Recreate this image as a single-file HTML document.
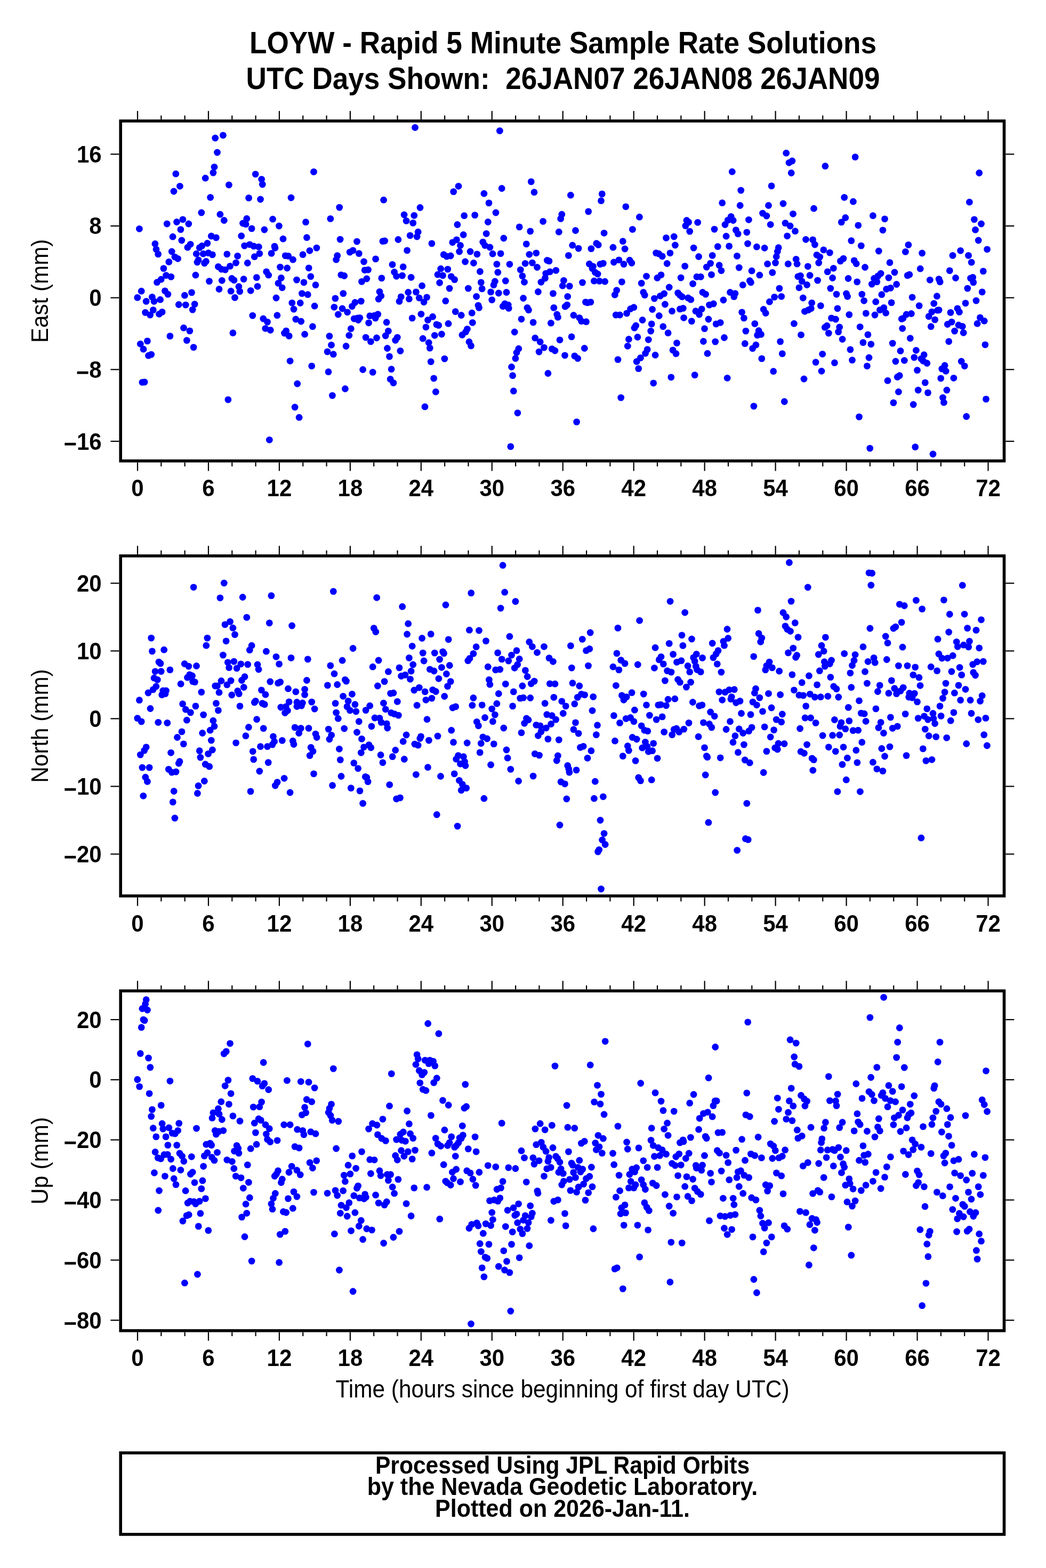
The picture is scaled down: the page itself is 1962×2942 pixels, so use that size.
<!DOCTYPE html>
<html><head><meta charset="utf-8"><title>LOYW - Rapid 5 Minute Sample Rate Solutions</title>
<style>html,body{margin:0;padding:0;background:#fff;} svg{display:block;}</style></head>
<body>
<svg width="1962" height="2942" viewBox="0 0 1962 2942">
<rect width="1962" height="2942" fill="#fff"/>
<text transform="translate(1056.00,100.00) scale(1,1.07)" font-family="Liberation Sans, Arial, sans-serif" font-weight="bold" font-size="53.2" text-anchor="middle" style="white-space:pre" >LOYW - Rapid 5 Minute Sample Rate Solutions</text>
<text transform="translate(1056.00,166.80) scale(1,1.07)" font-family="Liberation Sans, Arial, sans-serif" font-weight="bold" font-size="53.1" text-anchor="middle" style="white-space:pre" >UTC Days Shown:  26JAN07 26JAN08 26JAN09</text>
<g fill="#0000ff">
<circle cx="418.4" cy="253.8" r="6.4"/>
<circle cx="403.7" cy="259.0" r="6.4"/>
<circle cx="407.5" cy="286.0" r="6.4"/>
<circle cx="402.0" cy="313.3" r="6.4"/>
<circle cx="399.9" cy="324.1" r="6.4"/>
<circle cx="329.8" cy="326.2" r="6.4"/>
<circle cx="385.2" cy="334.2" r="6.4"/>
<circle cx="479.2" cy="326.8" r="6.4"/>
<circle cx="490.6" cy="336.3" r="6.4"/>
<circle cx="492.3" cy="346.0" r="6.4"/>
<circle cx="429.4" cy="347.0" r="6.4"/>
<circle cx="337.4" cy="349.3" r="6.4"/>
<circle cx="326.0" cy="359.0" r="6.4"/>
<circle cx="394.6" cy="370.4" r="6.4"/>
<circle cx="466.6" cy="371.4" r="6.4"/>
<circle cx="488.5" cy="374.0" r="6.4"/>
<circle cx="546.0" cy="371.0" r="6.4"/>
<circle cx="377.8" cy="399.0" r="6.4"/>
<circle cx="412.9" cy="402.2" r="6.4"/>
<circle cx="420.3" cy="413.5" r="6.4"/>
<circle cx="462.8" cy="410.2" r="6.4"/>
<circle cx="511.6" cy="411.2" r="6.4"/>
<circle cx="455.5" cy="419.0" r="6.4"/>
<circle cx="461.1" cy="420.7" r="6.4"/>
<circle cx="472.1" cy="428.9" r="6.4"/>
<circle cx="495.9" cy="431.0" r="6.4"/>
<circle cx="523.4" cy="424.0" r="6.4"/>
<circle cx="261.4" cy="429.3" r="6.4"/>
<circle cx="313.2" cy="420.0" r="6.4"/>
<circle cx="331.5" cy="416.5" r="6.4"/>
<circle cx="342.9" cy="411.8" r="6.4"/>
<circle cx="353.8" cy="420.0" r="6.4"/>
<circle cx="338.9" cy="430.6" r="6.4"/>
<circle cx="324.1" cy="444.2" r="6.4"/>
<circle cx="340.8" cy="451.0" r="6.4"/>
<circle cx="452.7" cy="442.6" r="6.4"/>
<circle cx="531.0" cy="448.2" r="6.4"/>
<circle cx="396.3" cy="443.0" r="6.4"/>
<circle cx="405.4" cy="445.9" r="6.4"/>
<circle cx="290.9" cy="457.5" r="6.4"/>
<circle cx="293.0" cy="467.8" r="6.4"/>
<circle cx="296.6" cy="476.9" r="6.4"/>
<circle cx="322.2" cy="472.0" r="6.4"/>
<circle cx="327.9" cy="482.1" r="6.4"/>
<circle cx="333.6" cy="485.3" r="6.4"/>
<circle cx="316.8" cy="491.4" r="6.4"/>
<circle cx="357.2" cy="458.3" r="6.4"/>
<circle cx="351.9" cy="464.2" r="6.4"/>
<circle cx="388.9" cy="456.5" r="6.4"/>
<circle cx="378.8" cy="461.5" r="6.4"/>
<circle cx="374.2" cy="464.7" r="6.4"/>
<circle cx="368.3" cy="476.2" r="6.4"/>
<circle cx="381.2" cy="476.2" r="6.4"/>
<circle cx="390.8" cy="474.6" r="6.4"/>
<circle cx="398.4" cy="477.9" r="6.4"/>
<circle cx="372.1" cy="487.8" r="6.4"/>
<circle cx="370.0" cy="492.0" r="6.4"/>
<circle cx="386.4" cy="490.5" r="6.4"/>
<circle cx="383.5" cy="493.9" r="6.4"/>
<circle cx="425.8" cy="476.9" r="6.4"/>
<circle cx="445.6" cy="480.4" r="6.4"/>
<circle cx="458.6" cy="461.1" r="6.4"/>
<circle cx="468.3" cy="458.8" r="6.4"/>
<circle cx="475.9" cy="461.9" r="6.4"/>
<circle cx="485.3" cy="463.2" r="6.4"/>
<circle cx="486.8" cy="475.8" r="6.4"/>
<circle cx="477.3" cy="481.7" r="6.4"/>
<circle cx="509.1" cy="475.4" r="6.4"/>
<circle cx="515.0" cy="462.1" r="6.4"/>
<circle cx="515.9" cy="465.3" r="6.4"/>
<circle cx="535.2" cy="479.8" r="6.4"/>
<circle cx="540.7" cy="480.4" r="6.4"/>
<circle cx="549.5" cy="487.2" r="6.4"/>
<circle cx="442.6" cy="493.1" r="6.4"/>
<circle cx="464.3" cy="493.5" r="6.4"/>
<circle cx="409.4" cy="500.4" r="6.4"/>
<circle cx="415.3" cy="505.1" r="6.4"/>
<circle cx="422.4" cy="506.1" r="6.4"/>
<circle cx="431.5" cy="499.4" r="6.4"/>
<circle cx="306.9" cy="503.6" r="6.4"/>
<circle cx="311.5" cy="516.6" r="6.4"/>
<circle cx="320.8" cy="519.4" r="6.4"/>
<circle cx="302.2" cy="524.2" r="6.4"/>
<circle cx="294.5" cy="529.7" r="6.4"/>
<circle cx="366.9" cy="516.2" r="6.4"/>
<circle cx="392.5" cy="527.6" r="6.4"/>
<circle cx="416.3" cy="526.3" r="6.4"/>
<circle cx="434.8" cy="522.5" r="6.4"/>
<circle cx="439.0" cy="525.7" r="6.4"/>
<circle cx="457.1" cy="523.6" r="6.4"/>
<circle cx="481.3" cy="520.6" r="6.4"/>
<circle cx="499.7" cy="509.9" r="6.4"/>
<circle cx="503.7" cy="516.2" r="6.4"/>
<circle cx="525.5" cy="501.1" r="6.4"/>
<circle cx="538.6" cy="503.0" r="6.4"/>
<circle cx="527.4" cy="521.5" r="6.4"/>
<circle cx="522.0" cy="531.4" r="6.4"/>
<circle cx="529.3" cy="539.8" r="6.4"/>
<circle cx="483.0" cy="537.3" r="6.4"/>
<circle cx="447.9" cy="537.7" r="6.4"/>
<circle cx="556.5" cy="525.1" r="6.4"/>
<circle cx="411.0" cy="542.5" r="6.4"/>
<circle cx="470.2" cy="545.3" r="6.4"/>
<circle cx="265.2" cy="546.2" r="6.4"/>
<circle cx="257.8" cy="558.4" r="6.4"/>
<circle cx="274.2" cy="565.4" r="6.4"/>
<circle cx="285.4" cy="557.4" r="6.4"/>
<circle cx="289.0" cy="565.4" r="6.4"/>
<circle cx="300.6" cy="562.2" r="6.4"/>
<circle cx="309.4" cy="545.8" r="6.4"/>
<circle cx="314.9" cy="552.1" r="6.4"/>
<circle cx="272.6" cy="586.4" r="6.4"/>
<circle cx="281.6" cy="591.0" r="6.4"/>
<circle cx="287.3" cy="581.6" r="6.4"/>
<circle cx="298.5" cy="589.3" r="6.4"/>
<circle cx="304.1" cy="585.4" r="6.4"/>
<circle cx="335.3" cy="571.5" r="6.4"/>
<circle cx="346.4" cy="554.2" r="6.4"/>
<circle cx="359.5" cy="548.9" r="6.4"/>
<circle cx="348.3" cy="572.1" r="6.4"/>
<circle cx="365.2" cy="570.6" r="6.4"/>
<circle cx="361.2" cy="581.1" r="6.4"/>
<circle cx="433.1" cy="546.2" r="6.4"/>
<circle cx="449.8" cy="546.8" r="6.4"/>
<circle cx="440.5" cy="558.4" r="6.4"/>
<circle cx="473.8" cy="592.1" r="6.4"/>
<circle cx="493.8" cy="598.0" r="6.4"/>
<circle cx="501.5" cy="604.1" r="6.4"/>
<circle cx="497.8" cy="616.3" r="6.4"/>
<circle cx="507.2" cy="619.4" r="6.4"/>
<circle cx="518.0" cy="559.0" r="6.4"/>
<circle cx="519.9" cy="591.7" r="6.4"/>
<circle cx="547.8" cy="568.3" r="6.4"/>
<circle cx="551.0" cy="580.1" r="6.4"/>
<circle cx="554.8" cy="599.0" r="6.4"/>
<circle cx="344.5" cy="615.2" r="6.4"/>
<circle cx="355.9" cy="620.9" r="6.4"/>
<circle cx="318.9" cy="630.6" r="6.4"/>
<circle cx="436.9" cy="624.7" r="6.4"/>
<circle cx="533.5" cy="625.1" r="6.4"/>
<circle cx="536.7" cy="620.9" r="6.4"/>
<circle cx="542.2" cy="630.4" r="6.4"/>
<circle cx="276.4" cy="639.9" r="6.4"/>
<circle cx="263.3" cy="645.3" r="6.4"/>
<circle cx="269.0" cy="655.2" r="6.4"/>
<circle cx="278.5" cy="667.2" r="6.4"/>
<circle cx="283.7" cy="665.1" r="6.4"/>
<circle cx="350.4" cy="638.6" r="6.4"/>
<circle cx="363.1" cy="651.6" r="6.4"/>
<circle cx="544.1" cy="677.3" r="6.4"/>
<circle cx="266.9" cy="717.3" r="6.4"/>
<circle cx="271.1" cy="716.9" r="6.4"/>
<circle cx="427.9" cy="749.9" r="6.4"/>
<circle cx="557.7" cy="720.0" r="6.4"/>
<circle cx="553.1" cy="764.0" r="6.4"/>
<circle cx="505.3" cy="825.3" r="6.4"/>
<circle cx="778.5" cy="239.3" r="6.4"/>
<circle cx="588.5" cy="322.4" r="6.4"/>
<circle cx="860.0" cy="349.3" r="6.4"/>
<circle cx="850.7" cy="359.6" r="6.4"/>
<circle cx="719.6" cy="375.2" r="6.4"/>
<circle cx="636.7" cy="389.1" r="6.4"/>
<circle cx="788.0" cy="389.5" r="6.4"/>
<circle cx="758.1" cy="403.0" r="6.4"/>
<circle cx="776.8" cy="404.3" r="6.4"/>
<circle cx="762.1" cy="414.4" r="6.4"/>
<circle cx="774.7" cy="418.4" r="6.4"/>
<circle cx="870.7" cy="404.7" r="6.4"/>
<circle cx="619.8" cy="410.4" r="6.4"/>
<circle cx="573.5" cy="416.7" r="6.4"/>
<circle cx="857.9" cy="421.5" r="6.4"/>
<circle cx="784.2" cy="435.2" r="6.4"/>
<circle cx="769.2" cy="441.9" r="6.4"/>
<circle cx="782.1" cy="444.0" r="6.4"/>
<circle cx="869.2" cy="440.5" r="6.4"/>
<circle cx="575.4" cy="445.7" r="6.4"/>
<circle cx="638.1" cy="449.1" r="6.4"/>
<circle cx="669.5" cy="453.1" r="6.4"/>
<circle cx="717.9" cy="452.7" r="6.4"/>
<circle cx="721.7" cy="452.0" r="6.4"/>
<circle cx="746.9" cy="449.5" r="6.4"/>
<circle cx="809.9" cy="456.9" r="6.4"/>
<circle cx="848.8" cy="454.8" r="6.4"/>
<circle cx="856.4" cy="449.9" r="6.4"/>
<circle cx="863.5" cy="460.5" r="6.4"/>
<circle cx="861.6" cy="472.0" r="6.4"/>
<circle cx="882.1" cy="472.0" r="6.4"/>
<circle cx="763.6" cy="469.9" r="6.4"/>
<circle cx="593.9" cy="465.1" r="6.4"/>
<circle cx="580.9" cy="470.3" r="6.4"/>
<circle cx="568.0" cy="477.7" r="6.4"/>
<circle cx="632.7" cy="479.6" r="6.4"/>
<circle cx="630.6" cy="487.2" r="6.4"/>
<circle cx="656.2" cy="473.1" r="6.4"/>
<circle cx="662.1" cy="469.9" r="6.4"/>
<circle cx="673.3" cy="475.6" r="6.4"/>
<circle cx="682.5" cy="491.0" r="6.4"/>
<circle cx="704.6" cy="485.9" r="6.4"/>
<circle cx="736.0" cy="496.4" r="6.4"/>
<circle cx="756.2" cy="500.7" r="6.4"/>
<circle cx="832.2" cy="477.7" r="6.4"/>
<circle cx="837.9" cy="481.1" r="6.4"/>
<circle cx="845.2" cy="480.0" r="6.4"/>
<circle cx="872.6" cy="491.0" r="6.4"/>
<circle cx="579.2" cy="502.8" r="6.4"/>
<circle cx="684.2" cy="506.8" r="6.4"/>
<circle cx="690.5" cy="506.1" r="6.4"/>
<circle cx="826.7" cy="504.2" r="6.4"/>
<circle cx="839.8" cy="505.1" r="6.4"/>
<circle cx="739.6" cy="510.5" r="6.4"/>
<circle cx="743.6" cy="518.3" r="6.4"/>
<circle cx="754.5" cy="517.1" r="6.4"/>
<circle cx="771.1" cy="520.4" r="6.4"/>
<circle cx="639.8" cy="515.8" r="6.4"/>
<circle cx="645.7" cy="517.5" r="6.4"/>
<circle cx="582.8" cy="518.8" r="6.4"/>
<circle cx="687.8" cy="523.0" r="6.4"/>
<circle cx="678.5" cy="528.4" r="6.4"/>
<circle cx="715.8" cy="521.9" r="6.4"/>
<circle cx="821.0" cy="515.2" r="6.4"/>
<circle cx="830.5" cy="516.9" r="6.4"/>
<circle cx="846.3" cy="518.8" r="6.4"/>
<circle cx="852.6" cy="524.6" r="6.4"/>
<circle cx="824.6" cy="530.5" r="6.4"/>
<circle cx="791.6" cy="536.2" r="6.4"/>
<circle cx="569.9" cy="529.9" r="6.4"/>
<circle cx="592.0" cy="534.7" r="6.4"/>
<circle cx="843.1" cy="541.1" r="6.4"/>
<circle cx="878.3" cy="541.1" r="6.4"/>
<circle cx="566.4" cy="550.6" r="6.4"/>
<circle cx="577.3" cy="552.7" r="6.4"/>
<circle cx="643.8" cy="550.6" r="6.4"/>
<circle cx="628.9" cy="559.9" r="6.4"/>
<circle cx="712.0" cy="547.3" r="6.4"/>
<circle cx="714.7" cy="555.3" r="6.4"/>
<circle cx="710.1" cy="561.1" r="6.4"/>
<circle cx="563.2" cy="568.5" r="6.4"/>
<circle cx="590.1" cy="574.2" r="6.4"/>
<circle cx="626.8" cy="576.3" r="6.4"/>
<circle cx="642.1" cy="579.0" r="6.4"/>
<circle cx="651.6" cy="585.8" r="6.4"/>
<circle cx="634.3" cy="590.0" r="6.4"/>
<circle cx="660.4" cy="574.8" r="6.4"/>
<circle cx="665.9" cy="567.5" r="6.4"/>
<circle cx="677.3" cy="565.1" r="6.4"/>
<circle cx="664.2" cy="598.0" r="6.4"/>
<circle cx="670.5" cy="596.9" r="6.4"/>
<circle cx="674.8" cy="596.3" r="6.4"/>
<circle cx="672.0" cy="600.5" r="6.4"/>
<circle cx="693.7" cy="592.7" r="6.4"/>
<circle cx="702.1" cy="592.1" r="6.4"/>
<circle cx="708.8" cy="589.6" r="6.4"/>
<circle cx="704.2" cy="596.9" r="6.4"/>
<circle cx="691.6" cy="605.8" r="6.4"/>
<circle cx="752.2" cy="556.9" r="6.4"/>
<circle cx="765.7" cy="548.5" r="6.4"/>
<circle cx="780.4" cy="547.9" r="6.4"/>
<circle cx="767.4" cy="560.9" r="6.4"/>
<circle cx="749.0" cy="565.4" r="6.4"/>
<circle cx="786.3" cy="559.0" r="6.4"/>
<circle cx="800.6" cy="557.8" r="6.4"/>
<circle cx="795.1" cy="566.8" r="6.4"/>
<circle cx="835.8" cy="564.7" r="6.4"/>
<circle cx="564.7" cy="603.0" r="6.4"/>
<circle cx="586.4" cy="612.7" r="6.4"/>
<circle cx="571.6" cy="627.2" r="6.4"/>
<circle cx="617.9" cy="630.6" r="6.4"/>
<circle cx="621.5" cy="647.4" r="6.4"/>
<circle cx="614.1" cy="659.9" r="6.4"/>
<circle cx="625.3" cy="664.7" r="6.4"/>
<circle cx="658.3" cy="616.7" r="6.4"/>
<circle cx="654.8" cy="629.3" r="6.4"/>
<circle cx="649.1" cy="649.5" r="6.4"/>
<circle cx="686.1" cy="633.1" r="6.4"/>
<circle cx="695.4" cy="640.9" r="6.4"/>
<circle cx="706.5" cy="634.0" r="6.4"/>
<circle cx="725.1" cy="604.7" r="6.4"/>
<circle cx="728.4" cy="621.1" r="6.4"/>
<circle cx="723.2" cy="630.0" r="6.4"/>
<circle cx="745.3" cy="633.1" r="6.4"/>
<circle cx="741.7" cy="638.4" r="6.4"/>
<circle cx="726.5" cy="653.5" r="6.4"/>
<circle cx="750.9" cy="658.4" r="6.4"/>
<circle cx="730.5" cy="668.9" r="6.4"/>
<circle cx="773.2" cy="596.9" r="6.4"/>
<circle cx="789.9" cy="589.3" r="6.4"/>
<circle cx="811.6" cy="594.2" r="6.4"/>
<circle cx="802.5" cy="600.5" r="6.4"/>
<circle cx="798.9" cy="613.8" r="6.4"/>
<circle cx="818.9" cy="608.9" r="6.4"/>
<circle cx="822.7" cy="610.4" r="6.4"/>
<circle cx="841.0" cy="607.2" r="6.4"/>
<circle cx="828.4" cy="627.0" r="6.4"/>
<circle cx="815.3" cy="629.3" r="6.4"/>
<circle cx="793.2" cy="635.2" r="6.4"/>
<circle cx="804.2" cy="643.0" r="6.4"/>
<circle cx="806.3" cy="653.1" r="6.4"/>
<circle cx="854.3" cy="584.7" r="6.4"/>
<circle cx="865.2" cy="591.5" r="6.4"/>
<circle cx="885.2" cy="587.2" r="6.4"/>
<circle cx="886.3" cy="605.3" r="6.4"/>
<circle cx="876.4" cy="617.3" r="6.4"/>
<circle cx="873.6" cy="622.6" r="6.4"/>
<circle cx="866.9" cy="628.5" r="6.4"/>
<circle cx="880.0" cy="641.5" r="6.4"/>
<circle cx="883.5" cy="648.9" r="6.4"/>
<circle cx="584.7" cy="686.8" r="6.4"/>
<circle cx="616.0" cy="697.7" r="6.4"/>
<circle cx="680.6" cy="693.5" r="6.4"/>
<circle cx="699.2" cy="698.4" r="6.4"/>
<circle cx="734.1" cy="692.7" r="6.4"/>
<circle cx="732.2" cy="711.4" r="6.4"/>
<circle cx="737.9" cy="718.4" r="6.4"/>
<circle cx="808.2" cy="678.6" r="6.4"/>
<circle cx="833.9" cy="673.1" r="6.4"/>
<circle cx="813.7" cy="709.9" r="6.4"/>
<circle cx="817.4" cy="735.2" r="6.4"/>
<circle cx="647.4" cy="729.5" r="6.4"/>
<circle cx="623.4" cy="742.1" r="6.4"/>
<circle cx="797.0" cy="763.2" r="6.4"/>
<circle cx="561.1" cy="783.2" r="6.4"/>
<circle cx="937.4" cy="245.4" r="6.4"/>
<circle cx="996.3" cy="340.9" r="6.4"/>
<circle cx="941.2" cy="353.5" r="6.4"/>
<circle cx="1002.0" cy="360.7" r="6.4"/>
<circle cx="907.9" cy="363.2" r="6.4"/>
<circle cx="917.0" cy="380.9" r="6.4"/>
<circle cx="930.0" cy="399.0" r="6.4"/>
<circle cx="890.7" cy="403.6" r="6.4"/>
<circle cx="915.3" cy="416.5" r="6.4"/>
<circle cx="1070.4" cy="366.2" r="6.4"/>
<circle cx="1129.3" cy="363.9" r="6.4"/>
<circle cx="1127.5" cy="376.7" r="6.4"/>
<circle cx="1173.8" cy="387.8" r="6.4"/>
<circle cx="1103.7" cy="396.9" r="6.4"/>
<circle cx="1053.8" cy="402.2" r="6.4"/>
<circle cx="1051.7" cy="410.4" r="6.4"/>
<circle cx="1018.6" cy="415.4" r="6.4"/>
<circle cx="1199.4" cy="407.2" r="6.4"/>
<circle cx="974.2" cy="425.9" r="6.4"/>
<circle cx="994.7" cy="433.9" r="6.4"/>
<circle cx="1048.3" cy="435.2" r="6.4"/>
<circle cx="1079.5" cy="432.5" r="6.4"/>
<circle cx="1133.1" cy="437.3" r="6.4"/>
<circle cx="1186.4" cy="430.4" r="6.4"/>
<circle cx="912.2" cy="438.4" r="6.4"/>
<circle cx="944.8" cy="447.0" r="6.4"/>
<circle cx="905.8" cy="454.1" r="6.4"/>
<circle cx="909.6" cy="460.5" r="6.4"/>
<circle cx="918.9" cy="464.0" r="6.4"/>
<circle cx="987.3" cy="457.9" r="6.4"/>
<circle cx="1073.8" cy="460.2" r="6.4"/>
<circle cx="1085.1" cy="466.1" r="6.4"/>
<circle cx="1108.9" cy="466.6" r="6.4"/>
<circle cx="1118.8" cy="456.7" r="6.4"/>
<circle cx="1122.2" cy="459.4" r="6.4"/>
<circle cx="1150.0" cy="464.2" r="6.4"/>
<circle cx="1168.3" cy="452.7" r="6.4"/>
<circle cx="1172.1" cy="467.0" r="6.4"/>
<circle cx="894.9" cy="476.9" r="6.4"/>
<circle cx="924.1" cy="476.2" r="6.4"/>
<circle cx="939.1" cy="475.8" r="6.4"/>
<circle cx="992.8" cy="477.3" r="6.4"/>
<circle cx="1005.8" cy="474.8" r="6.4"/>
<circle cx="1066.4" cy="479.4" r="6.4"/>
<circle cx="888.4" cy="493.5" r="6.4"/>
<circle cx="931.9" cy="495.6" r="6.4"/>
<circle cx="955.9" cy="495.8" r="6.4"/>
<circle cx="985.2" cy="494.3" r="6.4"/>
<circle cx="998.4" cy="493.1" r="6.4"/>
<circle cx="1007.5" cy="501.5" r="6.4"/>
<circle cx="1026.4" cy="488.4" r="6.4"/>
<circle cx="1030.0" cy="489.9" r="6.4"/>
<circle cx="1105.4" cy="495.2" r="6.4"/>
<circle cx="1112.5" cy="499.8" r="6.4"/>
<circle cx="1111.0" cy="503.6" r="6.4"/>
<circle cx="1125.8" cy="495.6" r="6.4"/>
<circle cx="1131.4" cy="494.1" r="6.4"/>
<circle cx="1151.4" cy="492.0" r="6.4"/>
<circle cx="1160.9" cy="487.8" r="6.4"/>
<circle cx="1170.0" cy="495.6" r="6.4"/>
<circle cx="1181.1" cy="488.2" r="6.4"/>
<circle cx="1184.9" cy="493.5" r="6.4"/>
<circle cx="900.4" cy="509.5" r="6.4"/>
<circle cx="933.8" cy="511.0" r="6.4"/>
<circle cx="976.3" cy="506.1" r="6.4"/>
<circle cx="979.9" cy="517.9" r="6.4"/>
<circle cx="983.5" cy="529.3" r="6.4"/>
<circle cx="1023.7" cy="513.1" r="6.4"/>
<circle cx="1031.5" cy="509.9" r="6.4"/>
<circle cx="1042.8" cy="507.4" r="6.4"/>
<circle cx="1022.4" cy="522.1" r="6.4"/>
<circle cx="1014.9" cy="529.3" r="6.4"/>
<circle cx="1057.4" cy="526.3" r="6.4"/>
<circle cx="1055.3" cy="536.2" r="6.4"/>
<circle cx="1068.3" cy="536.9" r="6.4"/>
<circle cx="1092.5" cy="530.1" r="6.4"/>
<circle cx="1116.3" cy="511.0" r="6.4"/>
<circle cx="1121.1" cy="514.1" r="6.4"/>
<circle cx="1114.4" cy="527.2" r="6.4"/>
<circle cx="1124.3" cy="527.4" r="6.4"/>
<circle cx="1134.6" cy="528.2" r="6.4"/>
<circle cx="1166.4" cy="528.9" r="6.4"/>
<circle cx="1212.5" cy="518.3" r="6.4"/>
<circle cx="1203.2" cy="531.4" r="6.4"/>
<circle cx="902.3" cy="529.9" r="6.4"/>
<circle cx="928.4" cy="528.0" r="6.4"/>
<circle cx="926.0" cy="534.7" r="6.4"/>
<circle cx="948.3" cy="527.0" r="6.4"/>
<circle cx="904.2" cy="541.9" r="6.4"/>
<circle cx="1156.7" cy="544.6" r="6.4"/>
<circle cx="920.6" cy="547.9" r="6.4"/>
<circle cx="935.3" cy="550.0" r="6.4"/>
<circle cx="950.0" cy="548.5" r="6.4"/>
<circle cx="1009.4" cy="547.5" r="6.4"/>
<circle cx="1037.4" cy="550.6" r="6.4"/>
<circle cx="1153.3" cy="553.2" r="6.4"/>
<circle cx="1206.8" cy="548.5" r="6.4"/>
<circle cx="1209.3" cy="553.6" r="6.4"/>
<circle cx="893.6" cy="556.3" r="6.4"/>
<circle cx="922.7" cy="562.6" r="6.4"/>
<circle cx="981.6" cy="559.5" r="6.4"/>
<circle cx="1064.7" cy="556.3" r="6.4"/>
<circle cx="897.0" cy="573.1" r="6.4"/>
<circle cx="898.5" cy="577.4" r="6.4"/>
<circle cx="943.3" cy="574.8" r="6.4"/>
<circle cx="946.9" cy="570.0" r="6.4"/>
<circle cx="953.2" cy="572.1" r="6.4"/>
<circle cx="954.2" cy="578.4" r="6.4"/>
<circle cx="989.0" cy="577.4" r="6.4"/>
<circle cx="991.5" cy="581.6" r="6.4"/>
<circle cx="1038.8" cy="577.4" r="6.4"/>
<circle cx="1060.1" cy="575.2" r="6.4"/>
<circle cx="1063.7" cy="572.1" r="6.4"/>
<circle cx="1098.4" cy="566.8" r="6.4"/>
<circle cx="1102.0" cy="567.9" r="6.4"/>
<circle cx="1107.9" cy="566.8" r="6.4"/>
<circle cx="1044.7" cy="590.0" r="6.4"/>
<circle cx="1046.4" cy="595.2" r="6.4"/>
<circle cx="1075.9" cy="591.5" r="6.4"/>
<circle cx="1086.8" cy="596.3" r="6.4"/>
<circle cx="1090.6" cy="602.6" r="6.4"/>
<circle cx="1099.5" cy="603.7" r="6.4"/>
<circle cx="978.0" cy="598.8" r="6.4"/>
<circle cx="1000.1" cy="604.9" r="6.4"/>
<circle cx="1033.4" cy="606.2" r="6.4"/>
<circle cx="1155.2" cy="591.0" r="6.4"/>
<circle cx="1162.6" cy="591.0" r="6.4"/>
<circle cx="1175.6" cy="587.9" r="6.4"/>
<circle cx="1182.6" cy="579.5" r="6.4"/>
<circle cx="1188.9" cy="576.7" r="6.4"/>
<circle cx="1205.1" cy="600.5" r="6.4"/>
<circle cx="1190.0" cy="615.2" r="6.4"/>
<circle cx="1192.7" cy="611.0" r="6.4"/>
<circle cx="1216.3" cy="637.3" r="6.4"/>
<circle cx="965.2" cy="623.0" r="6.4"/>
<circle cx="1003.7" cy="634.2" r="6.4"/>
<circle cx="1013.2" cy="641.5" r="6.4"/>
<circle cx="1020.5" cy="652.1" r="6.4"/>
<circle cx="1011.1" cy="660.1" r="6.4"/>
<circle cx="1035.3" cy="654.6" r="6.4"/>
<circle cx="1041.0" cy="658.0" r="6.4"/>
<circle cx="1050.0" cy="637.8" r="6.4"/>
<circle cx="1072.1" cy="631.9" r="6.4"/>
<circle cx="1096.3" cy="653.5" r="6.4"/>
<circle cx="1059.5" cy="666.8" r="6.4"/>
<circle cx="1077.8" cy="667.9" r="6.4"/>
<circle cx="1083.7" cy="672.5" r="6.4"/>
<circle cx="972.8" cy="654.2" r="6.4"/>
<circle cx="969.0" cy="661.5" r="6.4"/>
<circle cx="966.9" cy="672.5" r="6.4"/>
<circle cx="959.5" cy="688.5" r="6.4"/>
<circle cx="961.6" cy="704.7" r="6.4"/>
<circle cx="963.3" cy="733.7" r="6.4"/>
<circle cx="970.9" cy="774.8" r="6.4"/>
<circle cx="1027.9" cy="700.5" r="6.4"/>
<circle cx="1081.6" cy="791.6" r="6.4"/>
<circle cx="957.8" cy="837.9" r="6.4"/>
<circle cx="1159.0" cy="674.6" r="6.4"/>
<circle cx="1164.7" cy="746.1" r="6.4"/>
<circle cx="1179.4" cy="636.5" r="6.4"/>
<circle cx="1177.3" cy="649.3" r="6.4"/>
<circle cx="1195.9" cy="632.5" r="6.4"/>
<circle cx="1214.2" cy="655.6" r="6.4"/>
<circle cx="1210.6" cy="663.0" r="6.4"/>
<circle cx="1201.5" cy="671.4" r="6.4"/>
<circle cx="1194.2" cy="678.4" r="6.4"/>
<circle cx="1197.7" cy="691.6" r="6.4"/>
<circle cx="1474.7" cy="287.2" r="6.4"/>
<circle cx="1480.0" cy="305.3" r="6.4"/>
<circle cx="1485.9" cy="302.0" r="6.4"/>
<circle cx="1484.2" cy="324.5" r="6.4"/>
<circle cx="1547.9" cy="311.7" r="6.4"/>
<circle cx="1373.3" cy="322.2" r="6.4"/>
<circle cx="1447.1" cy="348.9" r="6.4"/>
<circle cx="1389.7" cy="357.1" r="6.4"/>
<circle cx="1354.7" cy="380.7" r="6.4"/>
<circle cx="1388.2" cy="385.5" r="6.4"/>
<circle cx="1441.5" cy="385.5" r="6.4"/>
<circle cx="1469.0" cy="382.0" r="6.4"/>
<circle cx="1526.5" cy="391.2" r="6.4"/>
<circle cx="1430.5" cy="400.1" r="6.4"/>
<circle cx="1437.9" cy="405.1" r="6.4"/>
<circle cx="1487.5" cy="401.3" r="6.4"/>
<circle cx="1371.2" cy="406.4" r="6.4"/>
<circle cx="1365.3" cy="413.1" r="6.4"/>
<circle cx="1375.2" cy="413.5" r="6.4"/>
<circle cx="1360.0" cy="421.5" r="6.4"/>
<circle cx="1404.4" cy="412.3" r="6.4"/>
<circle cx="1445.2" cy="421.3" r="6.4"/>
<circle cx="1473.0" cy="418.6" r="6.4"/>
<circle cx="1482.1" cy="424.0" r="6.4"/>
<circle cx="1491.5" cy="433.7" r="6.4"/>
<circle cx="1476.6" cy="442.8" r="6.4"/>
<circle cx="1288.0" cy="413.5" r="6.4"/>
<circle cx="1291.6" cy="416.9" r="6.4"/>
<circle cx="1285.9" cy="423.6" r="6.4"/>
<circle cx="1293.7" cy="434.1" r="6.4"/>
<circle cx="1308.7" cy="417.3" r="6.4"/>
<circle cx="1340.0" cy="430.1" r="6.4"/>
<circle cx="1380.4" cy="431.6" r="6.4"/>
<circle cx="1384.2" cy="438.8" r="6.4"/>
<circle cx="1400.8" cy="435.8" r="6.4"/>
<circle cx="1362.1" cy="443.2" r="6.4"/>
<circle cx="1249.5" cy="446.4" r="6.4"/>
<circle cx="1264.2" cy="444.0" r="6.4"/>
<circle cx="1266.4" cy="460.0" r="6.4"/>
<circle cx="1301.1" cy="465.1" r="6.4"/>
<circle cx="1346.3" cy="462.6" r="6.4"/>
<circle cx="1367.6" cy="461.9" r="6.4"/>
<circle cx="1402.5" cy="457.1" r="6.4"/>
<circle cx="1419.4" cy="463.2" r="6.4"/>
<circle cx="1434.1" cy="465.3" r="6.4"/>
<circle cx="1460.2" cy="464.7" r="6.4"/>
<circle cx="1458.3" cy="472.0" r="6.4"/>
<circle cx="1456.2" cy="481.5" r="6.4"/>
<circle cx="1454.5" cy="493.1" r="6.4"/>
<circle cx="1511.5" cy="449.3" r="6.4"/>
<circle cx="1524.6" cy="449.9" r="6.4"/>
<circle cx="1528.4" cy="459.0" r="6.4"/>
<circle cx="1544.8" cy="468.9" r="6.4"/>
<circle cx="1230.6" cy="474.6" r="6.4"/>
<circle cx="1235.8" cy="476.2" r="6.4"/>
<circle cx="1242.2" cy="480.9" r="6.4"/>
<circle cx="1256.9" cy="474.8" r="6.4"/>
<circle cx="1310.6" cy="481.5" r="6.4"/>
<circle cx="1336.2" cy="479.4" r="6.4"/>
<circle cx="1382.5" cy="480.4" r="6.4"/>
<circle cx="1251.2" cy="494.5" r="6.4"/>
<circle cx="1284.7" cy="499.4" r="6.4"/>
<circle cx="1332.6" cy="494.1" r="6.4"/>
<circle cx="1325.3" cy="501.1" r="6.4"/>
<circle cx="1349.1" cy="497.7" r="6.4"/>
<circle cx="1352.9" cy="507.8" r="6.4"/>
<circle cx="1386.3" cy="502.1" r="6.4"/>
<circle cx="1410.1" cy="508.2" r="6.4"/>
<circle cx="1424.8" cy="516.2" r="6.4"/>
<circle cx="1439.6" cy="495.2" r="6.4"/>
<circle cx="1448.8" cy="511.4" r="6.4"/>
<circle cx="1478.3" cy="495.2" r="6.4"/>
<circle cx="1493.2" cy="486.3" r="6.4"/>
<circle cx="1495.1" cy="495.2" r="6.4"/>
<circle cx="1515.3" cy="499.8" r="6.4"/>
<circle cx="1532.0" cy="478.3" r="6.4"/>
<circle cx="1537.8" cy="482.1" r="6.4"/>
<circle cx="1535.7" cy="493.1" r="6.4"/>
<circle cx="1240.0" cy="515.8" r="6.4"/>
<circle cx="1232.9" cy="521.5" r="6.4"/>
<circle cx="1277.1" cy="521.1" r="6.4"/>
<circle cx="1299.6" cy="532.4" r="6.4"/>
<circle cx="1307.0" cy="519.4" r="6.4"/>
<circle cx="1314.3" cy="519.4" r="6.4"/>
<circle cx="1334.5" cy="515.4" r="6.4"/>
<circle cx="1393.3" cy="534.7" r="6.4"/>
<circle cx="1406.3" cy="526.7" r="6.4"/>
<circle cx="1408.4" cy="529.9" r="6.4"/>
<circle cx="1496.8" cy="518.8" r="6.4"/>
<circle cx="1501.4" cy="517.3" r="6.4"/>
<circle cx="1504.2" cy="527.8" r="6.4"/>
<circle cx="1519.1" cy="516.6" r="6.4"/>
<circle cx="1513.6" cy="534.5" r="6.4"/>
<circle cx="1533.6" cy="526.1" r="6.4"/>
<circle cx="1498.9" cy="539.8" r="6.4"/>
<circle cx="1461.9" cy="541.1" r="6.4"/>
<circle cx="1255.2" cy="539.0" r="6.4"/>
<circle cx="1227.4" cy="560.1" r="6.4"/>
<circle cx="1238.4" cy="555.3" r="6.4"/>
<circle cx="1245.7" cy="551.0" r="6.4"/>
<circle cx="1271.6" cy="549.6" r="6.4"/>
<circle cx="1275.4" cy="553.8" r="6.4"/>
<circle cx="1279.4" cy="556.9" r="6.4"/>
<circle cx="1290.6" cy="559.0" r="6.4"/>
<circle cx="1295.8" cy="562.2" r="6.4"/>
<circle cx="1317.9" cy="548.5" r="6.4"/>
<circle cx="1323.6" cy="552.1" r="6.4"/>
<circle cx="1369.5" cy="548.5" r="6.4"/>
<circle cx="1378.9" cy="550.6" r="6.4"/>
<circle cx="1376.8" cy="556.7" r="6.4"/>
<circle cx="1356.9" cy="563.0" r="6.4"/>
<circle cx="1452.6" cy="557.4" r="6.4"/>
<circle cx="1465.7" cy="556.3" r="6.4"/>
<circle cx="1443.4" cy="566.2" r="6.4"/>
<circle cx="1506.3" cy="559.0" r="6.4"/>
<circle cx="1522.7" cy="568.3" r="6.4"/>
<circle cx="1539.3" cy="573.6" r="6.4"/>
<circle cx="1509.4" cy="584.3" r="6.4"/>
<circle cx="1516.2" cy="581.6" r="6.4"/>
<circle cx="1521.4" cy="578.8" r="6.4"/>
<circle cx="1223.6" cy="580.5" r="6.4"/>
<circle cx="1247.4" cy="571.0" r="6.4"/>
<circle cx="1260.5" cy="583.7" r="6.4"/>
<circle cx="1275.4" cy="579.9" r="6.4"/>
<circle cx="1281.3" cy="578.4" r="6.4"/>
<circle cx="1304.9" cy="583.7" r="6.4"/>
<circle cx="1316.2" cy="579.9" r="6.4"/>
<circle cx="1311.6" cy="590.0" r="6.4"/>
<circle cx="1330.5" cy="572.1" r="6.4"/>
<circle cx="1338.3" cy="570.0" r="6.4"/>
<circle cx="1236.3" cy="592.5" r="6.4"/>
<circle cx="1282.6" cy="596.3" r="6.4"/>
<circle cx="1297.3" cy="602.6" r="6.4"/>
<circle cx="1328.9" cy="599.0" r="6.4"/>
<circle cx="1343.2" cy="607.9" r="6.4"/>
<circle cx="1351.2" cy="605.3" r="6.4"/>
<circle cx="1391.6" cy="585.8" r="6.4"/>
<circle cx="1395.4" cy="596.9" r="6.4"/>
<circle cx="1432.2" cy="580.5" r="6.4"/>
<circle cx="1436.2" cy="587.5" r="6.4"/>
<circle cx="1222.2" cy="607.9" r="6.4"/>
<circle cx="1220.7" cy="621.1" r="6.4"/>
<circle cx="1243.8" cy="612.7" r="6.4"/>
<circle cx="1253.1" cy="624.7" r="6.4"/>
<circle cx="1321.5" cy="616.7" r="6.4"/>
<circle cx="1358.5" cy="633.5" r="6.4"/>
<circle cx="1319.4" cy="640.5" r="6.4"/>
<circle cx="1341.7" cy="641.1" r="6.4"/>
<circle cx="1269.5" cy="643.6" r="6.4"/>
<circle cx="1262.1" cy="656.9" r="6.4"/>
<circle cx="1268.0" cy="663.6" r="6.4"/>
<circle cx="1229.1" cy="666.2" r="6.4"/>
<circle cx="1327.0" cy="663.2" r="6.4"/>
<circle cx="1415.8" cy="607.4" r="6.4"/>
<circle cx="1398.9" cy="621.1" r="6.4"/>
<circle cx="1423.1" cy="620.5" r="6.4"/>
<circle cx="1427.4" cy="627.4" r="6.4"/>
<circle cx="1420.6" cy="628.9" r="6.4"/>
<circle cx="1397.3" cy="644.7" r="6.4"/>
<circle cx="1417.9" cy="647.2" r="6.4"/>
<circle cx="1411.6" cy="653.8" r="6.4"/>
<circle cx="1428.8" cy="672.9" r="6.4"/>
<circle cx="1489.4" cy="607.2" r="6.4"/>
<circle cx="1502.5" cy="628.3" r="6.4"/>
<circle cx="1463.6" cy="640.9" r="6.4"/>
<circle cx="1467.3" cy="663.6" r="6.4"/>
<circle cx="1547.3" cy="614.2" r="6.4"/>
<circle cx="1542.7" cy="664.3" r="6.4"/>
<circle cx="1530.1" cy="679.6" r="6.4"/>
<circle cx="1541.0" cy="696.3" r="6.4"/>
<circle cx="1508.0" cy="711.0" r="6.4"/>
<circle cx="1450.7" cy="696.7" r="6.4"/>
<circle cx="1258.8" cy="707.8" r="6.4"/>
<circle cx="1303.2" cy="703.6" r="6.4"/>
<circle cx="1364.2" cy="709.3" r="6.4"/>
<circle cx="1225.7" cy="718.8" r="6.4"/>
<circle cx="1413.9" cy="762.1" r="6.4"/>
<circle cx="1471.3" cy="753.5" r="6.4"/>
<circle cx="1604.1" cy="294.6" r="6.4"/>
<circle cx="1836.7" cy="324.5" r="6.4"/>
<circle cx="1583.7" cy="370.4" r="6.4"/>
<circle cx="1600.4" cy="378.2" r="6.4"/>
<circle cx="1818.4" cy="379.2" r="6.4"/>
<circle cx="1585.8" cy="408.5" r="6.4"/>
<circle cx="1578.3" cy="416.9" r="6.4"/>
<circle cx="1609.8" cy="422.8" r="6.4"/>
<circle cx="1637.4" cy="404.7" r="6.4"/>
<circle cx="1659.5" cy="410.8" r="6.4"/>
<circle cx="1655.9" cy="431.8" r="6.4"/>
<circle cx="1827.4" cy="411.8" r="6.4"/>
<circle cx="1840.5" cy="420.0" r="6.4"/>
<circle cx="1829.5" cy="431.2" r="6.4"/>
<circle cx="1835.2" cy="451.0" r="6.4"/>
<circle cx="1596.8" cy="451.6" r="6.4"/>
<circle cx="1615.3" cy="461.1" r="6.4"/>
<circle cx="1648.3" cy="471.0" r="6.4"/>
<circle cx="1703.9" cy="459.4" r="6.4"/>
<circle cx="1698.4" cy="472.4" r="6.4"/>
<circle cx="1729.6" cy="475.0" r="6.4"/>
<circle cx="1801.6" cy="470.3" r="6.4"/>
<circle cx="1787.0" cy="479.4" r="6.4"/>
<circle cx="1816.5" cy="479.4" r="6.4"/>
<circle cx="1822.2" cy="492.2" r="6.4"/>
<circle cx="1851.6" cy="467.8" r="6.4"/>
<circle cx="1556.4" cy="474.1" r="6.4"/>
<circle cx="1582.0" cy="485.1" r="6.4"/>
<circle cx="1576.4" cy="489.9" r="6.4"/>
<circle cx="1602.2" cy="488.9" r="6.4"/>
<circle cx="1606.2" cy="494.8" r="6.4"/>
<circle cx="1622.5" cy="501.5" r="6.4"/>
<circle cx="1669.0" cy="492.7" r="6.4"/>
<circle cx="1563.3" cy="503.4" r="6.4"/>
<circle cx="1552.2" cy="509.9" r="6.4"/>
<circle cx="1561.6" cy="521.5" r="6.4"/>
<circle cx="1591.1" cy="522.5" r="6.4"/>
<circle cx="1607.7" cy="528.9" r="6.4"/>
<circle cx="1652.1" cy="513.1" r="6.4"/>
<circle cx="1646.9" cy="517.9" r="6.4"/>
<circle cx="1639.5" cy="522.5" r="6.4"/>
<circle cx="1644.8" cy="528.9" r="6.4"/>
<circle cx="1635.3" cy="533.1" r="6.4"/>
<circle cx="1666.9" cy="521.1" r="6.4"/>
<circle cx="1678.0" cy="511.0" r="6.4"/>
<circle cx="1681.6" cy="533.5" r="6.4"/>
<circle cx="1702.2" cy="516.9" r="6.4"/>
<circle cx="1705.8" cy="515.2" r="6.4"/>
<circle cx="1726.2" cy="504.2" r="6.4"/>
<circle cx="1744.3" cy="525.3" r="6.4"/>
<circle cx="1761.1" cy="523.6" r="6.4"/>
<circle cx="1763.2" cy="528.9" r="6.4"/>
<circle cx="1781.3" cy="507.8" r="6.4"/>
<circle cx="1792.5" cy="521.5" r="6.4"/>
<circle cx="1820.5" cy="522.1" r="6.4"/>
<circle cx="1824.7" cy="520.4" r="6.4"/>
<circle cx="1825.8" cy="529.9" r="6.4"/>
<circle cx="1844.3" cy="508.9" r="6.4"/>
<circle cx="1814.8" cy="541.1" r="6.4"/>
<circle cx="1557.8" cy="541.1" r="6.4"/>
<circle cx="1662.6" cy="542.5" r="6.4"/>
<circle cx="1670.4" cy="540.4" r="6.4"/>
<circle cx="1842.2" cy="547.9" r="6.4"/>
<circle cx="1551.1" cy="611.2" r="6.4"/>
<circle cx="1569.0" cy="552.1" r="6.4"/>
<circle cx="1587.5" cy="551.0" r="6.4"/>
<circle cx="1589.6" cy="556.3" r="6.4"/>
<circle cx="1616.8" cy="552.1" r="6.4"/>
<circle cx="1620.6" cy="564.3" r="6.4"/>
<circle cx="1642.7" cy="566.2" r="6.4"/>
<circle cx="1653.8" cy="552.7" r="6.4"/>
<circle cx="1672.1" cy="567.9" r="6.4"/>
<circle cx="1711.1" cy="557.8" r="6.4"/>
<circle cx="1757.4" cy="555.7" r="6.4"/>
<circle cx="1751.7" cy="569.4" r="6.4"/>
<circle cx="1724.1" cy="573.6" r="6.4"/>
<circle cx="1811.0" cy="568.9" r="6.4"/>
<circle cx="1831.0" cy="564.1" r="6.4"/>
<circle cx="1570.9" cy="578.8" r="6.4"/>
<circle cx="1592.8" cy="590.4" r="6.4"/>
<circle cx="1624.3" cy="587.9" r="6.4"/>
<circle cx="1641.0" cy="591.0" r="6.4"/>
<circle cx="1650.4" cy="581.6" r="6.4"/>
<circle cx="1657.8" cy="577.4" r="6.4"/>
<circle cx="1661.6" cy="587.2" r="6.4"/>
<circle cx="1559.5" cy="596.9" r="6.4"/>
<circle cx="1567.5" cy="599.0" r="6.4"/>
<circle cx="1554.3" cy="625.1" r="6.4"/>
<circle cx="1574.7" cy="613.8" r="6.4"/>
<circle cx="1572.6" cy="622.6" r="6.4"/>
<circle cx="1580.1" cy="636.5" r="6.4"/>
<circle cx="1613.2" cy="613.3" r="6.4"/>
<circle cx="1627.9" cy="627.9" r="6.4"/>
<circle cx="1618.9" cy="642.6" r="6.4"/>
<circle cx="1633.8" cy="645.8" r="6.4"/>
<circle cx="1594.9" cy="655.9" r="6.4"/>
<circle cx="1598.5" cy="675.6" r="6.4"/>
<circle cx="1630.0" cy="671.0" r="6.4"/>
<circle cx="1626.4" cy="686.8" r="6.4"/>
<circle cx="1565.4" cy="680.7" r="6.4"/>
<circle cx="1691.3" cy="598.4" r="6.4"/>
<circle cx="1693.8" cy="597.3" r="6.4"/>
<circle cx="1700.1" cy="590.0" r="6.4"/>
<circle cx="1709.4" cy="588.5" r="6.4"/>
<circle cx="1692.7" cy="616.3" r="6.4"/>
<circle cx="1707.3" cy="634.6" r="6.4"/>
<circle cx="1674.2" cy="644.1" r="6.4"/>
<circle cx="1689.0" cy="658.4" r="6.4"/>
<circle cx="1679.9" cy="678.0" r="6.4"/>
<circle cx="1696.3" cy="676.3" r="6.4"/>
<circle cx="1718.4" cy="657.3" r="6.4"/>
<circle cx="1714.8" cy="670.6" r="6.4"/>
<circle cx="1733.2" cy="665.7" r="6.4"/>
<circle cx="1727.9" cy="673.1" r="6.4"/>
<circle cx="1731.7" cy="677.3" r="6.4"/>
<circle cx="1738.8" cy="681.5" r="6.4"/>
<circle cx="1720.5" cy="694.6" r="6.4"/>
<circle cx="1747.9" cy="585.1" r="6.4"/>
<circle cx="1758.4" cy="582.2" r="6.4"/>
<circle cx="1761.1" cy="581.6" r="6.4"/>
<circle cx="1742.2" cy="593.6" r="6.4"/>
<circle cx="1753.6" cy="599.9" r="6.4"/>
<circle cx="1746.2" cy="612.7" r="6.4"/>
<circle cx="1783.0" cy="586.4" r="6.4"/>
<circle cx="1795.9" cy="578.8" r="6.4"/>
<circle cx="1799.4" cy="585.4" r="6.4"/>
<circle cx="1777.3" cy="608.5" r="6.4"/>
<circle cx="1785.1" cy="604.1" r="6.4"/>
<circle cx="1798.0" cy="610.0" r="6.4"/>
<circle cx="1805.3" cy="612.5" r="6.4"/>
<circle cx="1790.6" cy="621.1" r="6.4"/>
<circle cx="1807.2" cy="624.3" r="6.4"/>
<circle cx="1779.7" cy="640.7" r="6.4"/>
<circle cx="1838.4" cy="595.9" r="6.4"/>
<circle cx="1846.2" cy="602.2" r="6.4"/>
<circle cx="1833.1" cy="607.2" r="6.4"/>
<circle cx="1847.9" cy="646.8" r="6.4"/>
<circle cx="1772.1" cy="685.7" r="6.4"/>
<circle cx="1766.8" cy="692.1" r="6.4"/>
<circle cx="1774.2" cy="696.3" r="6.4"/>
<circle cx="1803.2" cy="678.0" r="6.4"/>
<circle cx="1809.3" cy="686.8" r="6.4"/>
<circle cx="1764.7" cy="709.9" r="6.4"/>
<circle cx="1788.9" cy="709.3" r="6.4"/>
<circle cx="1683.3" cy="707.4" r="6.4"/>
<circle cx="1687.3" cy="704.7" r="6.4"/>
<circle cx="1665.0" cy="714.2" r="6.4"/>
<circle cx="1735.3" cy="717.9" r="6.4"/>
<circle cx="1722.2" cy="732.0" r="6.4"/>
<circle cx="1740.5" cy="736.9" r="6.4"/>
<circle cx="1775.9" cy="732.0" r="6.4"/>
<circle cx="1685.4" cy="735.2" r="6.4"/>
<circle cx="1768.5" cy="746.1" r="6.4"/>
<circle cx="1770.4" cy="755.2" r="6.4"/>
<circle cx="1675.9" cy="755.6" r="6.4"/>
<circle cx="1713.2" cy="759.0" r="6.4"/>
<circle cx="1849.5" cy="748.9" r="6.4"/>
<circle cx="1611.5" cy="782.1" r="6.4"/>
<circle cx="1812.7" cy="781.5" r="6.4"/>
<circle cx="1631.7" cy="841.1" r="6.4"/>
<circle cx="1716.7" cy="838.7" r="6.4"/>
<circle cx="1750.0" cy="852.0" r="6.4"/>
</g>
<g stroke="#000" stroke-width="2.2" stroke-linecap="butt">
<line x1="258.00" y1="224.20" x2="258.00" y2="208.20"/>
<line x1="258.00" y1="867.60" x2="258.00" y2="883.60"/>
<line x1="302.32" y1="224.20" x2="302.32" y2="216.70"/>
<line x1="302.32" y1="867.60" x2="302.32" y2="875.10"/>
<line x1="346.64" y1="224.20" x2="346.64" y2="216.70"/>
<line x1="346.64" y1="867.60" x2="346.64" y2="875.10"/>
<line x1="390.96" y1="224.20" x2="390.96" y2="208.20"/>
<line x1="390.96" y1="867.60" x2="390.96" y2="883.60"/>
<line x1="435.28" y1="224.20" x2="435.28" y2="216.70"/>
<line x1="435.28" y1="867.60" x2="435.28" y2="875.10"/>
<line x1="479.60" y1="224.20" x2="479.60" y2="216.70"/>
<line x1="479.60" y1="867.60" x2="479.60" y2="875.10"/>
<line x1="523.92" y1="224.20" x2="523.92" y2="208.20"/>
<line x1="523.92" y1="867.60" x2="523.92" y2="883.60"/>
<line x1="568.24" y1="224.20" x2="568.24" y2="216.70"/>
<line x1="568.24" y1="867.60" x2="568.24" y2="875.10"/>
<line x1="612.56" y1="224.20" x2="612.56" y2="216.70"/>
<line x1="612.56" y1="867.60" x2="612.56" y2="875.10"/>
<line x1="656.88" y1="224.20" x2="656.88" y2="208.20"/>
<line x1="656.88" y1="867.60" x2="656.88" y2="883.60"/>
<line x1="701.19" y1="224.20" x2="701.19" y2="216.70"/>
<line x1="701.19" y1="867.60" x2="701.19" y2="875.10"/>
<line x1="745.51" y1="224.20" x2="745.51" y2="216.70"/>
<line x1="745.51" y1="867.60" x2="745.51" y2="875.10"/>
<line x1="789.83" y1="224.20" x2="789.83" y2="208.20"/>
<line x1="789.83" y1="867.60" x2="789.83" y2="883.60"/>
<line x1="834.15" y1="224.20" x2="834.15" y2="216.70"/>
<line x1="834.15" y1="867.60" x2="834.15" y2="875.10"/>
<line x1="878.47" y1="224.20" x2="878.47" y2="216.70"/>
<line x1="878.47" y1="867.60" x2="878.47" y2="875.10"/>
<line x1="922.79" y1="224.20" x2="922.79" y2="208.20"/>
<line x1="922.79" y1="867.60" x2="922.79" y2="883.60"/>
<line x1="967.11" y1="224.20" x2="967.11" y2="216.70"/>
<line x1="967.11" y1="867.60" x2="967.11" y2="875.10"/>
<line x1="1011.43" y1="224.20" x2="1011.43" y2="216.70"/>
<line x1="1011.43" y1="867.60" x2="1011.43" y2="875.10"/>
<line x1="1055.75" y1="224.20" x2="1055.75" y2="208.20"/>
<line x1="1055.75" y1="867.60" x2="1055.75" y2="883.60"/>
<line x1="1100.07" y1="224.20" x2="1100.07" y2="216.70"/>
<line x1="1100.07" y1="867.60" x2="1100.07" y2="875.10"/>
<line x1="1144.39" y1="224.20" x2="1144.39" y2="216.70"/>
<line x1="1144.39" y1="867.60" x2="1144.39" y2="875.10"/>
<line x1="1188.71" y1="224.20" x2="1188.71" y2="208.20"/>
<line x1="1188.71" y1="867.60" x2="1188.71" y2="883.60"/>
<line x1="1233.03" y1="224.20" x2="1233.03" y2="216.70"/>
<line x1="1233.03" y1="867.60" x2="1233.03" y2="875.10"/>
<line x1="1277.35" y1="224.20" x2="1277.35" y2="216.70"/>
<line x1="1277.35" y1="867.60" x2="1277.35" y2="875.10"/>
<line x1="1321.67" y1="224.20" x2="1321.67" y2="208.20"/>
<line x1="1321.67" y1="867.60" x2="1321.67" y2="883.60"/>
<line x1="1365.99" y1="224.20" x2="1365.99" y2="216.70"/>
<line x1="1365.99" y1="867.60" x2="1365.99" y2="875.10"/>
<line x1="1410.31" y1="224.20" x2="1410.31" y2="216.70"/>
<line x1="1410.31" y1="867.60" x2="1410.31" y2="875.10"/>
<line x1="1454.62" y1="224.20" x2="1454.62" y2="208.20"/>
<line x1="1454.62" y1="867.60" x2="1454.62" y2="883.60"/>
<line x1="1498.94" y1="224.20" x2="1498.94" y2="216.70"/>
<line x1="1498.94" y1="867.60" x2="1498.94" y2="875.10"/>
<line x1="1543.26" y1="224.20" x2="1543.26" y2="216.70"/>
<line x1="1543.26" y1="867.60" x2="1543.26" y2="875.10"/>
<line x1="1587.58" y1="224.20" x2="1587.58" y2="208.20"/>
<line x1="1587.58" y1="867.60" x2="1587.58" y2="883.60"/>
<line x1="1631.90" y1="224.20" x2="1631.90" y2="216.70"/>
<line x1="1631.90" y1="867.60" x2="1631.90" y2="875.10"/>
<line x1="1676.22" y1="224.20" x2="1676.22" y2="216.70"/>
<line x1="1676.22" y1="867.60" x2="1676.22" y2="875.10"/>
<line x1="1720.54" y1="224.20" x2="1720.54" y2="208.20"/>
<line x1="1720.54" y1="867.60" x2="1720.54" y2="883.60"/>
<line x1="1764.86" y1="224.20" x2="1764.86" y2="216.70"/>
<line x1="1764.86" y1="867.60" x2="1764.86" y2="875.10"/>
<line x1="1809.18" y1="224.20" x2="1809.18" y2="216.70"/>
<line x1="1809.18" y1="867.60" x2="1809.18" y2="875.10"/>
<line x1="1853.50" y1="224.20" x2="1853.50" y2="208.20"/>
<line x1="1853.50" y1="867.60" x2="1853.50" y2="883.60"/>
<line x1="223.40" y1="289.30" x2="207.40" y2="289.30"/>
<line x1="1886.30" y1="289.30" x2="1902.30" y2="289.30"/>
<line x1="223.40" y1="423.98" x2="207.40" y2="423.98"/>
<line x1="1886.30" y1="423.98" x2="1902.30" y2="423.98"/>
<line x1="223.40" y1="558.65" x2="207.40" y2="558.65"/>
<line x1="1886.30" y1="558.65" x2="1902.30" y2="558.65"/>
<line x1="223.40" y1="693.33" x2="207.40" y2="693.33"/>
<line x1="1886.30" y1="693.33" x2="1902.30" y2="693.33"/>
<line x1="223.40" y1="828.00" x2="207.40" y2="828.00"/>
<line x1="1886.30" y1="828.00" x2="1902.30" y2="828.00"/>
</g>
<rect x="226.20" y="227.00" width="1657.30" height="637.80" fill="none" stroke="#000" stroke-width="5.6" stroke-linejoin="miter"/>
<text transform="translate(258.00,931.40) scale(1,1.07)" font-family="Liberation Sans, Arial, sans-serif" font-weight="bold" font-size="42.0" text-anchor="middle" style="white-space:pre" >0</text>
<text transform="translate(390.96,931.40) scale(1,1.07)" font-family="Liberation Sans, Arial, sans-serif" font-weight="bold" font-size="42.0" text-anchor="middle" style="white-space:pre" >6</text>
<text transform="translate(523.92,931.40) scale(1,1.07)" font-family="Liberation Sans, Arial, sans-serif" font-weight="bold" font-size="42.0" text-anchor="middle" style="white-space:pre" >12</text>
<text transform="translate(656.88,931.40) scale(1,1.07)" font-family="Liberation Sans, Arial, sans-serif" font-weight="bold" font-size="42.0" text-anchor="middle" style="white-space:pre" >18</text>
<text transform="translate(789.83,931.40) scale(1,1.07)" font-family="Liberation Sans, Arial, sans-serif" font-weight="bold" font-size="42.0" text-anchor="middle" style="white-space:pre" >24</text>
<text transform="translate(922.79,931.40) scale(1,1.07)" font-family="Liberation Sans, Arial, sans-serif" font-weight="bold" font-size="42.0" text-anchor="middle" style="white-space:pre" >30</text>
<text transform="translate(1055.75,931.40) scale(1,1.07)" font-family="Liberation Sans, Arial, sans-serif" font-weight="bold" font-size="42.0" text-anchor="middle" style="white-space:pre" >36</text>
<text transform="translate(1188.71,931.40) scale(1,1.07)" font-family="Liberation Sans, Arial, sans-serif" font-weight="bold" font-size="42.0" text-anchor="middle" style="white-space:pre" >42</text>
<text transform="translate(1321.67,931.40) scale(1,1.07)" font-family="Liberation Sans, Arial, sans-serif" font-weight="bold" font-size="42.0" text-anchor="middle" style="white-space:pre" >48</text>
<text transform="translate(1454.62,931.40) scale(1,1.07)" font-family="Liberation Sans, Arial, sans-serif" font-weight="bold" font-size="42.0" text-anchor="middle" style="white-space:pre" >54</text>
<text transform="translate(1587.58,931.40) scale(1,1.07)" font-family="Liberation Sans, Arial, sans-serif" font-weight="bold" font-size="42.0" text-anchor="middle" style="white-space:pre" >60</text>
<text transform="translate(1720.54,931.40) scale(1,1.07)" font-family="Liberation Sans, Arial, sans-serif" font-weight="bold" font-size="42.0" text-anchor="middle" style="white-space:pre" >66</text>
<text transform="translate(1853.50,931.40) scale(1,1.07)" font-family="Liberation Sans, Arial, sans-serif" font-weight="bold" font-size="42.0" text-anchor="middle" style="white-space:pre" >72</text>
<text transform="translate(190.70,304.80) scale(1,1.07)" font-family="Liberation Sans, Arial, sans-serif" font-weight="bold" font-size="42.0" text-anchor="end" style="white-space:pre" >16</text>
<text transform="translate(190.70,439.48) scale(1,1.07)" font-family="Liberation Sans, Arial, sans-serif" font-weight="bold" font-size="42.0" text-anchor="end" style="white-space:pre" >8</text>
<text transform="translate(190.70,574.15) scale(1,1.07)" font-family="Liberation Sans, Arial, sans-serif" font-weight="bold" font-size="42.0" text-anchor="end" style="white-space:pre" >0</text>
<text transform="translate(190.70,708.83) scale(1,1.07)" font-family="Liberation Sans, Arial, sans-serif" font-weight="bold" font-size="42.0" text-anchor="end" style="white-space:pre" ><tspan dy="4.6">−</tspan><tspan dy="-4.6">8</tspan></text>
<text transform="translate(190.70,843.50) scale(1,1.07)" font-family="Liberation Sans, Arial, sans-serif" font-weight="bold" font-size="42.0" text-anchor="end" style="white-space:pre" ><tspan dy="4.6">−</tspan><tspan dy="-4.6">16</tspan></text>
<text transform="translate(89.90,545.90) rotate(-90) scale(1,1.07)" font-family="Liberation Sans, Arial, sans-serif" font-size="42.2" text-anchor="middle" style="white-space:pre" >East (mm)</text>
<g fill="#0000ff">
<circle cx="420.3" cy="1094.0" r="6.4"/>
<circle cx="363.1" cy="1101.8" r="6.4"/>
<circle cx="412.9" cy="1121.8" r="6.4"/>
<circle cx="455.2" cy="1120.5" r="6.4"/>
<circle cx="508.9" cy="1117.6" r="6.4"/>
<circle cx="462.8" cy="1158.4" r="6.4"/>
<circle cx="431.5" cy="1166.4" r="6.4"/>
<circle cx="422.0" cy="1171.9" r="6.4"/>
<circle cx="436.9" cy="1178.2" r="6.4"/>
<circle cx="440.5" cy="1190.6" r="6.4"/>
<circle cx="505.3" cy="1168.9" r="6.4"/>
<circle cx="547.6" cy="1174.0" r="6.4"/>
<circle cx="283.7" cy="1197.1" r="6.4"/>
<circle cx="388.9" cy="1197.1" r="6.4"/>
<circle cx="386.8" cy="1211.2" r="6.4"/>
<circle cx="424.1" cy="1202.8" r="6.4"/>
<circle cx="472.1" cy="1211.2" r="6.4"/>
<circle cx="468.3" cy="1219.6" r="6.4"/>
<circle cx="499.4" cy="1222.2" r="6.4"/>
<circle cx="285.4" cy="1221.9" r="6.4"/>
<circle cx="307.7" cy="1219.2" r="6.4"/>
<circle cx="418.4" cy="1229.1" r="6.4"/>
<circle cx="518.0" cy="1232.3" r="6.4"/>
<circle cx="546.0" cy="1234.4" r="6.4"/>
<circle cx="523.6" cy="1245.9" r="6.4"/>
<circle cx="298.0" cy="1242.1" r="6.4"/>
<circle cx="301.0" cy="1244.9" r="6.4"/>
<circle cx="346.2" cy="1245.5" r="6.4"/>
<circle cx="353.8" cy="1250.1" r="6.4"/>
<circle cx="368.5" cy="1249.5" r="6.4"/>
<circle cx="427.3" cy="1242.8" r="6.4"/>
<circle cx="438.8" cy="1241.1" r="6.4"/>
<circle cx="429.6" cy="1252.7" r="6.4"/>
<circle cx="444.1" cy="1253.9" r="6.4"/>
<circle cx="451.7" cy="1245.9" r="6.4"/>
<circle cx="464.7" cy="1246.6" r="6.4"/>
<circle cx="483.0" cy="1247.0" r="6.4"/>
<circle cx="485.1" cy="1256.0" r="6.4"/>
<circle cx="291.1" cy="1259.8" r="6.4"/>
<circle cx="302.2" cy="1259.6" r="6.4"/>
<circle cx="318.9" cy="1256.9" r="6.4"/>
<circle cx="289.0" cy="1272.2" r="6.4"/>
<circle cx="295.3" cy="1275.4" r="6.4"/>
<circle cx="355.7" cy="1265.9" r="6.4"/>
<circle cx="360.5" cy="1268.0" r="6.4"/>
<circle cx="351.5" cy="1271.2" r="6.4"/>
<circle cx="361.6" cy="1278.6" r="6.4"/>
<circle cx="365.4" cy="1279.6" r="6.4"/>
<circle cx="339.1" cy="1283.2" r="6.4"/>
<circle cx="415.0" cy="1277.5" r="6.4"/>
<circle cx="425.8" cy="1284.9" r="6.4"/>
<circle cx="433.1" cy="1277.1" r="6.4"/>
<circle cx="459.0" cy="1269.7" r="6.4"/>
<circle cx="453.4" cy="1276.5" r="6.4"/>
<circle cx="403.7" cy="1287.0" r="6.4"/>
<circle cx="407.5" cy="1287.0" r="6.4"/>
<circle cx="506.8" cy="1279.0" r="6.4"/>
<circle cx="521.5" cy="1281.7" r="6.4"/>
<circle cx="525.7" cy="1279.6" r="6.4"/>
<circle cx="540.5" cy="1292.2" r="6.4"/>
<circle cx="554.8" cy="1297.9" r="6.4"/>
<circle cx="457.3" cy="1289.5" r="6.4"/>
<circle cx="292.8" cy="1288.0" r="6.4"/>
<circle cx="287.1" cy="1293.9" r="6.4"/>
<circle cx="278.0" cy="1300.0" r="6.4"/>
<circle cx="305.8" cy="1296.0" r="6.4"/>
<circle cx="311.5" cy="1296.0" r="6.4"/>
<circle cx="303.7" cy="1303.8" r="6.4"/>
<circle cx="310.0" cy="1301.7" r="6.4"/>
<circle cx="377.8" cy="1298.6" r="6.4"/>
<circle cx="411.0" cy="1299.2" r="6.4"/>
<circle cx="434.8" cy="1304.0" r="6.4"/>
<circle cx="445.8" cy="1296.4" r="6.4"/>
<circle cx="448.3" cy="1301.7" r="6.4"/>
<circle cx="490.4" cy="1294.8" r="6.4"/>
<circle cx="498.0" cy="1303.2" r="6.4"/>
<circle cx="261.4" cy="1313.7" r="6.4"/>
<circle cx="342.6" cy="1320.7" r="6.4"/>
<circle cx="348.3" cy="1331.2" r="6.4"/>
<circle cx="357.4" cy="1336.9" r="6.4"/>
<circle cx="366.9" cy="1324.9" r="6.4"/>
<circle cx="405.4" cy="1319.6" r="6.4"/>
<circle cx="409.4" cy="1332.9" r="6.4"/>
<circle cx="450.0" cy="1324.9" r="6.4"/>
<circle cx="479.4" cy="1315.4" r="6.4"/>
<circle cx="477.3" cy="1317.9" r="6.4"/>
<circle cx="492.1" cy="1319.6" r="6.4"/>
<circle cx="496.3" cy="1321.7" r="6.4"/>
<circle cx="542.2" cy="1316.9" r="6.4"/>
<circle cx="556.9" cy="1317.5" r="6.4"/>
<circle cx="556.9" cy="1325.5" r="6.4"/>
<circle cx="526.8" cy="1327.0" r="6.4"/>
<circle cx="536.3" cy="1325.9" r="6.4"/>
<circle cx="539.4" cy="1333.3" r="6.4"/>
<circle cx="534.6" cy="1337.5" r="6.4"/>
<circle cx="282.0" cy="1329.5" r="6.4"/>
<circle cx="257.8" cy="1347.6" r="6.4"/>
<circle cx="265.2" cy="1353.9" r="6.4"/>
<circle cx="296.8" cy="1355.4" r="6.4"/>
<circle cx="313.8" cy="1356.4" r="6.4"/>
<circle cx="350.4" cy="1351.2" r="6.4"/>
<circle cx="381.6" cy="1341.1" r="6.4"/>
<circle cx="399.9" cy="1352.2" r="6.4"/>
<circle cx="481.6" cy="1349.7" r="6.4"/>
<circle cx="402.0" cy="1362.8" r="6.4"/>
<circle cx="394.2" cy="1370.2" r="6.4"/>
<circle cx="379.7" cy="1375.5" r="6.4"/>
<circle cx="466.4" cy="1364.5" r="6.4"/>
<circle cx="494.2" cy="1366.6" r="6.4"/>
<circle cx="553.1" cy="1364.9" r="6.4"/>
<circle cx="341.0" cy="1372.9" r="6.4"/>
<circle cx="332.5" cy="1383.5" r="6.4"/>
<circle cx="344.3" cy="1395.9" r="6.4"/>
<circle cx="396.3" cy="1389.1" r="6.4"/>
<circle cx="460.9" cy="1380.7" r="6.4"/>
<circle cx="442.6" cy="1393.8" r="6.4"/>
<circle cx="512.5" cy="1381.8" r="6.4"/>
<circle cx="514.6" cy="1391.2" r="6.4"/>
<circle cx="511.0" cy="1397.1" r="6.4"/>
<circle cx="501.5" cy="1400.7" r="6.4"/>
<circle cx="488.5" cy="1400.7" r="6.4"/>
<circle cx="529.3" cy="1389.4" r="6.4"/>
<circle cx="549.3" cy="1390.2" r="6.4"/>
<circle cx="551.0" cy="1396.5" r="6.4"/>
<circle cx="274.2" cy="1401.8" r="6.4"/>
<circle cx="270.7" cy="1408.1" r="6.4"/>
<circle cx="263.3" cy="1416.1" r="6.4"/>
<circle cx="320.6" cy="1412.3" r="6.4"/>
<circle cx="374.2" cy="1408.7" r="6.4"/>
<circle cx="375.9" cy="1421.1" r="6.4"/>
<circle cx="390.6" cy="1414.4" r="6.4"/>
<circle cx="398.4" cy="1407.0" r="6.4"/>
<circle cx="474.2" cy="1409.8" r="6.4"/>
<circle cx="475.7" cy="1424.9" r="6.4"/>
<circle cx="503.2" cy="1430.6" r="6.4"/>
<circle cx="337.0" cy="1428.7" r="6.4"/>
<circle cx="335.3" cy="1432.3" r="6.4"/>
<circle cx="266.9" cy="1440.1" r="6.4"/>
<circle cx="280.1" cy="1440.1" r="6.4"/>
<circle cx="316.3" cy="1443.4" r="6.4"/>
<circle cx="322.2" cy="1449.1" r="6.4"/>
<circle cx="330.0" cy="1448.1" r="6.4"/>
<circle cx="385.2" cy="1434.0" r="6.4"/>
<circle cx="392.7" cy="1438.2" r="6.4"/>
<circle cx="486.8" cy="1447.0" r="6.4"/>
<circle cx="272.8" cy="1458.2" r="6.4"/>
<circle cx="276.4" cy="1466.4" r="6.4"/>
<circle cx="383.3" cy="1465.5" r="6.4"/>
<circle cx="372.1" cy="1474.4" r="6.4"/>
<circle cx="370.4" cy="1488.5" r="6.4"/>
<circle cx="326.2" cy="1484.5" r="6.4"/>
<circle cx="324.3" cy="1504.9" r="6.4"/>
<circle cx="327.9" cy="1535.0" r="6.4"/>
<circle cx="268.8" cy="1493.3" r="6.4"/>
<circle cx="470.0" cy="1484.9" r="6.4"/>
<circle cx="533.1" cy="1460.3" r="6.4"/>
<circle cx="520.1" cy="1467.6" r="6.4"/>
<circle cx="516.3" cy="1474.0" r="6.4"/>
<circle cx="544.1" cy="1487.0" r="6.4"/>
<circle cx="625.3" cy="1109.6" r="6.4"/>
<circle cx="706.7" cy="1121.3" r="6.4"/>
<circle cx="754.7" cy="1138.2" r="6.4"/>
<circle cx="836.0" cy="1135.0" r="6.4"/>
<circle cx="883.7" cy="1112.7" r="6.4"/>
<circle cx="765.7" cy="1170.2" r="6.4"/>
<circle cx="701.3" cy="1178.6" r="6.4"/>
<circle cx="704.8" cy="1185.5" r="6.4"/>
<circle cx="763.6" cy="1190.0" r="6.4"/>
<circle cx="791.6" cy="1197.5" r="6.4"/>
<circle cx="808.2" cy="1189.7" r="6.4"/>
<circle cx="841.2" cy="1199.8" r="6.4"/>
<circle cx="880.4" cy="1182.2" r="6.4"/>
<circle cx="662.1" cy="1216.5" r="6.4"/>
<circle cx="773.2" cy="1212.3" r="6.4"/>
<circle cx="793.2" cy="1225.1" r="6.4"/>
<circle cx="815.3" cy="1225.1" r="6.4"/>
<circle cx="830.5" cy="1222.8" r="6.4"/>
<circle cx="832.6" cy="1225.9" r="6.4"/>
<circle cx="887.9" cy="1226.4" r="6.4"/>
<circle cx="881.0" cy="1235.4" r="6.4"/>
<circle cx="877.8" cy="1239.6" r="6.4"/>
<circle cx="577.3" cy="1236.9" r="6.4"/>
<circle cx="642.1" cy="1239.2" r="6.4"/>
<circle cx="710.1" cy="1239.0" r="6.4"/>
<circle cx="767.4" cy="1234.4" r="6.4"/>
<circle cx="795.1" cy="1240.0" r="6.4"/>
<circle cx="824.6" cy="1237.1" r="6.4"/>
<circle cx="619.8" cy="1248.9" r="6.4"/>
<circle cx="699.2" cy="1251.2" r="6.4"/>
<circle cx="774.7" cy="1247.0" r="6.4"/>
<circle cx="828.4" cy="1252.3" r="6.4"/>
<circle cx="843.3" cy="1248.5" r="6.4"/>
<circle cx="749.0" cy="1252.9" r="6.4"/>
<circle cx="728.4" cy="1260.2" r="6.4"/>
<circle cx="771.1" cy="1259.2" r="6.4"/>
<circle cx="806.3" cy="1255.8" r="6.4"/>
<circle cx="814.1" cy="1259.0" r="6.4"/>
<circle cx="837.4" cy="1264.5" r="6.4"/>
<circle cx="760.0" cy="1266.4" r="6.4"/>
<circle cx="752.6" cy="1268.5" r="6.4"/>
<circle cx="769.5" cy="1274.3" r="6.4"/>
<circle cx="822.9" cy="1273.3" r="6.4"/>
<circle cx="845.2" cy="1278.6" r="6.4"/>
<circle cx="839.5" cy="1287.6" r="6.4"/>
<circle cx="627.0" cy="1264.2" r="6.4"/>
<circle cx="575.4" cy="1276.5" r="6.4"/>
<circle cx="647.4" cy="1275.4" r="6.4"/>
<circle cx="649.5" cy="1278.1" r="6.4"/>
<circle cx="614.4" cy="1285.9" r="6.4"/>
<circle cx="632.7" cy="1284.5" r="6.4"/>
<circle cx="721.1" cy="1278.6" r="6.4"/>
<circle cx="708.4" cy="1287.0" r="6.4"/>
<circle cx="571.6" cy="1293.3" r="6.4"/>
<circle cx="571.6" cy="1303.4" r="6.4"/>
<circle cx="567.4" cy="1319.0" r="6.4"/>
<circle cx="565.3" cy="1324.2" r="6.4"/>
<circle cx="584.7" cy="1317.1" r="6.4"/>
<circle cx="590.1" cy="1330.1" r="6.4"/>
<circle cx="643.6" cy="1306.3" r="6.4"/>
<circle cx="660.4" cy="1302.3" r="6.4"/>
<circle cx="653.1" cy="1315.4" r="6.4"/>
<circle cx="665.9" cy="1321.7" r="6.4"/>
<circle cx="651.0" cy="1325.9" r="6.4"/>
<circle cx="656.4" cy="1332.9" r="6.4"/>
<circle cx="667.8" cy="1335.0" r="6.4"/>
<circle cx="629.1" cy="1319.6" r="6.4"/>
<circle cx="630.6" cy="1337.1" r="6.4"/>
<circle cx="634.3" cy="1348.2" r="6.4"/>
<circle cx="673.3" cy="1353.7" r="6.4"/>
<circle cx="686.1" cy="1332.6" r="6.4"/>
<circle cx="693.7" cy="1324.2" r="6.4"/>
<circle cx="719.4" cy="1319.2" r="6.4"/>
<circle cx="723.2" cy="1330.8" r="6.4"/>
<circle cx="732.6" cy="1301.1" r="6.4"/>
<circle cx="737.9" cy="1300.2" r="6.4"/>
<circle cx="745.3" cy="1316.4" r="6.4"/>
<circle cx="733.7" cy="1337.5" r="6.4"/>
<circle cx="740.0" cy="1339.6" r="6.4"/>
<circle cx="747.4" cy="1342.1" r="6.4"/>
<circle cx="703.0" cy="1347.0" r="6.4"/>
<circle cx="712.0" cy="1347.4" r="6.4"/>
<circle cx="715.2" cy="1355.4" r="6.4"/>
<circle cx="725.3" cy="1357.9" r="6.4"/>
<circle cx="776.8" cy="1295.0" r="6.4"/>
<circle cx="786.3" cy="1290.1" r="6.4"/>
<circle cx="797.2" cy="1297.9" r="6.4"/>
<circle cx="811.6" cy="1294.3" r="6.4"/>
<circle cx="817.4" cy="1297.5" r="6.4"/>
<circle cx="809.9" cy="1310.1" r="6.4"/>
<circle cx="798.9" cy="1313.3" r="6.4"/>
<circle cx="782.1" cy="1323.4" r="6.4"/>
<circle cx="833.7" cy="1306.5" r="6.4"/>
<circle cx="849.0" cy="1328.0" r="6.4"/>
<circle cx="854.7" cy="1325.9" r="6.4"/>
<circle cx="801.0" cy="1349.7" r="6.4"/>
<circle cx="887.9" cy="1309.5" r="6.4"/>
<circle cx="885.8" cy="1323.4" r="6.4"/>
<circle cx="564.3" cy="1366.4" r="6.4"/>
<circle cx="579.0" cy="1366.4" r="6.4"/>
<circle cx="560.7" cy="1375.5" r="6.4"/>
<circle cx="696.9" cy="1362.8" r="6.4"/>
<circle cx="726.7" cy="1366.0" r="6.4"/>
<circle cx="645.7" cy="1367.0" r="6.4"/>
<circle cx="616.2" cy="1368.1" r="6.4"/>
<circle cx="669.5" cy="1374.0" r="6.4"/>
<circle cx="592.0" cy="1377.1" r="6.4"/>
<circle cx="594.1" cy="1383.5" r="6.4"/>
<circle cx="621.7" cy="1379.3" r="6.4"/>
<circle cx="617.9" cy="1387.0" r="6.4"/>
<circle cx="678.5" cy="1386.4" r="6.4"/>
<circle cx="762.1" cy="1379.0" r="6.4"/>
<circle cx="756.2" cy="1391.2" r="6.4"/>
<circle cx="789.5" cy="1381.8" r="6.4"/>
<circle cx="787.8" cy="1385.4" r="6.4"/>
<circle cx="804.4" cy="1389.1" r="6.4"/>
<circle cx="821.0" cy="1381.1" r="6.4"/>
<circle cx="846.7" cy="1370.2" r="6.4"/>
<circle cx="850.5" cy="1392.7" r="6.4"/>
<circle cx="876.2" cy="1394.0" r="6.4"/>
<circle cx="777.9" cy="1396.1" r="6.4"/>
<circle cx="784.2" cy="1398.2" r="6.4"/>
<circle cx="583.2" cy="1402.4" r="6.4"/>
<circle cx="587.0" cy="1409.6" r="6.4"/>
<circle cx="581.1" cy="1417.6" r="6.4"/>
<circle cx="636.4" cy="1405.3" r="6.4"/>
<circle cx="682.5" cy="1401.8" r="6.4"/>
<circle cx="692.0" cy="1397.6" r="6.4"/>
<circle cx="695.8" cy="1402.8" r="6.4"/>
<circle cx="677.3" cy="1412.3" r="6.4"/>
<circle cx="741.7" cy="1407.5" r="6.4"/>
<circle cx="714.1" cy="1416.5" r="6.4"/>
<circle cx="736.2" cy="1419.7" r="6.4"/>
<circle cx="758.3" cy="1424.5" r="6.4"/>
<circle cx="717.9" cy="1430.8" r="6.4"/>
<circle cx="638.3" cy="1425.6" r="6.4"/>
<circle cx="663.8" cy="1431.7" r="6.4"/>
<circle cx="671.6" cy="1441.8" r="6.4"/>
<circle cx="802.5" cy="1439.7" r="6.4"/>
<circle cx="859.5" cy="1417.6" r="6.4"/>
<circle cx="869.4" cy="1419.7" r="6.4"/>
<circle cx="855.7" cy="1424.3" r="6.4"/>
<circle cx="871.5" cy="1429.1" r="6.4"/>
<circle cx="863.5" cy="1433.3" r="6.4"/>
<circle cx="873.0" cy="1436.5" r="6.4"/>
<circle cx="588.5" cy="1451.9" r="6.4"/>
<circle cx="640.0" cy="1456.5" r="6.4"/>
<circle cx="685.3" cy="1457.5" r="6.4"/>
<circle cx="687.8" cy="1458.6" r="6.4"/>
<circle cx="690.1" cy="1466.6" r="6.4"/>
<circle cx="623.6" cy="1473.7" r="6.4"/>
<circle cx="658.3" cy="1478.6" r="6.4"/>
<circle cx="675.0" cy="1483.9" r="6.4"/>
<circle cx="730.7" cy="1472.3" r="6.4"/>
<circle cx="780.4" cy="1453.3" r="6.4"/>
<circle cx="826.5" cy="1456.5" r="6.4"/>
<circle cx="852.2" cy="1451.9" r="6.4"/>
<circle cx="861.4" cy="1464.3" r="6.4"/>
<circle cx="867.3" cy="1471.6" r="6.4"/>
<circle cx="874.7" cy="1478.6" r="6.4"/>
<circle cx="865.2" cy="1482.8" r="6.4"/>
<circle cx="743.6" cy="1499.0" r="6.4"/>
<circle cx="750.5" cy="1496.9" r="6.4"/>
<circle cx="680.6" cy="1507.4" r="6.4"/>
<circle cx="819.3" cy="1528.5" r="6.4"/>
<circle cx="858.1" cy="1550.1" r="6.4"/>
<circle cx="943.1" cy="1060.7" r="6.4"/>
<circle cx="946.7" cy="1111.2" r="6.4"/>
<circle cx="966.9" cy="1128.5" r="6.4"/>
<circle cx="939.1" cy="1141.1" r="6.4"/>
<circle cx="1199.6" cy="1164.3" r="6.4"/>
<circle cx="1159.0" cy="1178.4" r="6.4"/>
<circle cx="898.5" cy="1183.0" r="6.4"/>
<circle cx="955.9" cy="1194.2" r="6.4"/>
<circle cx="911.5" cy="1202.6" r="6.4"/>
<circle cx="893.2" cy="1213.7" r="6.4"/>
<circle cx="1107.2" cy="1187.0" r="6.4"/>
<circle cx="1092.3" cy="1199.4" r="6.4"/>
<circle cx="1070.4" cy="1211.6" r="6.4"/>
<circle cx="992.8" cy="1204.5" r="6.4"/>
<circle cx="998.4" cy="1213.3" r="6.4"/>
<circle cx="1007.5" cy="1224.3" r="6.4"/>
<circle cx="1020.5" cy="1213.3" r="6.4"/>
<circle cx="933.6" cy="1224.9" r="6.4"/>
<circle cx="969.0" cy="1220.7" r="6.4"/>
<circle cx="959.5" cy="1229.1" r="6.4"/>
<circle cx="941.2" cy="1236.9" r="6.4"/>
<circle cx="953.8" cy="1240.0" r="6.4"/>
<circle cx="974.2" cy="1236.5" r="6.4"/>
<circle cx="970.7" cy="1247.0" r="6.4"/>
<circle cx="965.2" cy="1253.3" r="6.4"/>
<circle cx="915.3" cy="1251.2" r="6.4"/>
<circle cx="929.6" cy="1256.9" r="6.4"/>
<circle cx="937.8" cy="1256.0" r="6.4"/>
<circle cx="985.4" cy="1257.9" r="6.4"/>
<circle cx="989.2" cy="1269.5" r="6.4"/>
<circle cx="1030.0" cy="1234.6" r="6.4"/>
<circle cx="1037.4" cy="1241.3" r="6.4"/>
<circle cx="1072.3" cy="1253.1" r="6.4"/>
<circle cx="1099.5" cy="1220.7" r="6.4"/>
<circle cx="1105.8" cy="1217.5" r="6.4"/>
<circle cx="1103.5" cy="1249.1" r="6.4"/>
<circle cx="1156.9" cy="1225.9" r="6.4"/>
<circle cx="1164.7" cy="1238.6" r="6.4"/>
<circle cx="1172.1" cy="1244.9" r="6.4"/>
<circle cx="1150.0" cy="1251.2" r="6.4"/>
<circle cx="1160.9" cy="1256.9" r="6.4"/>
<circle cx="1196.3" cy="1247.0" r="6.4"/>
<circle cx="917.4" cy="1275.4" r="6.4"/>
<circle cx="918.9" cy="1284.2" r="6.4"/>
<circle cx="948.3" cy="1283.4" r="6.4"/>
<circle cx="979.9" cy="1287.0" r="6.4"/>
<circle cx="996.3" cy="1282.8" r="6.4"/>
<circle cx="1002.2" cy="1278.1" r="6.4"/>
<circle cx="1031.3" cy="1282.8" r="6.4"/>
<circle cx="1041.0" cy="1283.2" r="6.4"/>
<circle cx="1074.0" cy="1281.7" r="6.4"/>
<circle cx="1086.8" cy="1287.0" r="6.4"/>
<circle cx="1155.4" cy="1286.3" r="6.4"/>
<circle cx="935.3" cy="1301.5" r="6.4"/>
<circle cx="963.3" cy="1297.9" r="6.4"/>
<circle cx="975.7" cy="1310.1" r="6.4"/>
<circle cx="981.6" cy="1309.1" r="6.4"/>
<circle cx="994.7" cy="1309.5" r="6.4"/>
<circle cx="1038.8" cy="1308.4" r="6.4"/>
<circle cx="1053.8" cy="1315.8" r="6.4"/>
<circle cx="1061.2" cy="1324.9" r="6.4"/>
<circle cx="1083.3" cy="1308.4" r="6.4"/>
<circle cx="1090.6" cy="1302.3" r="6.4"/>
<circle cx="1096.7" cy="1303.8" r="6.4"/>
<circle cx="1112.7" cy="1307.4" r="6.4"/>
<circle cx="1077.8" cy="1320.7" r="6.4"/>
<circle cx="1166.4" cy="1304.9" r="6.4"/>
<circle cx="1175.2" cy="1307.6" r="6.4"/>
<circle cx="1170.0" cy="1313.3" r="6.4"/>
<circle cx="1185.1" cy="1299.6" r="6.4"/>
<circle cx="1207.2" cy="1302.1" r="6.4"/>
<circle cx="1212.5" cy="1322.8" r="6.4"/>
<circle cx="1190.4" cy="1332.2" r="6.4"/>
<circle cx="1218.4" cy="1342.1" r="6.4"/>
<circle cx="904.2" cy="1322.8" r="6.4"/>
<circle cx="931.9" cy="1320.2" r="6.4"/>
<circle cx="961.6" cy="1324.9" r="6.4"/>
<circle cx="1022.2" cy="1319.6" r="6.4"/>
<circle cx="922.7" cy="1330.1" r="6.4"/>
<circle cx="928.4" cy="1341.1" r="6.4"/>
<circle cx="909.6" cy="1346.5" r="6.4"/>
<circle cx="924.4" cy="1353.7" r="6.4"/>
<circle cx="1111.0" cy="1333.3" r="6.4"/>
<circle cx="1056.3" cy="1338.5" r="6.4"/>
<circle cx="1025.8" cy="1340.6" r="6.4"/>
<circle cx="1035.3" cy="1342.7" r="6.4"/>
<circle cx="1042.6" cy="1350.1" r="6.4"/>
<circle cx="987.5" cy="1348.0" r="6.4"/>
<circle cx="991.1" cy="1350.7" r="6.4"/>
<circle cx="983.7" cy="1357.1" r="6.4"/>
<circle cx="1079.5" cy="1355.8" r="6.4"/>
<circle cx="1151.4" cy="1342.7" r="6.4"/>
<circle cx="1174.2" cy="1348.4" r="6.4"/>
<circle cx="1182.6" cy="1346.5" r="6.4"/>
<circle cx="1188.9" cy="1353.7" r="6.4"/>
<circle cx="1162.6" cy="1356.4" r="6.4"/>
<circle cx="894.3" cy="1354.3" r="6.4"/>
<circle cx="1033.6" cy="1358.5" r="6.4"/>
<circle cx="897.4" cy="1361.8" r="6.4"/>
<circle cx="1005.8" cy="1360.3" r="6.4"/>
<circle cx="1013.2" cy="1361.8" r="6.4"/>
<circle cx="1024.3" cy="1366.0" r="6.4"/>
<circle cx="1120.5" cy="1360.7" r="6.4"/>
<circle cx="1203.2" cy="1361.8" r="6.4"/>
<circle cx="944.8" cy="1366.0" r="6.4"/>
<circle cx="1208.9" cy="1370.2" r="6.4"/>
<circle cx="1214.8" cy="1371.7" r="6.4"/>
<circle cx="978.0" cy="1374.8" r="6.4"/>
<circle cx="1014.9" cy="1372.9" r="6.4"/>
<circle cx="1009.4" cy="1380.3" r="6.4"/>
<circle cx="1027.9" cy="1386.6" r="6.4"/>
<circle cx="1048.3" cy="1388.1" r="6.4"/>
<circle cx="1075.9" cy="1368.7" r="6.4"/>
<circle cx="1085.1" cy="1376.1" r="6.4"/>
<circle cx="1118.4" cy="1378.6" r="6.4"/>
<circle cx="905.8" cy="1382.8" r="6.4"/>
<circle cx="913.6" cy="1386.0" r="6.4"/>
<circle cx="902.3" cy="1394.8" r="6.4"/>
<circle cx="926.3" cy="1395.9" r="6.4"/>
<circle cx="900.2" cy="1411.9" r="6.4"/>
<circle cx="950.0" cy="1407.0" r="6.4"/>
<circle cx="952.1" cy="1422.2" r="6.4"/>
<circle cx="920.6" cy="1435.0" r="6.4"/>
<circle cx="957.8" cy="1443.4" r="6.4"/>
<circle cx="1003.3" cy="1414.4" r="6.4"/>
<circle cx="1011.5" cy="1417.1" r="6.4"/>
<circle cx="1046.4" cy="1418.0" r="6.4"/>
<circle cx="1044.3" cy="1427.0" r="6.4"/>
<circle cx="1064.7" cy="1436.5" r="6.4"/>
<circle cx="1067.9" cy="1449.1" r="6.4"/>
<circle cx="1066.8" cy="1442.8" r="6.4"/>
<circle cx="1081.1" cy="1444.9" r="6.4"/>
<circle cx="1088.5" cy="1402.4" r="6.4"/>
<circle cx="1094.2" cy="1400.3" r="6.4"/>
<circle cx="1108.9" cy="1408.7" r="6.4"/>
<circle cx="1102.0" cy="1422.4" r="6.4"/>
<circle cx="1153.5" cy="1390.2" r="6.4"/>
<circle cx="1186.2" cy="1383.5" r="6.4"/>
<circle cx="1194.2" cy="1387.0" r="6.4"/>
<circle cx="1210.4" cy="1392.3" r="6.4"/>
<circle cx="1177.3" cy="1399.7" r="6.4"/>
<circle cx="1179.4" cy="1408.1" r="6.4"/>
<circle cx="1204.7" cy="1403.2" r="6.4"/>
<circle cx="1214.2" cy="1400.7" r="6.4"/>
<circle cx="1216.3" cy="1410.2" r="6.4"/>
<circle cx="1168.3" cy="1418.6" r="6.4"/>
<circle cx="1192.1" cy="1427.4" r="6.4"/>
<circle cx="1197.7" cy="1459.0" r="6.4"/>
<circle cx="1201.5" cy="1464.9" r="6.4"/>
<circle cx="1000.1" cy="1456.1" r="6.4"/>
<circle cx="972.6" cy="1465.5" r="6.4"/>
<circle cx="1052.1" cy="1467.0" r="6.4"/>
<circle cx="1059.5" cy="1470.8" r="6.4"/>
<circle cx="1116.3" cy="1466.2" r="6.4"/>
<circle cx="907.9" cy="1498.2" r="6.4"/>
<circle cx="1062.8" cy="1499.0" r="6.4"/>
<circle cx="1114.4" cy="1498.2" r="6.4"/>
<circle cx="1131.4" cy="1494.8" r="6.4"/>
<circle cx="1126.0" cy="1539.0" r="6.4"/>
<circle cx="1050.0" cy="1548.0" r="6.4"/>
<circle cx="1133.1" cy="1563.8" r="6.4"/>
<circle cx="1129.6" cy="1576.0" r="6.4"/>
<circle cx="1135.2" cy="1584.5" r="6.4"/>
<circle cx="1123.7" cy="1594.3" r="6.4"/>
<circle cx="1121.6" cy="1598.1" r="6.4"/>
<circle cx="1127.5" cy="1668.0" r="6.4"/>
<circle cx="1480.4" cy="1055.5" r="6.4"/>
<circle cx="1515.3" cy="1102.0" r="6.4"/>
<circle cx="1257.1" cy="1128.3" r="6.4"/>
<circle cx="1284.7" cy="1149.3" r="6.4"/>
<circle cx="1484.0" cy="1128.1" r="6.4"/>
<circle cx="1421.5" cy="1144.9" r="6.4"/>
<circle cx="1469.0" cy="1149.5" r="6.4"/>
<circle cx="1474.7" cy="1157.5" r="6.4"/>
<circle cx="1491.3" cy="1168.7" r="6.4"/>
<circle cx="1473.0" cy="1174.8" r="6.4"/>
<circle cx="1476.8" cy="1180.7" r="6.4"/>
<circle cx="1482.5" cy="1184.3" r="6.4"/>
<circle cx="1497.0" cy="1195.6" r="6.4"/>
<circle cx="1364.0" cy="1180.5" r="6.4"/>
<circle cx="1423.1" cy="1188.7" r="6.4"/>
<circle cx="1428.8" cy="1197.1" r="6.4"/>
<circle cx="1426.7" cy="1204.3" r="6.4"/>
<circle cx="1365.7" cy="1197.5" r="6.4"/>
<circle cx="1356.9" cy="1203.4" r="6.4"/>
<circle cx="1358.5" cy="1211.2" r="6.4"/>
<circle cx="1548.4" cy="1195.8" r="6.4"/>
<circle cx="1279.0" cy="1191.8" r="6.4"/>
<circle cx="1297.5" cy="1199.0" r="6.4"/>
<circle cx="1255.2" cy="1207.4" r="6.4"/>
<circle cx="1280.9" cy="1211.4" r="6.4"/>
<circle cx="1336.2" cy="1207.0" r="6.4"/>
<circle cx="1229.1" cy="1215.2" r="6.4"/>
<circle cx="1262.6" cy="1227.6" r="6.4"/>
<circle cx="1240.0" cy="1232.3" r="6.4"/>
<circle cx="1236.3" cy="1237.9" r="6.4"/>
<circle cx="1244.3" cy="1245.9" r="6.4"/>
<circle cx="1269.5" cy="1242.4" r="6.4"/>
<circle cx="1277.9" cy="1239.6" r="6.4"/>
<circle cx="1306.3" cy="1227.4" r="6.4"/>
<circle cx="1300.7" cy="1233.9" r="6.4"/>
<circle cx="1303.2" cy="1240.7" r="6.4"/>
<circle cx="1317.5" cy="1234.4" r="6.4"/>
<circle cx="1347.0" cy="1220.7" r="6.4"/>
<circle cx="1343.2" cy="1227.0" r="6.4"/>
<circle cx="1337.9" cy="1233.9" r="6.4"/>
<circle cx="1345.3" cy="1245.9" r="6.4"/>
<circle cx="1227.4" cy="1253.3" r="6.4"/>
<circle cx="1290.1" cy="1249.5" r="6.4"/>
<circle cx="1293.7" cy="1260.7" r="6.4"/>
<circle cx="1305.3" cy="1250.1" r="6.4"/>
<circle cx="1307.4" cy="1256.5" r="6.4"/>
<circle cx="1314.3" cy="1260.7" r="6.4"/>
<circle cx="1251.6" cy="1258.6" r="6.4"/>
<circle cx="1259.0" cy="1261.1" r="6.4"/>
<circle cx="1352.9" cy="1261.1" r="6.4"/>
<circle cx="1413.7" cy="1231.8" r="6.4"/>
<circle cx="1443.1" cy="1242.1" r="6.4"/>
<circle cx="1437.9" cy="1249.1" r="6.4"/>
<circle cx="1435.8" cy="1256.9" r="6.4"/>
<circle cx="1448.4" cy="1252.9" r="6.4"/>
<circle cx="1461.7" cy="1259.2" r="6.4"/>
<circle cx="1485.9" cy="1265.9" r="6.4"/>
<circle cx="1487.8" cy="1216.1" r="6.4"/>
<circle cx="1478.5" cy="1224.9" r="6.4"/>
<circle cx="1494.7" cy="1229.5" r="6.4"/>
<circle cx="1492.6" cy="1233.3" r="6.4"/>
<circle cx="1541.0" cy="1211.2" r="6.4"/>
<circle cx="1545.2" cy="1221.7" r="6.4"/>
<circle cx="1535.3" cy="1228.0" r="6.4"/>
<circle cx="1546.3" cy="1241.7" r="6.4"/>
<circle cx="1547.3" cy="1250.1" r="6.4"/>
<circle cx="1537.4" cy="1258.6" r="6.4"/>
<circle cx="1517.4" cy="1268.0" r="6.4"/>
<circle cx="1504.2" cy="1280.7" r="6.4"/>
<circle cx="1532.6" cy="1284.9" r="6.4"/>
<circle cx="1489.4" cy="1294.8" r="6.4"/>
<circle cx="1498.9" cy="1304.2" r="6.4"/>
<circle cx="1506.7" cy="1304.9" r="6.4"/>
<circle cx="1519.3" cy="1302.3" r="6.4"/>
<circle cx="1528.4" cy="1308.0" r="6.4"/>
<circle cx="1539.3" cy="1307.6" r="6.4"/>
<circle cx="1247.4" cy="1277.1" r="6.4"/>
<circle cx="1271.6" cy="1275.0" r="6.4"/>
<circle cx="1275.4" cy="1280.2" r="6.4"/>
<circle cx="1295.6" cy="1280.0" r="6.4"/>
<circle cx="1287.4" cy="1289.1" r="6.4"/>
<circle cx="1348.9" cy="1298.1" r="6.4"/>
<circle cx="1360.0" cy="1298.6" r="6.4"/>
<circle cx="1367.8" cy="1294.3" r="6.4"/>
<circle cx="1377.3" cy="1293.7" r="6.4"/>
<circle cx="1372.2" cy="1307.6" r="6.4"/>
<circle cx="1371.0" cy="1311.6" r="6.4"/>
<circle cx="1354.7" cy="1313.3" r="6.4"/>
<circle cx="1380.6" cy="1318.5" r="6.4"/>
<circle cx="1388.0" cy="1315.4" r="6.4"/>
<circle cx="1417.5" cy="1292.2" r="6.4"/>
<circle cx="1415.4" cy="1300.2" r="6.4"/>
<circle cx="1424.8" cy="1309.1" r="6.4"/>
<circle cx="1441.5" cy="1301.3" r="6.4"/>
<circle cx="1463.6" cy="1303.4" r="6.4"/>
<circle cx="1412.0" cy="1317.1" r="6.4"/>
<circle cx="1419.4" cy="1322.8" r="6.4"/>
<circle cx="1447.1" cy="1328.0" r="6.4"/>
<circle cx="1430.5" cy="1334.8" r="6.4"/>
<circle cx="1467.3" cy="1340.0" r="6.4"/>
<circle cx="1456.2" cy="1350.1" r="6.4"/>
<circle cx="1465.7" cy="1354.7" r="6.4"/>
<circle cx="1511.7" cy="1324.9" r="6.4"/>
<circle cx="1510.1" cy="1347.0" r="6.4"/>
<circle cx="1520.6" cy="1347.0" r="6.4"/>
<circle cx="1530.1" cy="1356.4" r="6.4"/>
<circle cx="1253.1" cy="1312.2" r="6.4"/>
<circle cx="1265.9" cy="1311.2" r="6.4"/>
<circle cx="1234.8" cy="1322.8" r="6.4"/>
<circle cx="1239.4" cy="1322.1" r="6.4"/>
<circle cx="1249.5" cy="1323.8" r="6.4"/>
<circle cx="1299.4" cy="1317.5" r="6.4"/>
<circle cx="1311.6" cy="1324.4" r="6.4"/>
<circle cx="1316.9" cy="1322.8" r="6.4"/>
<circle cx="1332.6" cy="1336.0" r="6.4"/>
<circle cx="1340.2" cy="1343.8" r="6.4"/>
<circle cx="1390.5" cy="1338.5" r="6.4"/>
<circle cx="1408.0" cy="1340.6" r="6.4"/>
<circle cx="1242.2" cy="1344.9" r="6.4"/>
<circle cx="1231.2" cy="1350.1" r="6.4"/>
<circle cx="1292.0" cy="1356.4" r="6.4"/>
<circle cx="1319.4" cy="1355.8" r="6.4"/>
<circle cx="1330.5" cy="1358.5" r="6.4"/>
<circle cx="1369.5" cy="1353.7" r="6.4"/>
<circle cx="1334.8" cy="1364.9" r="6.4"/>
<circle cx="1410.1" cy="1364.9" r="6.4"/>
<circle cx="1434.1" cy="1363.9" r="6.4"/>
<circle cx="1500.6" cy="1367.0" r="6.4"/>
<circle cx="1245.7" cy="1373.4" r="6.4"/>
<circle cx="1260.7" cy="1378.6" r="6.4"/>
<circle cx="1264.2" cy="1368.7" r="6.4"/>
<circle cx="1268.9" cy="1367.0" r="6.4"/>
<circle cx="1273.7" cy="1373.4" r="6.4"/>
<circle cx="1282.8" cy="1368.1" r="6.4"/>
<circle cx="1362.1" cy="1368.5" r="6.4"/>
<circle cx="1386.3" cy="1367.7" r="6.4"/>
<circle cx="1393.7" cy="1375.5" r="6.4"/>
<circle cx="1404.6" cy="1371.7" r="6.4"/>
<circle cx="1378.9" cy="1380.7" r="6.4"/>
<circle cx="1375.0" cy="1392.7" r="6.4"/>
<circle cx="1395.4" cy="1397.1" r="6.4"/>
<circle cx="1384.4" cy="1411.7" r="6.4"/>
<circle cx="1451.6" cy="1369.6" r="6.4"/>
<circle cx="1445.2" cy="1382.8" r="6.4"/>
<circle cx="1460.0" cy="1395.0" r="6.4"/>
<circle cx="1471.1" cy="1395.5" r="6.4"/>
<circle cx="1453.7" cy="1403.2" r="6.4"/>
<circle cx="1458.3" cy="1406.0" r="6.4"/>
<circle cx="1437.9" cy="1409.6" r="6.4"/>
<circle cx="1543.1" cy="1380.1" r="6.4"/>
<circle cx="1513.6" cy="1397.1" r="6.4"/>
<circle cx="1502.1" cy="1410.2" r="6.4"/>
<circle cx="1508.4" cy="1413.3" r="6.4"/>
<circle cx="1523.1" cy="1422.8" r="6.4"/>
<circle cx="1526.3" cy="1425.6" r="6.4"/>
<circle cx="1524.8" cy="1445.3" r="6.4"/>
<circle cx="1310.1" cy="1382.2" r="6.4"/>
<circle cx="1225.7" cy="1394.8" r="6.4"/>
<circle cx="1223.6" cy="1408.7" r="6.4"/>
<circle cx="1233.1" cy="1422.8" r="6.4"/>
<circle cx="1321.5" cy="1402.8" r="6.4"/>
<circle cx="1325.3" cy="1418.6" r="6.4"/>
<circle cx="1326.8" cy="1420.7" r="6.4"/>
<circle cx="1351.2" cy="1421.8" r="6.4"/>
<circle cx="1397.3" cy="1426.0" r="6.4"/>
<circle cx="1406.3" cy="1431.2" r="6.4"/>
<circle cx="1432.2" cy="1449.5" r="6.4"/>
<circle cx="1323.2" cy="1454.0" r="6.4"/>
<circle cx="1222.2" cy="1463.2" r="6.4"/>
<circle cx="1341.7" cy="1487.0" r="6.4"/>
<circle cx="1400.8" cy="1507.4" r="6.4"/>
<circle cx="1328.9" cy="1543.2" r="6.4"/>
<circle cx="1398.3" cy="1573.7" r="6.4"/>
<circle cx="1403.2" cy="1575.4" r="6.4"/>
<circle cx="1382.7" cy="1595.4" r="6.4"/>
<circle cx="1630.0" cy="1074.8" r="6.4"/>
<circle cx="1635.7" cy="1075.5" r="6.4"/>
<circle cx="1633.8" cy="1098.0" r="6.4"/>
<circle cx="1805.3" cy="1098.2" r="6.4"/>
<circle cx="1718.4" cy="1126.4" r="6.4"/>
<circle cx="1770.4" cy="1125.8" r="6.4"/>
<circle cx="1687.3" cy="1133.8" r="6.4"/>
<circle cx="1696.3" cy="1136.5" r="6.4"/>
<circle cx="1729.6" cy="1142.6" r="6.4"/>
<circle cx="1781.3" cy="1152.5" r="6.4"/>
<circle cx="1809.1" cy="1152.3" r="6.4"/>
<circle cx="1840.5" cy="1162.8" r="6.4"/>
<circle cx="1691.1" cy="1167.6" r="6.4"/>
<circle cx="1679.9" cy="1176.1" r="6.4"/>
<circle cx="1675.9" cy="1179.0" r="6.4"/>
<circle cx="1631.9" cy="1179.0" r="6.4"/>
<circle cx="1814.6" cy="1178.6" r="6.4"/>
<circle cx="1831.0" cy="1182.4" r="6.4"/>
<circle cx="1779.7" cy="1186.0" r="6.4"/>
<circle cx="1661.2" cy="1194.0" r="6.4"/>
<circle cx="1665.0" cy="1206.4" r="6.4"/>
<circle cx="1759.0" cy="1199.2" r="6.4"/>
<circle cx="1794.2" cy="1204.3" r="6.4"/>
<circle cx="1818.4" cy="1203.2" r="6.4"/>
<circle cx="1796.3" cy="1213.3" r="6.4"/>
<circle cx="1807.4" cy="1210.2" r="6.4"/>
<circle cx="1816.7" cy="1213.9" r="6.4"/>
<circle cx="1836.7" cy="1215.8" r="6.4"/>
<circle cx="1618.9" cy="1213.7" r="6.4"/>
<circle cx="1693.0" cy="1214.2" r="6.4"/>
<circle cx="1583.7" cy="1226.4" r="6.4"/>
<circle cx="1604.1" cy="1228.3" r="6.4"/>
<circle cx="1602.0" cy="1239.2" r="6.4"/>
<circle cx="1598.5" cy="1248.5" r="6.4"/>
<circle cx="1639.1" cy="1234.4" r="6.4"/>
<circle cx="1641.2" cy="1243.2" r="6.4"/>
<circle cx="1628.1" cy="1241.3" r="6.4"/>
<circle cx="1663.3" cy="1237.5" r="6.4"/>
<circle cx="1559.5" cy="1239.0" r="6.4"/>
<circle cx="1556.4" cy="1245.5" r="6.4"/>
<circle cx="1760.9" cy="1227.0" r="6.4"/>
<circle cx="1766.8" cy="1235.0" r="6.4"/>
<circle cx="1777.3" cy="1234.8" r="6.4"/>
<circle cx="1787.2" cy="1230.2" r="6.4"/>
<circle cx="1824.7" cy="1246.6" r="6.4"/>
<circle cx="1832.7" cy="1241.7" r="6.4"/>
<circle cx="1844.3" cy="1241.1" r="6.4"/>
<circle cx="1685.4" cy="1249.1" r="6.4"/>
<circle cx="1702.0" cy="1249.1" r="6.4"/>
<circle cx="1716.7" cy="1251.8" r="6.4"/>
<circle cx="1746.2" cy="1251.2" r="6.4"/>
<circle cx="1757.6" cy="1258.6" r="6.4"/>
<circle cx="1800.1" cy="1252.3" r="6.4"/>
<circle cx="1784.9" cy="1260.0" r="6.4"/>
<circle cx="1803.7" cy="1266.4" r="6.4"/>
<circle cx="1825.8" cy="1261.7" r="6.4"/>
<circle cx="1829.5" cy="1267.0" r="6.4"/>
<circle cx="1594.9" cy="1262.8" r="6.4"/>
<circle cx="1622.5" cy="1260.2" r="6.4"/>
<circle cx="1557.8" cy="1270.6" r="6.4"/>
<circle cx="1712.9" cy="1266.4" r="6.4"/>
<circle cx="1723.9" cy="1271.2" r="6.4"/>
<circle cx="1672.3" cy="1276.9" r="6.4"/>
<circle cx="1626.4" cy="1282.1" r="6.4"/>
<circle cx="1650.2" cy="1285.9" r="6.4"/>
<circle cx="1726.0" cy="1286.3" r="6.4"/>
<circle cx="1774.0" cy="1282.1" r="6.4"/>
<circle cx="1798.0" cy="1285.9" r="6.4"/>
<circle cx="1811.0" cy="1293.3" r="6.4"/>
<circle cx="1563.7" cy="1288.0" r="6.4"/>
<circle cx="1569.0" cy="1292.7" r="6.4"/>
<circle cx="1596.8" cy="1289.7" r="6.4"/>
<circle cx="1646.4" cy="1297.5" r="6.4"/>
<circle cx="1666.9" cy="1300.7" r="6.4"/>
<circle cx="1677.8" cy="1291.6" r="6.4"/>
<circle cx="1681.6" cy="1301.7" r="6.4"/>
<circle cx="1689.0" cy="1296.4" r="6.4"/>
<circle cx="1694.2" cy="1290.1" r="6.4"/>
<circle cx="1705.8" cy="1300.7" r="6.4"/>
<circle cx="1715.3" cy="1301.1" r="6.4"/>
<circle cx="1704.7" cy="1308.0" r="6.4"/>
<circle cx="1711.1" cy="1309.1" r="6.4"/>
<circle cx="1720.5" cy="1316.9" r="6.4"/>
<circle cx="1772.1" cy="1298.6" r="6.4"/>
<circle cx="1790.4" cy="1300.2" r="6.4"/>
<circle cx="1768.5" cy="1310.1" r="6.4"/>
<circle cx="1801.6" cy="1313.7" r="6.4"/>
<circle cx="1820.1" cy="1313.7" r="6.4"/>
<circle cx="1842.2" cy="1305.3" r="6.4"/>
<circle cx="1838.6" cy="1315.4" r="6.4"/>
<circle cx="1552.8" cy="1306.3" r="6.4"/>
<circle cx="1572.8" cy="1308.0" r="6.4"/>
<circle cx="1611.5" cy="1314.8" r="6.4"/>
<circle cx="1591.3" cy="1327.4" r="6.4"/>
<circle cx="1642.9" cy="1329.9" r="6.4"/>
<circle cx="1763.0" cy="1324.9" r="6.4"/>
<circle cx="1738.8" cy="1329.9" r="6.4"/>
<circle cx="1615.3" cy="1338.1" r="6.4"/>
<circle cx="1621.2" cy="1339.2" r="6.4"/>
<circle cx="1670.4" cy="1345.9" r="6.4"/>
<circle cx="1698.2" cy="1339.6" r="6.4"/>
<circle cx="1733.6" cy="1343.8" r="6.4"/>
<circle cx="1750.0" cy="1338.5" r="6.4"/>
<circle cx="1740.5" cy="1350.1" r="6.4"/>
<circle cx="1751.0" cy="1348.0" r="6.4"/>
<circle cx="1765.1" cy="1343.4" r="6.4"/>
<circle cx="1788.9" cy="1336.9" r="6.4"/>
<circle cx="1822.0" cy="1338.5" r="6.4"/>
<circle cx="1848.9" cy="1347.4" r="6.4"/>
<circle cx="1834.8" cy="1350.3" r="6.4"/>
<circle cx="1783.2" cy="1352.2" r="6.4"/>
<circle cx="1722.2" cy="1347.6" r="6.4"/>
<circle cx="1565.4" cy="1350.5" r="6.4"/>
<circle cx="1578.0" cy="1355.8" r="6.4"/>
<circle cx="1592.8" cy="1352.6" r="6.4"/>
<circle cx="1624.1" cy="1353.3" r="6.4"/>
<circle cx="1652.1" cy="1355.4" r="6.4"/>
<circle cx="1753.6" cy="1357.5" r="6.4"/>
<circle cx="1683.3" cy="1362.8" r="6.4"/>
<circle cx="1674.2" cy="1366.4" r="6.4"/>
<circle cx="1575.9" cy="1362.8" r="6.4"/>
<circle cx="1585.8" cy="1367.7" r="6.4"/>
<circle cx="1600.1" cy="1370.6" r="6.4"/>
<circle cx="1609.6" cy="1370.2" r="6.4"/>
<circle cx="1647.9" cy="1365.4" r="6.4"/>
<circle cx="1657.4" cy="1375.5" r="6.4"/>
<circle cx="1561.6" cy="1379.7" r="6.4"/>
<circle cx="1574.7" cy="1379.0" r="6.4"/>
<circle cx="1616.8" cy="1392.7" r="6.4"/>
<circle cx="1554.3" cy="1401.8" r="6.4"/>
<circle cx="1567.3" cy="1409.8" r="6.4"/>
<circle cx="1582.0" cy="1401.8" r="6.4"/>
<circle cx="1605.8" cy="1407.7" r="6.4"/>
<circle cx="1589.4" cy="1422.2" r="6.4"/>
<circle cx="1579.9" cy="1434.4" r="6.4"/>
<circle cx="1607.9" cy="1430.8" r="6.4"/>
<circle cx="1653.8" cy="1404.5" r="6.4"/>
<circle cx="1669.0" cy="1401.1" r="6.4"/>
<circle cx="1659.5" cy="1419.0" r="6.4"/>
<circle cx="1637.4" cy="1430.2" r="6.4"/>
<circle cx="1644.8" cy="1442.8" r="6.4"/>
<circle cx="1655.9" cy="1446.6" r="6.4"/>
<circle cx="1700.1" cy="1417.6" r="6.4"/>
<circle cx="1731.3" cy="1404.9" r="6.4"/>
<circle cx="1736.9" cy="1427.4" r="6.4"/>
<circle cx="1747.9" cy="1425.3" r="6.4"/>
<circle cx="1735.3" cy="1368.1" r="6.4"/>
<circle cx="1742.2" cy="1380.7" r="6.4"/>
<circle cx="1755.7" cy="1382.4" r="6.4"/>
<circle cx="1775.7" cy="1384.3" r="6.4"/>
<circle cx="1812.7" cy="1395.5" r="6.4"/>
<circle cx="1845.7" cy="1378.6" r="6.4"/>
<circle cx="1851.4" cy="1399.0" r="6.4"/>
<circle cx="1587.3" cy="1463.2" r="6.4"/>
<circle cx="1570.9" cy="1485.3" r="6.4"/>
<circle cx="1613.4" cy="1485.3" r="6.4"/>
<circle cx="1727.9" cy="1572.2" r="6.4"/>
</g>
<g stroke="#000" stroke-width="2.2" stroke-linecap="butt">
<line x1="258.00" y1="1040.20" x2="258.00" y2="1024.20"/>
<line x1="258.00" y1="1683.80" x2="258.00" y2="1699.80"/>
<line x1="302.32" y1="1040.20" x2="302.32" y2="1032.70"/>
<line x1="302.32" y1="1683.80" x2="302.32" y2="1691.30"/>
<line x1="346.64" y1="1040.20" x2="346.64" y2="1032.70"/>
<line x1="346.64" y1="1683.80" x2="346.64" y2="1691.30"/>
<line x1="390.96" y1="1040.20" x2="390.96" y2="1024.20"/>
<line x1="390.96" y1="1683.80" x2="390.96" y2="1699.80"/>
<line x1="435.28" y1="1040.20" x2="435.28" y2="1032.70"/>
<line x1="435.28" y1="1683.80" x2="435.28" y2="1691.30"/>
<line x1="479.60" y1="1040.20" x2="479.60" y2="1032.70"/>
<line x1="479.60" y1="1683.80" x2="479.60" y2="1691.30"/>
<line x1="523.92" y1="1040.20" x2="523.92" y2="1024.20"/>
<line x1="523.92" y1="1683.80" x2="523.92" y2="1699.80"/>
<line x1="568.24" y1="1040.20" x2="568.24" y2="1032.70"/>
<line x1="568.24" y1="1683.80" x2="568.24" y2="1691.30"/>
<line x1="612.56" y1="1040.20" x2="612.56" y2="1032.70"/>
<line x1="612.56" y1="1683.80" x2="612.56" y2="1691.30"/>
<line x1="656.88" y1="1040.20" x2="656.88" y2="1024.20"/>
<line x1="656.88" y1="1683.80" x2="656.88" y2="1699.80"/>
<line x1="701.19" y1="1040.20" x2="701.19" y2="1032.70"/>
<line x1="701.19" y1="1683.80" x2="701.19" y2="1691.30"/>
<line x1="745.51" y1="1040.20" x2="745.51" y2="1032.70"/>
<line x1="745.51" y1="1683.80" x2="745.51" y2="1691.30"/>
<line x1="789.83" y1="1040.20" x2="789.83" y2="1024.20"/>
<line x1="789.83" y1="1683.80" x2="789.83" y2="1699.80"/>
<line x1="834.15" y1="1040.20" x2="834.15" y2="1032.70"/>
<line x1="834.15" y1="1683.80" x2="834.15" y2="1691.30"/>
<line x1="878.47" y1="1040.20" x2="878.47" y2="1032.70"/>
<line x1="878.47" y1="1683.80" x2="878.47" y2="1691.30"/>
<line x1="922.79" y1="1040.20" x2="922.79" y2="1024.20"/>
<line x1="922.79" y1="1683.80" x2="922.79" y2="1699.80"/>
<line x1="967.11" y1="1040.20" x2="967.11" y2="1032.70"/>
<line x1="967.11" y1="1683.80" x2="967.11" y2="1691.30"/>
<line x1="1011.43" y1="1040.20" x2="1011.43" y2="1032.70"/>
<line x1="1011.43" y1="1683.80" x2="1011.43" y2="1691.30"/>
<line x1="1055.75" y1="1040.20" x2="1055.75" y2="1024.20"/>
<line x1="1055.75" y1="1683.80" x2="1055.75" y2="1699.80"/>
<line x1="1100.07" y1="1040.20" x2="1100.07" y2="1032.70"/>
<line x1="1100.07" y1="1683.80" x2="1100.07" y2="1691.30"/>
<line x1="1144.39" y1="1040.20" x2="1144.39" y2="1032.70"/>
<line x1="1144.39" y1="1683.80" x2="1144.39" y2="1691.30"/>
<line x1="1188.71" y1="1040.20" x2="1188.71" y2="1024.20"/>
<line x1="1188.71" y1="1683.80" x2="1188.71" y2="1699.80"/>
<line x1="1233.03" y1="1040.20" x2="1233.03" y2="1032.70"/>
<line x1="1233.03" y1="1683.80" x2="1233.03" y2="1691.30"/>
<line x1="1277.35" y1="1040.20" x2="1277.35" y2="1032.70"/>
<line x1="1277.35" y1="1683.80" x2="1277.35" y2="1691.30"/>
<line x1="1321.67" y1="1040.20" x2="1321.67" y2="1024.20"/>
<line x1="1321.67" y1="1683.80" x2="1321.67" y2="1699.80"/>
<line x1="1365.99" y1="1040.20" x2="1365.99" y2="1032.70"/>
<line x1="1365.99" y1="1683.80" x2="1365.99" y2="1691.30"/>
<line x1="1410.31" y1="1040.20" x2="1410.31" y2="1032.70"/>
<line x1="1410.31" y1="1683.80" x2="1410.31" y2="1691.30"/>
<line x1="1454.62" y1="1040.20" x2="1454.62" y2="1024.20"/>
<line x1="1454.62" y1="1683.80" x2="1454.62" y2="1699.80"/>
<line x1="1498.94" y1="1040.20" x2="1498.94" y2="1032.70"/>
<line x1="1498.94" y1="1683.80" x2="1498.94" y2="1691.30"/>
<line x1="1543.26" y1="1040.20" x2="1543.26" y2="1032.70"/>
<line x1="1543.26" y1="1683.80" x2="1543.26" y2="1691.30"/>
<line x1="1587.58" y1="1040.20" x2="1587.58" y2="1024.20"/>
<line x1="1587.58" y1="1683.80" x2="1587.58" y2="1699.80"/>
<line x1="1631.90" y1="1040.20" x2="1631.90" y2="1032.70"/>
<line x1="1631.90" y1="1683.80" x2="1631.90" y2="1691.30"/>
<line x1="1676.22" y1="1040.20" x2="1676.22" y2="1032.70"/>
<line x1="1676.22" y1="1683.80" x2="1676.22" y2="1691.30"/>
<line x1="1720.54" y1="1040.20" x2="1720.54" y2="1024.20"/>
<line x1="1720.54" y1="1683.80" x2="1720.54" y2="1699.80"/>
<line x1="1764.86" y1="1040.20" x2="1764.86" y2="1032.70"/>
<line x1="1764.86" y1="1683.80" x2="1764.86" y2="1691.30"/>
<line x1="1809.18" y1="1040.20" x2="1809.18" y2="1032.70"/>
<line x1="1809.18" y1="1683.80" x2="1809.18" y2="1691.30"/>
<line x1="1853.50" y1="1040.20" x2="1853.50" y2="1024.20"/>
<line x1="1853.50" y1="1683.80" x2="1853.50" y2="1699.80"/>
<line x1="223.40" y1="1094.30" x2="207.40" y2="1094.30"/>
<line x1="1886.30" y1="1094.30" x2="1902.30" y2="1094.30"/>
<line x1="223.40" y1="1221.35" x2="207.40" y2="1221.35"/>
<line x1="1886.30" y1="1221.35" x2="1902.30" y2="1221.35"/>
<line x1="223.40" y1="1348.40" x2="207.40" y2="1348.40"/>
<line x1="1886.30" y1="1348.40" x2="1902.30" y2="1348.40"/>
<line x1="223.40" y1="1475.45" x2="207.40" y2="1475.45"/>
<line x1="1886.30" y1="1475.45" x2="1902.30" y2="1475.45"/>
<line x1="223.40" y1="1602.50" x2="207.40" y2="1602.50"/>
<line x1="1886.30" y1="1602.50" x2="1902.30" y2="1602.50"/>
</g>
<rect x="226.20" y="1043.00" width="1657.30" height="638.00" fill="none" stroke="#000" stroke-width="5.6" stroke-linejoin="miter"/>
<text transform="translate(258.00,1747.60) scale(1,1.07)" font-family="Liberation Sans, Arial, sans-serif" font-weight="bold" font-size="42.0" text-anchor="middle" style="white-space:pre" >0</text>
<text transform="translate(390.96,1747.60) scale(1,1.07)" font-family="Liberation Sans, Arial, sans-serif" font-weight="bold" font-size="42.0" text-anchor="middle" style="white-space:pre" >6</text>
<text transform="translate(523.92,1747.60) scale(1,1.07)" font-family="Liberation Sans, Arial, sans-serif" font-weight="bold" font-size="42.0" text-anchor="middle" style="white-space:pre" >12</text>
<text transform="translate(656.88,1747.60) scale(1,1.07)" font-family="Liberation Sans, Arial, sans-serif" font-weight="bold" font-size="42.0" text-anchor="middle" style="white-space:pre" >18</text>
<text transform="translate(789.83,1747.60) scale(1,1.07)" font-family="Liberation Sans, Arial, sans-serif" font-weight="bold" font-size="42.0" text-anchor="middle" style="white-space:pre" >24</text>
<text transform="translate(922.79,1747.60) scale(1,1.07)" font-family="Liberation Sans, Arial, sans-serif" font-weight="bold" font-size="42.0" text-anchor="middle" style="white-space:pre" >30</text>
<text transform="translate(1055.75,1747.60) scale(1,1.07)" font-family="Liberation Sans, Arial, sans-serif" font-weight="bold" font-size="42.0" text-anchor="middle" style="white-space:pre" >36</text>
<text transform="translate(1188.71,1747.60) scale(1,1.07)" font-family="Liberation Sans, Arial, sans-serif" font-weight="bold" font-size="42.0" text-anchor="middle" style="white-space:pre" >42</text>
<text transform="translate(1321.67,1747.60) scale(1,1.07)" font-family="Liberation Sans, Arial, sans-serif" font-weight="bold" font-size="42.0" text-anchor="middle" style="white-space:pre" >48</text>
<text transform="translate(1454.62,1747.60) scale(1,1.07)" font-family="Liberation Sans, Arial, sans-serif" font-weight="bold" font-size="42.0" text-anchor="middle" style="white-space:pre" >54</text>
<text transform="translate(1587.58,1747.60) scale(1,1.07)" font-family="Liberation Sans, Arial, sans-serif" font-weight="bold" font-size="42.0" text-anchor="middle" style="white-space:pre" >60</text>
<text transform="translate(1720.54,1747.60) scale(1,1.07)" font-family="Liberation Sans, Arial, sans-serif" font-weight="bold" font-size="42.0" text-anchor="middle" style="white-space:pre" >66</text>
<text transform="translate(1853.50,1747.60) scale(1,1.07)" font-family="Liberation Sans, Arial, sans-serif" font-weight="bold" font-size="42.0" text-anchor="middle" style="white-space:pre" >72</text>
<text transform="translate(190.70,1109.80) scale(1,1.07)" font-family="Liberation Sans, Arial, sans-serif" font-weight="bold" font-size="42.0" text-anchor="end" style="white-space:pre" >20</text>
<text transform="translate(190.70,1236.85) scale(1,1.07)" font-family="Liberation Sans, Arial, sans-serif" font-weight="bold" font-size="42.0" text-anchor="end" style="white-space:pre" >10</text>
<text transform="translate(190.70,1363.90) scale(1,1.07)" font-family="Liberation Sans, Arial, sans-serif" font-weight="bold" font-size="42.0" text-anchor="end" style="white-space:pre" >0</text>
<text transform="translate(190.70,1490.95) scale(1,1.07)" font-family="Liberation Sans, Arial, sans-serif" font-weight="bold" font-size="42.0" text-anchor="end" style="white-space:pre" ><tspan dy="4.6">−</tspan><tspan dy="-4.6">10</tspan></text>
<text transform="translate(190.70,1618.00) scale(1,1.07)" font-family="Liberation Sans, Arial, sans-serif" font-weight="bold" font-size="42.0" text-anchor="end" style="white-space:pre" ><tspan dy="4.6">−</tspan><tspan dy="-4.6">20</tspan></text>
<text transform="translate(89.90,1362.00) rotate(-90) scale(1,1.07)" font-family="Liberation Sans, Arial, sans-serif" font-size="42.2" text-anchor="middle" style="white-space:pre" >North (mm)</text>
<g fill="#0000ff">
<circle cx="274.2" cy="1875.7" r="6.4"/>
<circle cx="272.6" cy="1883.7" r="6.4"/>
<circle cx="266.9" cy="1892.5" r="6.4"/>
<circle cx="276.4" cy="1895.0" r="6.4"/>
<circle cx="269.0" cy="1913.1" r="6.4"/>
<circle cx="271.1" cy="1914.6" r="6.4"/>
<circle cx="265.2" cy="1927.7" r="6.4"/>
<circle cx="431.5" cy="1957.8" r="6.4"/>
<circle cx="424.3" cy="1972.9" r="6.4"/>
<circle cx="420.1" cy="1977.1" r="6.4"/>
<circle cx="494.2" cy="1993.5" r="6.4"/>
<circle cx="263.3" cy="1976.7" r="6.4"/>
<circle cx="278.5" cy="1985.1" r="6.4"/>
<circle cx="281.8" cy="2002.6" r="6.4"/>
<circle cx="257.8" cy="2025.5" r="6.4"/>
<circle cx="261.6" cy="2038.8" r="6.4"/>
<circle cx="280.1" cy="2051.8" r="6.4"/>
<circle cx="318.9" cy="2028.3" r="6.4"/>
<circle cx="427.9" cy="2026.6" r="6.4"/>
<circle cx="422.2" cy="2037.3" r="6.4"/>
<circle cx="433.1" cy="2051.8" r="6.4"/>
<circle cx="473.8" cy="2023.6" r="6.4"/>
<circle cx="483.0" cy="2028.7" r="6.4"/>
<circle cx="495.9" cy="2032.9" r="6.4"/>
<circle cx="492.1" cy="2037.7" r="6.4"/>
<circle cx="503.7" cy="2044.5" r="6.4"/>
<circle cx="538.4" cy="2027.4" r="6.4"/>
<circle cx="414.8" cy="2067.2" r="6.4"/>
<circle cx="429.4" cy="2071.8" r="6.4"/>
<circle cx="490.6" cy="2067.6" r="6.4"/>
<circle cx="475.2" cy="2077.1" r="6.4"/>
<circle cx="486.8" cy="2076.7" r="6.4"/>
<circle cx="302.2" cy="2073.9" r="6.4"/>
<circle cx="285.4" cy="2081.9" r="6.4"/>
<circle cx="283.7" cy="2094.6" r="6.4"/>
<circle cx="409.4" cy="2080.2" r="6.4"/>
<circle cx="399.9" cy="2087.8" r="6.4"/>
<circle cx="411.0" cy="2090.3" r="6.4"/>
<circle cx="398.0" cy="2097.7" r="6.4"/>
<circle cx="416.3" cy="2100.5" r="6.4"/>
<circle cx="436.9" cy="2093.9" r="6.4"/>
<circle cx="450.0" cy="2103.4" r="6.4"/>
<circle cx="485.1" cy="2099.2" r="6.4"/>
<circle cx="489.3" cy="2101.9" r="6.4"/>
<circle cx="477.3" cy="2107.2" r="6.4"/>
<circle cx="498.0" cy="2110.3" r="6.4"/>
<circle cx="505.3" cy="2117.7" r="6.4"/>
<circle cx="532.7" cy="2110.3" r="6.4"/>
<circle cx="544.1" cy="2110.3" r="6.4"/>
<circle cx="557.7" cy="2119.2" r="6.4"/>
<circle cx="304.1" cy="2108.2" r="6.4"/>
<circle cx="316.8" cy="2116.0" r="6.4"/>
<circle cx="305.8" cy="2118.1" r="6.4"/>
<circle cx="335.7" cy="2107.6" r="6.4"/>
<circle cx="333.6" cy="2121.3" r="6.4"/>
<circle cx="323.1" cy="2126.1" r="6.4"/>
<circle cx="328.3" cy="2127.2" r="6.4"/>
<circle cx="287.3" cy="2116.7" r="6.4"/>
<circle cx="292.8" cy="2132.9" r="6.4"/>
<circle cx="311.1" cy="2132.9" r="6.4"/>
<circle cx="368.5" cy="2117.1" r="6.4"/>
<circle cx="403.3" cy="2121.3" r="6.4"/>
<circle cx="410.4" cy="2123.0" r="6.4"/>
<circle cx="418.8" cy="2121.3" r="6.4"/>
<circle cx="405.4" cy="2128.2" r="6.4"/>
<circle cx="479.4" cy="2125.1" r="6.4"/>
<circle cx="499.4" cy="2127.8" r="6.4"/>
<circle cx="501.5" cy="2137.7" r="6.4"/>
<circle cx="506.8" cy="2142.5" r="6.4"/>
<circle cx="520.1" cy="2139.8" r="6.4"/>
<circle cx="481.1" cy="2147.2" r="6.4"/>
<circle cx="470.2" cy="2155.2" r="6.4"/>
<circle cx="444.1" cy="2149.3" r="6.4"/>
<circle cx="446.8" cy="2154.5" r="6.4"/>
<circle cx="439.5" cy="2159.8" r="6.4"/>
<circle cx="447.9" cy="2163.6" r="6.4"/>
<circle cx="314.9" cy="2148.6" r="6.4"/>
<circle cx="331.7" cy="2148.6" r="6.4"/>
<circle cx="291.1" cy="2161.5" r="6.4"/>
<circle cx="386.8" cy="2147.2" r="6.4"/>
<circle cx="394.2" cy="2145.1" r="6.4"/>
<circle cx="396.7" cy="2148.6" r="6.4"/>
<circle cx="388.9" cy="2163.0" r="6.4"/>
<circle cx="383.3" cy="2168.9" r="6.4"/>
<circle cx="397.4" cy="2171.4" r="6.4"/>
<circle cx="407.5" cy="2162.3" r="6.4"/>
<circle cx="337.0" cy="2164.0" r="6.4"/>
<circle cx="341.6" cy="2169.3" r="6.4"/>
<circle cx="307.9" cy="2166.5" r="6.4"/>
<circle cx="314.2" cy="2166.1" r="6.4"/>
<circle cx="296.3" cy="2172.4" r="6.4"/>
<circle cx="359.3" cy="2170.3" r="6.4"/>
<circle cx="553.1" cy="2151.4" r="6.4"/>
<circle cx="320.6" cy="2175.0" r="6.4"/>
<circle cx="301.6" cy="2174.2" r="6.4"/>
<circle cx="344.8" cy="2178.8" r="6.4"/>
<circle cx="402.0" cy="2177.2" r="6.4"/>
<circle cx="425.8" cy="2176.3" r="6.4"/>
<circle cx="435.3" cy="2179.3" r="6.4"/>
<circle cx="464.3" cy="2185.6" r="6.4"/>
<circle cx="381.6" cy="2188.3" r="6.4"/>
<circle cx="324.3" cy="2192.5" r="6.4"/>
<circle cx="338.9" cy="2195.3" r="6.4"/>
<circle cx="289.4" cy="2200.5" r="6.4"/>
<circle cx="309.4" cy="2206.8" r="6.4"/>
<circle cx="326.2" cy="2211.5" r="6.4"/>
<circle cx="330.0" cy="2222.6" r="6.4"/>
<circle cx="361.2" cy="2199.3" r="6.4"/>
<circle cx="357.4" cy="2203.0" r="6.4"/>
<circle cx="365.0" cy="2218.8" r="6.4"/>
<circle cx="379.9" cy="2215.2" r="6.4"/>
<circle cx="377.8" cy="2230.4" r="6.4"/>
<circle cx="348.1" cy="2234.2" r="6.4"/>
<circle cx="298.5" cy="2234.0" r="6.4"/>
<circle cx="438.8" cy="2192.5" r="6.4"/>
<circle cx="442.2" cy="2206.8" r="6.4"/>
<circle cx="452.1" cy="2209.8" r="6.4"/>
<circle cx="466.4" cy="2218.4" r="6.4"/>
<circle cx="456.3" cy="2229.3" r="6.4"/>
<circle cx="468.3" cy="2247.2" r="6.4"/>
<circle cx="461.1" cy="2259.2" r="6.4"/>
<circle cx="462.8" cy="2276.3" r="6.4"/>
<circle cx="453.6" cy="2283.6" r="6.4"/>
<circle cx="521.5" cy="2196.7" r="6.4"/>
<circle cx="515.2" cy="2206.8" r="6.4"/>
<circle cx="518.4" cy="2203.0" r="6.4"/>
<circle cx="529.3" cy="2212.5" r="6.4"/>
<circle cx="527.4" cy="2218.8" r="6.4"/>
<circle cx="547.2" cy="2188.3" r="6.4"/>
<circle cx="542.0" cy="2199.5" r="6.4"/>
<circle cx="556.9" cy="2195.7" r="6.4"/>
<circle cx="516.3" cy="2239.2" r="6.4"/>
<circle cx="512.5" cy="2248.3" r="6.4"/>
<circle cx="508.9" cy="2258.8" r="6.4"/>
<circle cx="511.0" cy="2268.7" r="6.4"/>
<circle cx="551.0" cy="2236.1" r="6.4"/>
<circle cx="556.9" cy="2245.1" r="6.4"/>
<circle cx="540.5" cy="2248.9" r="6.4"/>
<circle cx="549.3" cy="2267.2" r="6.4"/>
<circle cx="531.4" cy="2273.5" r="6.4"/>
<circle cx="536.7" cy="2275.0" r="6.4"/>
<circle cx="534.8" cy="2310.4" r="6.4"/>
<circle cx="525.3" cy="2316.1" r="6.4"/>
<circle cx="352.1" cy="2257.1" r="6.4"/>
<circle cx="356.3" cy="2254.0" r="6.4"/>
<circle cx="363.7" cy="2254.6" r="6.4"/>
<circle cx="366.9" cy="2258.8" r="6.4"/>
<circle cx="374.2" cy="2254.0" r="6.4"/>
<circle cx="385.4" cy="2248.9" r="6.4"/>
<circle cx="296.8" cy="2271.0" r="6.4"/>
<circle cx="350.0" cy="2280.9" r="6.4"/>
<circle cx="354.2" cy="2279.2" r="6.4"/>
<circle cx="375.9" cy="2276.7" r="6.4"/>
<circle cx="342.9" cy="2291.0" r="6.4"/>
<circle cx="372.3" cy="2300.9" r="6.4"/>
<circle cx="390.8" cy="2308.7" r="6.4"/>
<circle cx="459.0" cy="2320.5" r="6.4"/>
<circle cx="472.1" cy="2366.1" r="6.4"/>
<circle cx="523.6" cy="2368.7" r="6.4"/>
<circle cx="370.4" cy="2391.0" r="6.4"/>
<circle cx="346.4" cy="2407.2" r="6.4"/>
<circle cx="802.7" cy="1920.5" r="6.4"/>
<circle cx="822.9" cy="1939.4" r="6.4"/>
<circle cx="577.3" cy="1958.8" r="6.4"/>
<circle cx="625.3" cy="2005.1" r="6.4"/>
<circle cx="734.3" cy="2014.6" r="6.4"/>
<circle cx="782.1" cy="1978.8" r="6.4"/>
<circle cx="784.2" cy="1986.6" r="6.4"/>
<circle cx="780.0" cy="1997.3" r="6.4"/>
<circle cx="797.2" cy="1989.3" r="6.4"/>
<circle cx="806.3" cy="1989.3" r="6.4"/>
<circle cx="812.6" cy="1991.4" r="6.4"/>
<circle cx="804.2" cy="1995.6" r="6.4"/>
<circle cx="815.8" cy="1999.9" r="6.4"/>
<circle cx="786.3" cy="2008.7" r="6.4"/>
<circle cx="791.1" cy="2013.1" r="6.4"/>
<circle cx="795.8" cy="2012.1" r="6.4"/>
<circle cx="791.6" cy="2016.7" r="6.4"/>
<circle cx="819.3" cy="2023.0" r="6.4"/>
<circle cx="813.7" cy="2031.4" r="6.4"/>
<circle cx="787.8" cy="2031.8" r="6.4"/>
<circle cx="793.2" cy="2044.0" r="6.4"/>
<circle cx="798.9" cy="2046.2" r="6.4"/>
<circle cx="872.8" cy="2034.6" r="6.4"/>
<circle cx="564.3" cy="2029.3" r="6.4"/>
<circle cx="579.0" cy="2030.4" r="6.4"/>
<circle cx="590.1" cy="2041.1" r="6.4"/>
<circle cx="575.2" cy="2063.0" r="6.4"/>
<circle cx="584.7" cy="2067.2" r="6.4"/>
<circle cx="571.6" cy="2077.7" r="6.4"/>
<circle cx="573.7" cy="2087.8" r="6.4"/>
<circle cx="566.4" cy="2091.8" r="6.4"/>
<circle cx="621.5" cy="2071.8" r="6.4"/>
<circle cx="617.9" cy="2079.8" r="6.4"/>
<circle cx="616.2" cy="2087.2" r="6.4"/>
<circle cx="620.0" cy="2093.1" r="6.4"/>
<circle cx="623.2" cy="2101.9" r="6.4"/>
<circle cx="634.8" cy="2104.0" r="6.4"/>
<circle cx="730.5" cy="2075.2" r="6.4"/>
<circle cx="763.6" cy="2084.5" r="6.4"/>
<circle cx="808.4" cy="2092.9" r="6.4"/>
<circle cx="830.5" cy="2064.7" r="6.4"/>
<circle cx="841.2" cy="2073.5" r="6.4"/>
<circle cx="870.9" cy="2079.2" r="6.4"/>
<circle cx="874.7" cy="2076.2" r="6.4"/>
<circle cx="717.9" cy="2099.8" r="6.4"/>
<circle cx="698.5" cy="2108.2" r="6.4"/>
<circle cx="707.0" cy="2111.0" r="6.4"/>
<circle cx="691.6" cy="2118.1" r="6.4"/>
<circle cx="767.4" cy="2108.7" r="6.4"/>
<circle cx="833.9" cy="2120.2" r="6.4"/>
<circle cx="867.3" cy="2112.4" r="6.4"/>
<circle cx="567.8" cy="2121.3" r="6.4"/>
<circle cx="569.9" cy="2128.9" r="6.4"/>
<circle cx="582.8" cy="2123.6" r="6.4"/>
<circle cx="592.0" cy="2127.2" r="6.4"/>
<circle cx="708.4" cy="2128.9" r="6.4"/>
<circle cx="715.8" cy="2136.0" r="6.4"/>
<circle cx="723.4" cy="2140.4" r="6.4"/>
<circle cx="756.4" cy="2124.0" r="6.4"/>
<circle cx="750.9" cy="2128.2" r="6.4"/>
<circle cx="743.6" cy="2138.1" r="6.4"/>
<circle cx="753.7" cy="2139.4" r="6.4"/>
<circle cx="760.4" cy="2141.3" r="6.4"/>
<circle cx="769.5" cy="2127.2" r="6.4"/>
<circle cx="774.7" cy="2135.6" r="6.4"/>
<circle cx="817.2" cy="2135.6" r="6.4"/>
<circle cx="821.0" cy="2146.1" r="6.4"/>
<circle cx="826.7" cy="2150.3" r="6.4"/>
<circle cx="846.7" cy="2132.9" r="6.4"/>
<circle cx="843.1" cy="2144.0" r="6.4"/>
<circle cx="839.5" cy="2149.3" r="6.4"/>
<circle cx="862.1" cy="2135.0" r="6.4"/>
<circle cx="868.4" cy="2129.9" r="6.4"/>
<circle cx="865.2" cy="2136.0" r="6.4"/>
<circle cx="860.0" cy="2144.0" r="6.4"/>
<circle cx="855.7" cy="2149.3" r="6.4"/>
<circle cx="852.6" cy="2152.4" r="6.4"/>
<circle cx="561.1" cy="2153.9" r="6.4"/>
<circle cx="630.6" cy="2155.0" r="6.4"/>
<circle cx="678.5" cy="2160.9" r="6.4"/>
<circle cx="660.7" cy="2168.9" r="6.4"/>
<circle cx="752.6" cy="2158.7" r="6.4"/>
<circle cx="765.3" cy="2160.9" r="6.4"/>
<circle cx="778.5" cy="2158.1" r="6.4"/>
<circle cx="757.9" cy="2169.3" r="6.4"/>
<circle cx="741.7" cy="2168.2" r="6.4"/>
<circle cx="809.9" cy="2163.4" r="6.4"/>
<circle cx="878.3" cy="2155.6" r="6.4"/>
<circle cx="854.3" cy="2169.3" r="6.4"/>
<circle cx="581.1" cy="2181.4" r="6.4"/>
<circle cx="593.7" cy="2177.8" r="6.4"/>
<circle cx="693.7" cy="2175.7" r="6.4"/>
<circle cx="702.1" cy="2176.3" r="6.4"/>
<circle cx="745.3" cy="2176.3" r="6.4"/>
<circle cx="773.2" cy="2174.6" r="6.4"/>
<circle cx="586.4" cy="2191.5" r="6.4"/>
<circle cx="563.2" cy="2204.1" r="6.4"/>
<circle cx="653.1" cy="2186.2" r="6.4"/>
<circle cx="667.6" cy="2192.1" r="6.4"/>
<circle cx="645.3" cy="2205.1" r="6.4"/>
<circle cx="656.9" cy="2202.6" r="6.4"/>
<circle cx="647.4" cy="2216.7" r="6.4"/>
<circle cx="695.4" cy="2202.0" r="6.4"/>
<circle cx="712.0" cy="2196.7" r="6.4"/>
<circle cx="714.1" cy="2205.8" r="6.4"/>
<circle cx="726.3" cy="2203.7" r="6.4"/>
<circle cx="732.6" cy="2203.7" r="6.4"/>
<circle cx="728.4" cy="2214.6" r="6.4"/>
<circle cx="746.9" cy="2212.9" r="6.4"/>
<circle cx="736.2" cy="2227.2" r="6.4"/>
<circle cx="739.6" cy="2239.2" r="6.4"/>
<circle cx="832.2" cy="2185.2" r="6.4"/>
<circle cx="855.7" cy="2194.0" r="6.4"/>
<circle cx="848.4" cy="2199.3" r="6.4"/>
<circle cx="850.5" cy="2211.5" r="6.4"/>
<circle cx="863.5" cy="2217.4" r="6.4"/>
<circle cx="835.8" cy="2216.3" r="6.4"/>
<circle cx="838.9" cy="2219.2" r="6.4"/>
<circle cx="845.2" cy="2223.5" r="6.4"/>
<circle cx="875.7" cy="2196.7" r="6.4"/>
<circle cx="882.1" cy="2200.9" r="6.4"/>
<circle cx="886.9" cy="2212.5" r="6.4"/>
<circle cx="776.8" cy="2228.9" r="6.4"/>
<circle cx="800.6" cy="2227.7" r="6.4"/>
<circle cx="588.5" cy="2237.1" r="6.4"/>
<circle cx="614.1" cy="2238.8" r="6.4"/>
<circle cx="629.1" cy="2233.6" r="6.4"/>
<circle cx="632.7" cy="2243.0" r="6.4"/>
<circle cx="643.6" cy="2234.2" r="6.4"/>
<circle cx="671.6" cy="2225.1" r="6.4"/>
<circle cx="669.5" cy="2229.3" r="6.4"/>
<circle cx="663.8" cy="2243.4" r="6.4"/>
<circle cx="674.3" cy="2247.7" r="6.4"/>
<circle cx="684.6" cy="2240.9" r="6.4"/>
<circle cx="686.3" cy="2246.2" r="6.4"/>
<circle cx="682.8" cy="2249.3" r="6.4"/>
<circle cx="704.6" cy="2242.2" r="6.4"/>
<circle cx="710.1" cy="2257.1" r="6.4"/>
<circle cx="725.3" cy="2255.0" r="6.4"/>
<circle cx="721.1" cy="2260.9" r="6.4"/>
<circle cx="762.1" cy="2258.4" r="6.4"/>
<circle cx="654.8" cy="2256.7" r="6.4"/>
<circle cx="640.0" cy="2261.3" r="6.4"/>
<circle cx="649.5" cy="2265.8" r="6.4"/>
<circle cx="638.3" cy="2276.3" r="6.4"/>
<circle cx="651.2" cy="2282.0" r="6.4"/>
<circle cx="665.9" cy="2275.2" r="6.4"/>
<circle cx="677.3" cy="2290.0" r="6.4"/>
<circle cx="673.3" cy="2300.5" r="6.4"/>
<circle cx="687.8" cy="2305.5" r="6.4"/>
<circle cx="697.5" cy="2307.8" r="6.4"/>
<circle cx="658.5" cy="2309.3" r="6.4"/>
<circle cx="627.4" cy="2315.2" r="6.4"/>
<circle cx="680.6" cy="2325.5" r="6.4"/>
<circle cx="719.6" cy="2332.5" r="6.4"/>
<circle cx="737.9" cy="2321.5" r="6.4"/>
<circle cx="749.0" cy="2310.4" r="6.4"/>
<circle cx="771.1" cy="2281.5" r="6.4"/>
<circle cx="824.8" cy="2287.2" r="6.4"/>
<circle cx="884.8" cy="2297.3" r="6.4"/>
<circle cx="880.0" cy="2304.5" r="6.4"/>
<circle cx="636.4" cy="2383.0" r="6.4"/>
<circle cx="662.1" cy="2423.0" r="6.4"/>
<circle cx="883.5" cy="2484.0" r="6.4"/>
<circle cx="1135.2" cy="1953.8" r="6.4"/>
<circle cx="1041.0" cy="2000.1" r="6.4"/>
<circle cx="1107.2" cy="1998.2" r="6.4"/>
<circle cx="1201.7" cy="2032.5" r="6.4"/>
<circle cx="1120.5" cy="2036.3" r="6.4"/>
<circle cx="1127.5" cy="2053.1" r="6.4"/>
<circle cx="1114.6" cy="2067.6" r="6.4"/>
<circle cx="1126.0" cy="2071.4" r="6.4"/>
<circle cx="1063.1" cy="2074.1" r="6.4"/>
<circle cx="1133.1" cy="2091.0" r="6.4"/>
<circle cx="941.2" cy="2107.4" r="6.4"/>
<circle cx="1013.2" cy="2108.2" r="6.4"/>
<circle cx="1003.9" cy="2118.1" r="6.4"/>
<circle cx="1022.2" cy="2119.8" r="6.4"/>
<circle cx="1035.3" cy="2111.4" r="6.4"/>
<circle cx="1064.9" cy="2115.2" r="6.4"/>
<circle cx="1077.8" cy="2116.7" r="6.4"/>
<circle cx="1159.0" cy="2113.1" r="6.4"/>
<circle cx="891.1" cy="2133.1" r="6.4"/>
<circle cx="1122.0" cy="2130.3" r="6.4"/>
<circle cx="1131.4" cy="2136.2" r="6.4"/>
<circle cx="1096.3" cy="2141.5" r="6.4"/>
<circle cx="1090.4" cy="2145.1" r="6.4"/>
<circle cx="1116.7" cy="2144.6" r="6.4"/>
<circle cx="1124.1" cy="2151.8" r="6.4"/>
<circle cx="1118.4" cy="2157.3" r="6.4"/>
<circle cx="1129.3" cy="2163.6" r="6.4"/>
<circle cx="1149.5" cy="2164.0" r="6.4"/>
<circle cx="1175.6" cy="2143.0" r="6.4"/>
<circle cx="1177.3" cy="2156.0" r="6.4"/>
<circle cx="1198.0" cy="2153.9" r="6.4"/>
<circle cx="1015.3" cy="2143.4" r="6.4"/>
<circle cx="1005.8" cy="2147.6" r="6.4"/>
<circle cx="1018.9" cy="2152.4" r="6.4"/>
<circle cx="1024.1" cy="2160.2" r="6.4"/>
<circle cx="1037.0" cy="2153.5" r="6.4"/>
<circle cx="1066.4" cy="2160.9" r="6.4"/>
<circle cx="978.0" cy="2159.2" r="6.4"/>
<circle cx="893.2" cy="2160.9" r="6.4"/>
<circle cx="983.5" cy="2172.4" r="6.4"/>
<circle cx="999.9" cy="2172.4" r="6.4"/>
<circle cx="1029.6" cy="2171.8" r="6.4"/>
<circle cx="1042.6" cy="2169.7" r="6.4"/>
<circle cx="1011.1" cy="2177.8" r="6.4"/>
<circle cx="1086.8" cy="2177.2" r="6.4"/>
<circle cx="1206.8" cy="2177.8" r="6.4"/>
<circle cx="1072.1" cy="2182.4" r="6.4"/>
<circle cx="1050.0" cy="2180.5" r="6.4"/>
<circle cx="1027.9" cy="2178.8" r="6.4"/>
<circle cx="1045.8" cy="2173.6" r="6.4"/>
<circle cx="1002.0" cy="2184.1" r="6.4"/>
<circle cx="892.2" cy="2224.1" r="6.4"/>
<circle cx="915.3" cy="2186.8" r="6.4"/>
<circle cx="929.8" cy="2189.4" r="6.4"/>
<circle cx="953.8" cy="2190.8" r="6.4"/>
<circle cx="966.9" cy="2192.5" r="6.4"/>
<circle cx="898.9" cy="2199.5" r="6.4"/>
<circle cx="943.1" cy="2216.7" r="6.4"/>
<circle cx="939.5" cy="2228.9" r="6.4"/>
<circle cx="932.1" cy="2231.5" r="6.4"/>
<circle cx="987.3" cy="2217.8" r="6.4"/>
<circle cx="1020.5" cy="2206.8" r="6.4"/>
<circle cx="1025.8" cy="2192.9" r="6.4"/>
<circle cx="1033.2" cy="2190.4" r="6.4"/>
<circle cx="1047.9" cy="2199.5" r="6.4"/>
<circle cx="1052.1" cy="2193.1" r="6.4"/>
<circle cx="1056.3" cy="2201.6" r="6.4"/>
<circle cx="1074.2" cy="2186.2" r="6.4"/>
<circle cx="1084.1" cy="2190.4" r="6.4"/>
<circle cx="1092.7" cy="2193.6" r="6.4"/>
<circle cx="1088.9" cy="2198.8" r="6.4"/>
<circle cx="1075.7" cy="2199.9" r="6.4"/>
<circle cx="1079.5" cy="2209.4" r="6.4"/>
<circle cx="1068.5" cy="2212.9" r="6.4"/>
<circle cx="1057.4" cy="2216.3" r="6.4"/>
<circle cx="1053.8" cy="2223.0" r="6.4"/>
<circle cx="1109.4" cy="2190.0" r="6.4"/>
<circle cx="1105.8" cy="2207.2" r="6.4"/>
<circle cx="1099.5" cy="2211.5" r="6.4"/>
<circle cx="1094.6" cy="2221.6" r="6.4"/>
<circle cx="1085.1" cy="2227.2" r="6.4"/>
<circle cx="1081.6" cy="2236.7" r="6.4"/>
<circle cx="1070.0" cy="2233.6" r="6.4"/>
<circle cx="1111.0" cy="2226.6" r="6.4"/>
<circle cx="1103.7" cy="2237.8" r="6.4"/>
<circle cx="1098.0" cy="2251.9" r="6.4"/>
<circle cx="1007.9" cy="2234.6" r="6.4"/>
<circle cx="1009.0" cy="2238.8" r="6.4"/>
<circle cx="1038.8" cy="2254.0" r="6.4"/>
<circle cx="1046.4" cy="2251.4" r="6.4"/>
<circle cx="1151.7" cy="2185.2" r="6.4"/>
<circle cx="1161.1" cy="2205.1" r="6.4"/>
<circle cx="1162.6" cy="2234.2" r="6.4"/>
<circle cx="1155.4" cy="2246.2" r="6.4"/>
<circle cx="1185.7" cy="2193.6" r="6.4"/>
<circle cx="1193.7" cy="2191.0" r="6.4"/>
<circle cx="1190.6" cy="2198.8" r="6.4"/>
<circle cx="1180.9" cy="2203.5" r="6.4"/>
<circle cx="1183.2" cy="2216.7" r="6.4"/>
<circle cx="1192.1" cy="2223.0" r="6.4"/>
<circle cx="1179.4" cy="2228.9" r="6.4"/>
<circle cx="1188.9" cy="2228.9" r="6.4"/>
<circle cx="1203.2" cy="2213.6" r="6.4"/>
<circle cx="1206.8" cy="2223.0" r="6.4"/>
<circle cx="1210.4" cy="2231.5" r="6.4"/>
<circle cx="1214.2" cy="2190.4" r="6.4"/>
<circle cx="1172.1" cy="2260.9" r="6.4"/>
<circle cx="1165.8" cy="2266.2" r="6.4"/>
<circle cx="1164.1" cy="2277.3" r="6.4"/>
<circle cx="1173.5" cy="2275.6" r="6.4"/>
<circle cx="1208.9" cy="2256.7" r="6.4"/>
<circle cx="1213.1" cy="2265.1" r="6.4"/>
<circle cx="1217.3" cy="2271.4" r="6.4"/>
<circle cx="1170.2" cy="2298.8" r="6.4"/>
<circle cx="1195.9" cy="2298.8" r="6.4"/>
<circle cx="1215.6" cy="2307.8" r="6.4"/>
<circle cx="1112.9" cy="2305.5" r="6.4"/>
<circle cx="1059.5" cy="2276.9" r="6.4"/>
<circle cx="1061.2" cy="2299.9" r="6.4"/>
<circle cx="1033.4" cy="2289.7" r="6.4"/>
<circle cx="918.5" cy="2252.9" r="6.4"/>
<circle cx="926.9" cy="2251.4" r="6.4"/>
<circle cx="933.8" cy="2253.6" r="6.4"/>
<circle cx="937.8" cy="2247.9" r="6.4"/>
<circle cx="922.7" cy="2275.0" r="6.4"/>
<circle cx="924.4" cy="2288.3" r="6.4"/>
<circle cx="911.1" cy="2296.1" r="6.4"/>
<circle cx="920.6" cy="2299.4" r="6.4"/>
<circle cx="894.3" cy="2294.6" r="6.4"/>
<circle cx="897.0" cy="2299.9" r="6.4"/>
<circle cx="906.3" cy="2314.2" r="6.4"/>
<circle cx="952.1" cy="2270.8" r="6.4"/>
<circle cx="963.1" cy="2266.2" r="6.4"/>
<circle cx="972.6" cy="2258.8" r="6.4"/>
<circle cx="994.7" cy="2262.4" r="6.4"/>
<circle cx="965.8" cy="2280.3" r="6.4"/>
<circle cx="969.0" cy="2277.8" r="6.4"/>
<circle cx="985.2" cy="2280.9" r="6.4"/>
<circle cx="981.6" cy="2289.3" r="6.4"/>
<circle cx="998.4" cy="2276.3" r="6.4"/>
<circle cx="996.3" cy="2283.0" r="6.4"/>
<circle cx="991.1" cy="2294.0" r="6.4"/>
<circle cx="970.7" cy="2294.2" r="6.4"/>
<circle cx="948.3" cy="2301.3" r="6.4"/>
<circle cx="975.9" cy="2306.2" r="6.4"/>
<circle cx="979.9" cy="2314.6" r="6.4"/>
<circle cx="989.0" cy="2305.1" r="6.4"/>
<circle cx="961.2" cy="2311.4" r="6.4"/>
<circle cx="900.2" cy="2333.5" r="6.4"/>
<circle cx="917.0" cy="2334.6" r="6.4"/>
<circle cx="959.5" cy="2334.6" r="6.4"/>
<circle cx="992.8" cy="2337.3" r="6.4"/>
<circle cx="902.3" cy="2348.3" r="6.4"/>
<circle cx="944.8" cy="2346.8" r="6.4"/>
<circle cx="910.0" cy="2358.8" r="6.4"/>
<circle cx="913.8" cy="2360.9" r="6.4"/>
<circle cx="974.2" cy="2359.8" r="6.4"/>
<circle cx="950.5" cy="2366.6" r="6.4"/>
<circle cx="904.2" cy="2378.8" r="6.4"/>
<circle cx="935.3" cy="2376.2" r="6.4"/>
<circle cx="946.5" cy="2383.0" r="6.4"/>
<circle cx="955.9" cy="2387.6" r="6.4"/>
<circle cx="907.9" cy="2395.6" r="6.4"/>
<circle cx="1199.6" cy="2358.4" r="6.4"/>
<circle cx="1153.1" cy="2380.9" r="6.4"/>
<circle cx="1157.3" cy="2378.8" r="6.4"/>
<circle cx="1168.3" cy="2418.1" r="6.4"/>
<circle cx="957.8" cy="2460.0" r="6.4"/>
<circle cx="1402.7" cy="1917.8" r="6.4"/>
<circle cx="1341.7" cy="1964.5" r="6.4"/>
<circle cx="1482.1" cy="1951.0" r="6.4"/>
<circle cx="1493.2" cy="1957.1" r="6.4"/>
<circle cx="1489.7" cy="1983.0" r="6.4"/>
<circle cx="1491.1" cy="1996.7" r="6.4"/>
<circle cx="1498.9" cy="2000.9" r="6.4"/>
<circle cx="1329.1" cy="2022.4" r="6.4"/>
<circle cx="1484.2" cy="2041.9" r="6.4"/>
<circle cx="1229.1" cy="2050.4" r="6.4"/>
<circle cx="1301.1" cy="2053.5" r="6.4"/>
<circle cx="1400.8" cy="2050.8" r="6.4"/>
<circle cx="1240.0" cy="2066.1" r="6.4"/>
<circle cx="1293.7" cy="2069.7" r="6.4"/>
<circle cx="1341.1" cy="2065.7" r="6.4"/>
<circle cx="1344.2" cy="2065.7" r="6.4"/>
<circle cx="1337.9" cy="2074.6" r="6.4"/>
<circle cx="1244.0" cy="2083.6" r="6.4"/>
<circle cx="1264.2" cy="2085.1" r="6.4"/>
<circle cx="1319.4" cy="2089.3" r="6.4"/>
<circle cx="1327.4" cy="2086.8" r="6.4"/>
<circle cx="1312.2" cy="2098.3" r="6.4"/>
<circle cx="1336.2" cy="2095.2" r="6.4"/>
<circle cx="1398.9" cy="2091.8" r="6.4"/>
<circle cx="1406.3" cy="2095.0" r="6.4"/>
<circle cx="1458.3" cy="2060.3" r="6.4"/>
<circle cx="1480.4" cy="2065.7" r="6.4"/>
<circle cx="1487.8" cy="2075.2" r="6.4"/>
<circle cx="1460.4" cy="2081.3" r="6.4"/>
<circle cx="1478.5" cy="2087.2" r="6.4"/>
<circle cx="1474.7" cy="2099.8" r="6.4"/>
<circle cx="1485.9" cy="2102.6" r="6.4"/>
<circle cx="1452.6" cy="2104.0" r="6.4"/>
<circle cx="1502.5" cy="2055.2" r="6.4"/>
<circle cx="1508.4" cy="2061.9" r="6.4"/>
<circle cx="1513.6" cy="2066.1" r="6.4"/>
<circle cx="1509.9" cy="2075.0" r="6.4"/>
<circle cx="1251.6" cy="2107.2" r="6.4"/>
<circle cx="1222.2" cy="2116.7" r="6.4"/>
<circle cx="1245.7" cy="2118.3" r="6.4"/>
<circle cx="1253.1" cy="2130.3" r="6.4"/>
<circle cx="1310.6" cy="2119.2" r="6.4"/>
<circle cx="1347.0" cy="2125.1" r="6.4"/>
<circle cx="1354.7" cy="2124.7" r="6.4"/>
<circle cx="1495.3" cy="2120.2" r="6.4"/>
<circle cx="1521.0" cy="2115.2" r="6.4"/>
<circle cx="1548.4" cy="2105.7" r="6.4"/>
<circle cx="1545.6" cy="2116.7" r="6.4"/>
<circle cx="1221.1" cy="2139.4" r="6.4"/>
<circle cx="1281.1" cy="2138.8" r="6.4"/>
<circle cx="1282.1" cy="2141.9" r="6.4"/>
<circle cx="1275.4" cy="2144.0" r="6.4"/>
<circle cx="1295.4" cy="2134.1" r="6.4"/>
<circle cx="1323.2" cy="2132.4" r="6.4"/>
<circle cx="1325.3" cy="2135.6" r="6.4"/>
<circle cx="1391.6" cy="2137.7" r="6.4"/>
<circle cx="1422.1" cy="2133.5" r="6.4"/>
<circle cx="1496.8" cy="2135.6" r="6.4"/>
<circle cx="1504.2" cy="2131.4" r="6.4"/>
<circle cx="1541.8" cy="2136.9" r="6.4"/>
<circle cx="1540.6" cy="2143.8" r="6.4"/>
<circle cx="1225.3" cy="2149.3" r="6.4"/>
<circle cx="1234.8" cy="2153.5" r="6.4"/>
<circle cx="1242.2" cy="2157.7" r="6.4"/>
<circle cx="1249.5" cy="2165.5" r="6.4"/>
<circle cx="1237.5" cy="2168.2" r="6.4"/>
<circle cx="1227.4" cy="2169.7" r="6.4"/>
<circle cx="1267.8" cy="2170.3" r="6.4"/>
<circle cx="1273.7" cy="2165.1" r="6.4"/>
<circle cx="1286.3" cy="2173.5" r="6.4"/>
<circle cx="1292.2" cy="2164.0" r="6.4"/>
<circle cx="1321.5" cy="2168.2" r="6.4"/>
<circle cx="1345.3" cy="2158.7" r="6.4"/>
<circle cx="1349.5" cy="2163.4" r="6.4"/>
<circle cx="1362.1" cy="2167.6" r="6.4"/>
<circle cx="1380.6" cy="2158.1" r="6.4"/>
<circle cx="1408.4" cy="2165.1" r="6.4"/>
<circle cx="1415.8" cy="2168.2" r="6.4"/>
<circle cx="1428.4" cy="2172.4" r="6.4"/>
<circle cx="1445.2" cy="2146.1" r="6.4"/>
<circle cx="1450.9" cy="2150.3" r="6.4"/>
<circle cx="1454.3" cy="2158.7" r="6.4"/>
<circle cx="1472.6" cy="2157.7" r="6.4"/>
<circle cx="1461.0" cy="2172.4" r="6.4"/>
<circle cx="1467.3" cy="2169.3" r="6.4"/>
<circle cx="1448.8" cy="2173.5" r="6.4"/>
<circle cx="1539.3" cy="2157.7" r="6.4"/>
<circle cx="1397.5" cy="2177.2" r="6.4"/>
<circle cx="1260.5" cy="2183.0" r="6.4"/>
<circle cx="1266.4" cy="2186.8" r="6.4"/>
<circle cx="1365.7" cy="2181.4" r="6.4"/>
<circle cx="1515.3" cy="2181.4" r="6.4"/>
<circle cx="1535.7" cy="2183.0" r="6.4"/>
<circle cx="1506.3" cy="2187.7" r="6.4"/>
<circle cx="1233.1" cy="2190.4" r="6.4"/>
<circle cx="1277.3" cy="2185.8" r="6.4"/>
<circle cx="1305.3" cy="2186.6" r="6.4"/>
<circle cx="1317.5" cy="2186.2" r="6.4"/>
<circle cx="1306.3" cy="2191.5" r="6.4"/>
<circle cx="1315.8" cy="2195.7" r="6.4"/>
<circle cx="1332.6" cy="2201.4" r="6.4"/>
<circle cx="1353.1" cy="2197.1" r="6.4"/>
<circle cx="1271.6" cy="2205.8" r="6.4"/>
<circle cx="1288.0" cy="2207.9" r="6.4"/>
<circle cx="1299.6" cy="2212.5" r="6.4"/>
<circle cx="1334.5" cy="2217.8" r="6.4"/>
<circle cx="1367.8" cy="2213.6" r="6.4"/>
<circle cx="1384.2" cy="2198.8" r="6.4"/>
<circle cx="1389.5" cy="2196.7" r="6.4"/>
<circle cx="1395.8" cy="2205.1" r="6.4"/>
<circle cx="1382.1" cy="2209.4" r="6.4"/>
<circle cx="1404.6" cy="2209.4" r="6.4"/>
<circle cx="1386.3" cy="2226.2" r="6.4"/>
<circle cx="1393.7" cy="2239.2" r="6.4"/>
<circle cx="1456.4" cy="2200.9" r="6.4"/>
<circle cx="1465.7" cy="2206.2" r="6.4"/>
<circle cx="1436.2" cy="2223.0" r="6.4"/>
<circle cx="1443.8" cy="2224.7" r="6.4"/>
<circle cx="1439.6" cy="2234.6" r="6.4"/>
<circle cx="1469.0" cy="2239.9" r="6.4"/>
<circle cx="1545.2" cy="2209.4" r="6.4"/>
<circle cx="1534.1" cy="2233.6" r="6.4"/>
<circle cx="1537.8" cy="2236.7" r="6.4"/>
<circle cx="1524.6" cy="2239.4" r="6.4"/>
<circle cx="1224.3" cy="2219.9" r="6.4"/>
<circle cx="1231.2" cy="2224.5" r="6.4"/>
<circle cx="1284.7" cy="2226.2" r="6.4"/>
<circle cx="1303.2" cy="2229.3" r="6.4"/>
<circle cx="1308.4" cy="2235.7" r="6.4"/>
<circle cx="1314.3" cy="2240.9" r="6.4"/>
<circle cx="1247.4" cy="2241.3" r="6.4"/>
<circle cx="1269.5" cy="2245.8" r="6.4"/>
<circle cx="1290.1" cy="2244.7" r="6.4"/>
<circle cx="1297.5" cy="2252.9" r="6.4"/>
<circle cx="1356.4" cy="2248.3" r="6.4"/>
<circle cx="1375.2" cy="2248.3" r="6.4"/>
<circle cx="1376.8" cy="2260.3" r="6.4"/>
<circle cx="1409.7" cy="2247.2" r="6.4"/>
<circle cx="1417.9" cy="2251.4" r="6.4"/>
<circle cx="1255.2" cy="2263.0" r="6.4"/>
<circle cx="1262.6" cy="2276.3" r="6.4"/>
<circle cx="1424.8" cy="2271.0" r="6.4"/>
<circle cx="1426.9" cy="2281.5" r="6.4"/>
<circle cx="1430.5" cy="2295.2" r="6.4"/>
<circle cx="1441.5" cy="2294.2" r="6.4"/>
<circle cx="1434.1" cy="2304.1" r="6.4"/>
<circle cx="1500.4" cy="2272.9" r="6.4"/>
<circle cx="1511.5" cy="2275.2" r="6.4"/>
<circle cx="1523.1" cy="2286.2" r="6.4"/>
<circle cx="1530.5" cy="2288.3" r="6.4"/>
<circle cx="1532.6" cy="2293.5" r="6.4"/>
<circle cx="1518.9" cy="2297.7" r="6.4"/>
<circle cx="1528.4" cy="2308.3" r="6.4"/>
<circle cx="1471.1" cy="2299.9" r="6.4"/>
<circle cx="1476.8" cy="2306.2" r="6.4"/>
<circle cx="1351.0" cy="2281.3" r="6.4"/>
<circle cx="1360.0" cy="2282.4" r="6.4"/>
<circle cx="1369.9" cy="2280.3" r="6.4"/>
<circle cx="1378.9" cy="2278.8" r="6.4"/>
<circle cx="1330.5" cy="2290.4" r="6.4"/>
<circle cx="1358.5" cy="2304.5" r="6.4"/>
<circle cx="1372.6" cy="2306.8" r="6.4"/>
<circle cx="1364.2" cy="2316.3" r="6.4"/>
<circle cx="1412.0" cy="2320.9" r="6.4"/>
<circle cx="1447.3" cy="2320.9" r="6.4"/>
<circle cx="1437.9" cy="2332.1" r="6.4"/>
<circle cx="1432.2" cy="2348.7" r="6.4"/>
<circle cx="1526.3" cy="2341.3" r="6.4"/>
<circle cx="1258.8" cy="2330.8" r="6.4"/>
<circle cx="1279.2" cy="2332.1" r="6.4"/>
<circle cx="1517.4" cy="2373.5" r="6.4"/>
<circle cx="1256.9" cy="2405.5" r="6.4"/>
<circle cx="1413.9" cy="2400.5" r="6.4"/>
<circle cx="1419.4" cy="2425.5" r="6.4"/>
<circle cx="1657.6" cy="1871.3" r="6.4"/>
<circle cx="1631.9" cy="1909.1" r="6.4"/>
<circle cx="1687.3" cy="1928.5" r="6.4"/>
<circle cx="1683.7" cy="1955.4" r="6.4"/>
<circle cx="1763.0" cy="1955.4" r="6.4"/>
<circle cx="1681.6" cy="1984.1" r="6.4"/>
<circle cx="1759.2" cy="1992.5" r="6.4"/>
<circle cx="1644.8" cy="2002.6" r="6.4"/>
<circle cx="1696.3" cy="2003.0" r="6.4"/>
<circle cx="1849.5" cy="2009.3" r="6.4"/>
<circle cx="1554.3" cy="2019.8" r="6.4"/>
<circle cx="1633.6" cy="2021.5" r="6.4"/>
<circle cx="1605.8" cy="2033.5" r="6.4"/>
<circle cx="1666.9" cy="2036.7" r="6.4"/>
<circle cx="1691.1" cy="2038.8" r="6.4"/>
<circle cx="1753.1" cy="2037.1" r="6.4"/>
<circle cx="1751.7" cy="2041.9" r="6.4"/>
<circle cx="1571.1" cy="2053.1" r="6.4"/>
<circle cx="1630.0" cy="2048.3" r="6.4"/>
<circle cx="1635.3" cy="2053.5" r="6.4"/>
<circle cx="1655.9" cy="2050.4" r="6.4"/>
<circle cx="1653.2" cy="2055.2" r="6.4"/>
<circle cx="1660.5" cy="2060.9" r="6.4"/>
<circle cx="1674.2" cy="2047.6" r="6.4"/>
<circle cx="1670.0" cy="2065.1" r="6.4"/>
<circle cx="1679.5" cy="2067.2" r="6.4"/>
<circle cx="1617.0" cy="2060.9" r="6.4"/>
<circle cx="1639.5" cy="2065.1" r="6.4"/>
<circle cx="1556.4" cy="2065.1" r="6.4"/>
<circle cx="1567.5" cy="2065.7" r="6.4"/>
<circle cx="1569.0" cy="2074.6" r="6.4"/>
<circle cx="1665.0" cy="2076.7" r="6.4"/>
<circle cx="1714.8" cy="2056.0" r="6.4"/>
<circle cx="1707.3" cy="2071.8" r="6.4"/>
<circle cx="1693.0" cy="2082.6" r="6.4"/>
<circle cx="1685.4" cy="2092.5" r="6.4"/>
<circle cx="1677.4" cy="2097.3" r="6.4"/>
<circle cx="1708.9" cy="2088.2" r="6.4"/>
<circle cx="1704.7" cy="2091.4" r="6.4"/>
<circle cx="1702.0" cy="2097.3" r="6.4"/>
<circle cx="1760.9" cy="2067.2" r="6.4"/>
<circle cx="1765.1" cy="2071.8" r="6.4"/>
<circle cx="1775.9" cy="2080.2" r="6.4"/>
<circle cx="1755.7" cy="2085.1" r="6.4"/>
<circle cx="1750.0" cy="2097.3" r="6.4"/>
<circle cx="1747.9" cy="2109.7" r="6.4"/>
<circle cx="1783.0" cy="2096.7" r="6.4"/>
<circle cx="1777.3" cy="2109.9" r="6.4"/>
<circle cx="1811.0" cy="2093.1" r="6.4"/>
<circle cx="1842.2" cy="2063.6" r="6.4"/>
<circle cx="1846.2" cy="2072.5" r="6.4"/>
<circle cx="1851.6" cy="2085.5" r="6.4"/>
<circle cx="1607.9" cy="2089.7" r="6.4"/>
<circle cx="1648.3" cy="2099.0" r="6.4"/>
<circle cx="1580.1" cy="2105.7" r="6.4"/>
<circle cx="1574.7" cy="2115.6" r="6.4"/>
<circle cx="1609.6" cy="2105.1" r="6.4"/>
<circle cx="1613.2" cy="2109.9" r="6.4"/>
<circle cx="1646.4" cy="2114.6" r="6.4"/>
<circle cx="1650.4" cy="2121.9" r="6.4"/>
<circle cx="1675.9" cy="2110.3" r="6.4"/>
<circle cx="1700.1" cy="2116.2" r="6.4"/>
<circle cx="1689.0" cy="2123.0" r="6.4"/>
<circle cx="1731.5" cy="2113.9" r="6.4"/>
<circle cx="1602.2" cy="2121.9" r="6.4"/>
<circle cx="1626.4" cy="2122.5" r="6.4"/>
<circle cx="1641.0" cy="2133.1" r="6.4"/>
<circle cx="1766.4" cy="2124.0" r="6.4"/>
<circle cx="1779.5" cy="2131.8" r="6.4"/>
<circle cx="1785.1" cy="2148.9" r="6.4"/>
<circle cx="1711.1" cy="2138.8" r="6.4"/>
<circle cx="1716.7" cy="2146.5" r="6.4"/>
<circle cx="1727.9" cy="2152.4" r="6.4"/>
<circle cx="1712.7" cy="2157.1" r="6.4"/>
<circle cx="1694.6" cy="2159.8" r="6.4"/>
<circle cx="1704.1" cy="2166.5" r="6.4"/>
<circle cx="1746.2" cy="2164.4" r="6.4"/>
<circle cx="1773.8" cy="2163.6" r="6.4"/>
<circle cx="1770.0" cy="2168.6" r="6.4"/>
<circle cx="1827.4" cy="2165.7" r="6.4"/>
<circle cx="1847.9" cy="2171.8" r="6.4"/>
<circle cx="1618.9" cy="2149.9" r="6.4"/>
<circle cx="1572.8" cy="2153.1" r="6.4"/>
<circle cx="1561.6" cy="2156.6" r="6.4"/>
<circle cx="1565.4" cy="2158.7" r="6.4"/>
<circle cx="1552.2" cy="2157.7" r="6.4"/>
<circle cx="1587.3" cy="2158.7" r="6.4"/>
<circle cx="1628.3" cy="2165.5" r="6.4"/>
<circle cx="1620.6" cy="2167.6" r="6.4"/>
<circle cx="1670.4" cy="2170.7" r="6.4"/>
<circle cx="1576.4" cy="2171.0" r="6.4"/>
<circle cx="1550.1" cy="2171.8" r="6.4"/>
<circle cx="1798.0" cy="2175.2" r="6.4"/>
<circle cx="1611.5" cy="2177.2" r="6.4"/>
<circle cx="1622.7" cy="2180.9" r="6.4"/>
<circle cx="1788.9" cy="2177.8" r="6.4"/>
<circle cx="1772.1" cy="2182.0" r="6.4"/>
<circle cx="1563.3" cy="2187.7" r="6.4"/>
<circle cx="1581.6" cy="2183.7" r="6.4"/>
<circle cx="1583.7" cy="2190.0" r="6.4"/>
<circle cx="1578.5" cy="2200.3" r="6.4"/>
<circle cx="1663.3" cy="2189.4" r="6.4"/>
<circle cx="1643.1" cy="2199.9" r="6.4"/>
<circle cx="1659.5" cy="2208.7" r="6.4"/>
<circle cx="1637.4" cy="2216.3" r="6.4"/>
<circle cx="1624.1" cy="2223.7" r="6.4"/>
<circle cx="1615.3" cy="2233.6" r="6.4"/>
<circle cx="1600.1" cy="2230.8" r="6.4"/>
<circle cx="1592.8" cy="2211.9" r="6.4"/>
<circle cx="1594.2" cy="2220.5" r="6.4"/>
<circle cx="1585.8" cy="2223.7" r="6.4"/>
<circle cx="1652.1" cy="2230.0" r="6.4"/>
<circle cx="1559.9" cy="2245.6" r="6.4"/>
<circle cx="1589.0" cy="2255.2" r="6.4"/>
<circle cx="1604.1" cy="2253.1" r="6.4"/>
<circle cx="1598.5" cy="2263.0" r="6.4"/>
<circle cx="1698.4" cy="2203.5" r="6.4"/>
<circle cx="1720.5" cy="2197.1" r="6.4"/>
<circle cx="1724.1" cy="2204.1" r="6.4"/>
<circle cx="1722.6" cy="2218.8" r="6.4"/>
<circle cx="1718.4" cy="2224.5" r="6.4"/>
<circle cx="1733.4" cy="2226.6" r="6.4"/>
<circle cx="1757.4" cy="2236.9" r="6.4"/>
<circle cx="1768.3" cy="2243.7" r="6.4"/>
<circle cx="1781.6" cy="2226.8" r="6.4"/>
<circle cx="1790.6" cy="2200.9" r="6.4"/>
<circle cx="1801.6" cy="2205.8" r="6.4"/>
<circle cx="1812.7" cy="2214.0" r="6.4"/>
<circle cx="1823.7" cy="2201.4" r="6.4"/>
<circle cx="1844.3" cy="2205.4" r="6.4"/>
<circle cx="1835.2" cy="2226.6" r="6.4"/>
<circle cx="1816.5" cy="2236.9" r="6.4"/>
<circle cx="1838.8" cy="2241.3" r="6.4"/>
<circle cx="1822.0" cy="2250.0" r="6.4"/>
<circle cx="1792.5" cy="2248.3" r="6.4"/>
<circle cx="1805.8" cy="2259.9" r="6.4"/>
<circle cx="1809.3" cy="2263.4" r="6.4"/>
<circle cx="1786.8" cy="2269.3" r="6.4"/>
<circle cx="1799.4" cy="2276.7" r="6.4"/>
<circle cx="1807.2" cy="2283.0" r="6.4"/>
<circle cx="1795.7" cy="2286.8" r="6.4"/>
<circle cx="1819.4" cy="2273.5" r="6.4"/>
<circle cx="1830.0" cy="2275.2" r="6.4"/>
<circle cx="1825.8" cy="2282.0" r="6.4"/>
<circle cx="1735.0" cy="2263.7" r="6.4"/>
<circle cx="1725.8" cy="2307.2" r="6.4"/>
<circle cx="1744.3" cy="2310.4" r="6.4"/>
<circle cx="1742.2" cy="2317.3" r="6.4"/>
<circle cx="1794.6" cy="2311.0" r="6.4"/>
<circle cx="1814.2" cy="2310.0" r="6.4"/>
<circle cx="1818.0" cy="2306.2" r="6.4"/>
<circle cx="1836.7" cy="2315.2" r="6.4"/>
<circle cx="1840.5" cy="2328.7" r="6.4"/>
<circle cx="1831.4" cy="2346.2" r="6.4"/>
<circle cx="1833.1" cy="2362.4" r="6.4"/>
<circle cx="1738.8" cy="2334.2" r="6.4"/>
<circle cx="1740.9" cy="2357.7" r="6.4"/>
<circle cx="1736.9" cy="2407.8" r="6.4"/>
<circle cx="1729.6" cy="2449.7" r="6.4"/>
<circle cx="1591.3" cy="2302.4" r="6.4"/>
<circle cx="1596.8" cy="2355.2" r="6.4"/>
</g>
<g stroke="#000" stroke-width="2.2" stroke-linecap="butt">
<line x1="258.00" y1="1856.40" x2="258.00" y2="1840.40"/>
<line x1="258.00" y1="2499.50" x2="258.00" y2="2515.50"/>
<line x1="302.32" y1="1856.40" x2="302.32" y2="1848.90"/>
<line x1="302.32" y1="2499.50" x2="302.32" y2="2507.00"/>
<line x1="346.64" y1="1856.40" x2="346.64" y2="1848.90"/>
<line x1="346.64" y1="2499.50" x2="346.64" y2="2507.00"/>
<line x1="390.96" y1="1856.40" x2="390.96" y2="1840.40"/>
<line x1="390.96" y1="2499.50" x2="390.96" y2="2515.50"/>
<line x1="435.28" y1="1856.40" x2="435.28" y2="1848.90"/>
<line x1="435.28" y1="2499.50" x2="435.28" y2="2507.00"/>
<line x1="479.60" y1="1856.40" x2="479.60" y2="1848.90"/>
<line x1="479.60" y1="2499.50" x2="479.60" y2="2507.00"/>
<line x1="523.92" y1="1856.40" x2="523.92" y2="1840.40"/>
<line x1="523.92" y1="2499.50" x2="523.92" y2="2515.50"/>
<line x1="568.24" y1="1856.40" x2="568.24" y2="1848.90"/>
<line x1="568.24" y1="2499.50" x2="568.24" y2="2507.00"/>
<line x1="612.56" y1="1856.40" x2="612.56" y2="1848.90"/>
<line x1="612.56" y1="2499.50" x2="612.56" y2="2507.00"/>
<line x1="656.88" y1="1856.40" x2="656.88" y2="1840.40"/>
<line x1="656.88" y1="2499.50" x2="656.88" y2="2515.50"/>
<line x1="701.19" y1="1856.40" x2="701.19" y2="1848.90"/>
<line x1="701.19" y1="2499.50" x2="701.19" y2="2507.00"/>
<line x1="745.51" y1="1856.40" x2="745.51" y2="1848.90"/>
<line x1="745.51" y1="2499.50" x2="745.51" y2="2507.00"/>
<line x1="789.83" y1="1856.40" x2="789.83" y2="1840.40"/>
<line x1="789.83" y1="2499.50" x2="789.83" y2="2515.50"/>
<line x1="834.15" y1="1856.40" x2="834.15" y2="1848.90"/>
<line x1="834.15" y1="2499.50" x2="834.15" y2="2507.00"/>
<line x1="878.47" y1="1856.40" x2="878.47" y2="1848.90"/>
<line x1="878.47" y1="2499.50" x2="878.47" y2="2507.00"/>
<line x1="922.79" y1="1856.40" x2="922.79" y2="1840.40"/>
<line x1="922.79" y1="2499.50" x2="922.79" y2="2515.50"/>
<line x1="967.11" y1="1856.40" x2="967.11" y2="1848.90"/>
<line x1="967.11" y1="2499.50" x2="967.11" y2="2507.00"/>
<line x1="1011.43" y1="1856.40" x2="1011.43" y2="1848.90"/>
<line x1="1011.43" y1="2499.50" x2="1011.43" y2="2507.00"/>
<line x1="1055.75" y1="1856.40" x2="1055.75" y2="1840.40"/>
<line x1="1055.75" y1="2499.50" x2="1055.75" y2="2515.50"/>
<line x1="1100.07" y1="1856.40" x2="1100.07" y2="1848.90"/>
<line x1="1100.07" y1="2499.50" x2="1100.07" y2="2507.00"/>
<line x1="1144.39" y1="1856.40" x2="1144.39" y2="1848.90"/>
<line x1="1144.39" y1="2499.50" x2="1144.39" y2="2507.00"/>
<line x1="1188.71" y1="1856.40" x2="1188.71" y2="1840.40"/>
<line x1="1188.71" y1="2499.50" x2="1188.71" y2="2515.50"/>
<line x1="1233.03" y1="1856.40" x2="1233.03" y2="1848.90"/>
<line x1="1233.03" y1="2499.50" x2="1233.03" y2="2507.00"/>
<line x1="1277.35" y1="1856.40" x2="1277.35" y2="1848.90"/>
<line x1="1277.35" y1="2499.50" x2="1277.35" y2="2507.00"/>
<line x1="1321.67" y1="1856.40" x2="1321.67" y2="1840.40"/>
<line x1="1321.67" y1="2499.50" x2="1321.67" y2="2515.50"/>
<line x1="1365.99" y1="1856.40" x2="1365.99" y2="1848.90"/>
<line x1="1365.99" y1="2499.50" x2="1365.99" y2="2507.00"/>
<line x1="1410.31" y1="1856.40" x2="1410.31" y2="1848.90"/>
<line x1="1410.31" y1="2499.50" x2="1410.31" y2="2507.00"/>
<line x1="1454.62" y1="1856.40" x2="1454.62" y2="1840.40"/>
<line x1="1454.62" y1="2499.50" x2="1454.62" y2="2515.50"/>
<line x1="1498.94" y1="1856.40" x2="1498.94" y2="1848.90"/>
<line x1="1498.94" y1="2499.50" x2="1498.94" y2="2507.00"/>
<line x1="1543.26" y1="1856.40" x2="1543.26" y2="1848.90"/>
<line x1="1543.26" y1="2499.50" x2="1543.26" y2="2507.00"/>
<line x1="1587.58" y1="1856.40" x2="1587.58" y2="1840.40"/>
<line x1="1587.58" y1="2499.50" x2="1587.58" y2="2515.50"/>
<line x1="1631.90" y1="1856.40" x2="1631.90" y2="1848.90"/>
<line x1="1631.90" y1="2499.50" x2="1631.90" y2="2507.00"/>
<line x1="1676.22" y1="1856.40" x2="1676.22" y2="1848.90"/>
<line x1="1676.22" y1="2499.50" x2="1676.22" y2="2507.00"/>
<line x1="1720.54" y1="1856.40" x2="1720.54" y2="1840.40"/>
<line x1="1720.54" y1="2499.50" x2="1720.54" y2="2515.50"/>
<line x1="1764.86" y1="1856.40" x2="1764.86" y2="1848.90"/>
<line x1="1764.86" y1="2499.50" x2="1764.86" y2="2507.00"/>
<line x1="1809.18" y1="1856.40" x2="1809.18" y2="1848.90"/>
<line x1="1809.18" y1="2499.50" x2="1809.18" y2="2507.00"/>
<line x1="1853.50" y1="1856.40" x2="1853.50" y2="1840.40"/>
<line x1="1853.50" y1="2499.50" x2="1853.50" y2="2515.50"/>
<line x1="223.40" y1="1913.10" x2="207.40" y2="1913.10"/>
<line x1="1886.30" y1="1913.10" x2="1902.30" y2="1913.10"/>
<line x1="223.40" y1="2025.90" x2="207.40" y2="2025.90"/>
<line x1="1886.30" y1="2025.90" x2="1902.30" y2="2025.90"/>
<line x1="223.40" y1="2138.70" x2="207.40" y2="2138.70"/>
<line x1="1886.30" y1="2138.70" x2="1902.30" y2="2138.70"/>
<line x1="223.40" y1="2251.50" x2="207.40" y2="2251.50"/>
<line x1="1886.30" y1="2251.50" x2="1902.30" y2="2251.50"/>
<line x1="223.40" y1="2364.30" x2="207.40" y2="2364.30"/>
<line x1="1886.30" y1="2364.30" x2="1902.30" y2="2364.30"/>
<line x1="223.40" y1="2477.10" x2="207.40" y2="2477.10"/>
<line x1="1886.30" y1="2477.10" x2="1902.30" y2="2477.10"/>
</g>
<rect x="226.20" y="1859.20" width="1657.30" height="637.50" fill="none" stroke="#000" stroke-width="5.6" stroke-linejoin="miter"/>
<text transform="translate(258.00,2563.30) scale(1,1.07)" font-family="Liberation Sans, Arial, sans-serif" font-weight="bold" font-size="42.0" text-anchor="middle" style="white-space:pre" >0</text>
<text transform="translate(390.96,2563.30) scale(1,1.07)" font-family="Liberation Sans, Arial, sans-serif" font-weight="bold" font-size="42.0" text-anchor="middle" style="white-space:pre" >6</text>
<text transform="translate(523.92,2563.30) scale(1,1.07)" font-family="Liberation Sans, Arial, sans-serif" font-weight="bold" font-size="42.0" text-anchor="middle" style="white-space:pre" >12</text>
<text transform="translate(656.88,2563.30) scale(1,1.07)" font-family="Liberation Sans, Arial, sans-serif" font-weight="bold" font-size="42.0" text-anchor="middle" style="white-space:pre" >18</text>
<text transform="translate(789.83,2563.30) scale(1,1.07)" font-family="Liberation Sans, Arial, sans-serif" font-weight="bold" font-size="42.0" text-anchor="middle" style="white-space:pre" >24</text>
<text transform="translate(922.79,2563.30) scale(1,1.07)" font-family="Liberation Sans, Arial, sans-serif" font-weight="bold" font-size="42.0" text-anchor="middle" style="white-space:pre" >30</text>
<text transform="translate(1055.75,2563.30) scale(1,1.07)" font-family="Liberation Sans, Arial, sans-serif" font-weight="bold" font-size="42.0" text-anchor="middle" style="white-space:pre" >36</text>
<text transform="translate(1188.71,2563.30) scale(1,1.07)" font-family="Liberation Sans, Arial, sans-serif" font-weight="bold" font-size="42.0" text-anchor="middle" style="white-space:pre" >42</text>
<text transform="translate(1321.67,2563.30) scale(1,1.07)" font-family="Liberation Sans, Arial, sans-serif" font-weight="bold" font-size="42.0" text-anchor="middle" style="white-space:pre" >48</text>
<text transform="translate(1454.62,2563.30) scale(1,1.07)" font-family="Liberation Sans, Arial, sans-serif" font-weight="bold" font-size="42.0" text-anchor="middle" style="white-space:pre" >54</text>
<text transform="translate(1587.58,2563.30) scale(1,1.07)" font-family="Liberation Sans, Arial, sans-serif" font-weight="bold" font-size="42.0" text-anchor="middle" style="white-space:pre" >60</text>
<text transform="translate(1720.54,2563.30) scale(1,1.07)" font-family="Liberation Sans, Arial, sans-serif" font-weight="bold" font-size="42.0" text-anchor="middle" style="white-space:pre" >66</text>
<text transform="translate(1853.50,2563.30) scale(1,1.07)" font-family="Liberation Sans, Arial, sans-serif" font-weight="bold" font-size="42.0" text-anchor="middle" style="white-space:pre" >72</text>
<text transform="translate(190.70,1928.60) scale(1,1.07)" font-family="Liberation Sans, Arial, sans-serif" font-weight="bold" font-size="42.0" text-anchor="end" style="white-space:pre" >20</text>
<text transform="translate(190.70,2041.40) scale(1,1.07)" font-family="Liberation Sans, Arial, sans-serif" font-weight="bold" font-size="42.0" text-anchor="end" style="white-space:pre" >0</text>
<text transform="translate(190.70,2154.20) scale(1,1.07)" font-family="Liberation Sans, Arial, sans-serif" font-weight="bold" font-size="42.0" text-anchor="end" style="white-space:pre" ><tspan dy="4.6">−</tspan><tspan dy="-4.6">20</tspan></text>
<text transform="translate(190.70,2267.00) scale(1,1.07)" font-family="Liberation Sans, Arial, sans-serif" font-weight="bold" font-size="42.0" text-anchor="end" style="white-space:pre" ><tspan dy="4.6">−</tspan><tspan dy="-4.6">40</tspan></text>
<text transform="translate(190.70,2379.80) scale(1,1.07)" font-family="Liberation Sans, Arial, sans-serif" font-weight="bold" font-size="42.0" text-anchor="end" style="white-space:pre" ><tspan dy="4.6">−</tspan><tspan dy="-4.6">60</tspan></text>
<text transform="translate(190.70,2492.60) scale(1,1.07)" font-family="Liberation Sans, Arial, sans-serif" font-weight="bold" font-size="42.0" text-anchor="end" style="white-space:pre" ><tspan dy="4.6">−</tspan><tspan dy="-4.6">80</tspan></text>
<text transform="translate(89.90,2177.95) rotate(-90) scale(1,1.07)" font-family="Liberation Sans, Arial, sans-serif" font-size="42.2" text-anchor="middle" style="white-space:pre" >Up (mm)</text>
<text transform="translate(1055.00,2622.20) scale(1,1.07)" font-family="Liberation Sans, Arial, sans-serif" font-size="42.4" text-anchor="middle" style="white-space:pre" >Time (hours since beginning of first day UTC)</text>
<rect x="226.20" y="2726.0" width="1657.30" height="152.90" fill="none" stroke="#000" stroke-width="5.6"/>
<text transform="translate(1055.00,2765.00) scale(1,1.07)" font-family="Liberation Sans, Arial, sans-serif" font-weight="bold" font-size="42.6" text-anchor="middle" style="white-space:pre" >Processed Using JPL Rapid Orbits</text>
<text transform="translate(1055.00,2804.80) scale(1,1.07)" font-family="Liberation Sans, Arial, sans-serif" font-weight="bold" font-size="43.0" text-anchor="middle" style="white-space:pre" >by the Nevada Geodetic Laboratory.</text>
<text transform="translate(1055.00,2845.70) scale(1,1.07)" font-family="Liberation Sans, Arial, sans-serif" font-weight="bold" font-size="43.0" text-anchor="middle" style="white-space:pre" >Plotted on 2026-Jan-11.</text>
</svg>
</body></html>
